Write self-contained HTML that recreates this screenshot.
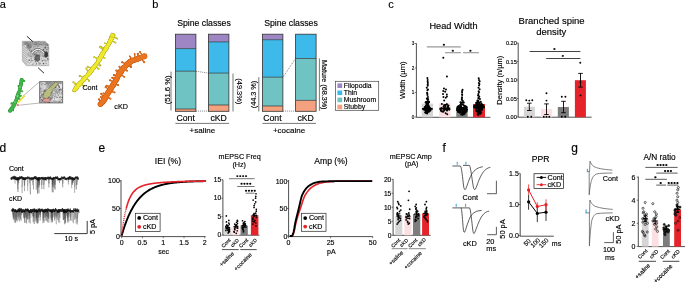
<!DOCTYPE html>
<html><head><meta charset="utf-8"><style>
html,body{margin:0;padding:0;background:#fff;}
svg{display:block;font-family:"Liberation Sans", sans-serif;will-change:transform;}
</style></head><body>
<svg width="685" height="282" viewBox="0 0 685 282">
<text x="-0.30" y="7.80" font-size="11" text-anchor="start" font-weight="normal" fill="#000" stroke="#000" stroke-width="0.15">a</text>
<text x="152.30" y="7.80" font-size="11" text-anchor="start" font-weight="normal" fill="#000" stroke="#000" stroke-width="0.15">b</text>
<text x="388.20" y="7.80" font-size="11" text-anchor="start" font-weight="normal" fill="#000" stroke="#000" stroke-width="0.15">c</text>
<text x="-0.60" y="151.50" font-size="12" text-anchor="start" font-weight="normal" fill="#000" stroke="#000" stroke-width="0.15">d</text>
<text x="98.40" y="151.50" font-size="12" text-anchor="start" font-weight="normal" fill="#000" stroke="#000" stroke-width="0.15">e</text>
<text x="442.60" y="151.50" font-size="12" text-anchor="start" font-weight="normal" fill="#000" stroke="#000" stroke-width="0.15">f</text>
<text x="571.20" y="151.50" font-size="12" text-anchor="start" font-weight="normal" fill="#000" stroke="#000" stroke-width="0.15">g</text>
<polygon points="22.3,41.2 45,41.2 48.9,44.8 48.9,65.8 26.2,65.8 22.3,60.7" fill="#bcbcbc"/>
<clipPath id="cube"><polygon points="22.3,41.2 45,41.2 48.9,44.8 48.9,65.8 26.2,65.8 22.3,60.7"/></clipPath>
<g clip-path="url(#cube)">
<rect x="26" y="57" width="24" height="10" fill="#d6d6d6"/>
<polygon points="22.3,41.2 27,45.5 27,66 22.3,61" fill="#dadada"/>
<line x1="22.3" y1="45.0" x2="27" y2="49.0" stroke="#777" stroke-width="0.45"/>
<line x1="22.3" y1="47.2" x2="27" y2="51.2" stroke="#777" stroke-width="0.45"/>
<line x1="22.3" y1="49.4" x2="27" y2="53.4" stroke="#777" stroke-width="0.45"/>
<line x1="22.3" y1="51.6" x2="27" y2="55.6" stroke="#777" stroke-width="0.45"/>
<line x1="22.3" y1="53.8" x2="27" y2="57.8" stroke="#777" stroke-width="0.45"/>
<line x1="22.3" y1="56.0" x2="27" y2="60.0" stroke="#777" stroke-width="0.45"/>
<line x1="22.3" y1="58.2" x2="27" y2="62.2" stroke="#777" stroke-width="0.45"/>
<line x1="22.3" y1="60.4" x2="27" y2="64.4" stroke="#777" stroke-width="0.45"/>
<rect x="28.7" y="55.1" width="1.3" height="0.9" fill="rgb(160,160,160)" opacity="0.75"/>
<rect x="38.3" y="56.7" width="0.7" height="0.7" fill="rgb(215,215,215)" opacity="0.75"/>
<rect x="49.9" y="53.2" width="0.9" height="1.1" fill="rgb(235,235,235)" opacity="0.75"/>
<rect x="46.3" y="54.6" width="1.1" height="0.6" fill="rgb(50,50,50)" opacity="0.75"/>
<rect x="43.2" y="56.4" width="1.2" height="1.2" fill="rgb(130,130,130)" opacity="0.75"/>
<rect x="29.5" y="56.5" width="1.1" height="1.3" fill="rgb(190,190,190)" opacity="0.75"/>
<rect x="33.1" y="61.8" width="1.4" height="0.6" fill="rgb(215,215,215)" opacity="0.75"/>
<rect x="32.2" y="41.9" width="0.7" height="1.4" fill="rgb(215,215,215)" opacity="0.75"/>
<rect x="34.2" y="57.3" width="0.9" height="1.3" fill="rgb(130,130,130)" opacity="0.75"/>
<rect x="38.1" y="54.9" width="1.0" height="1.3" fill="rgb(190,190,190)" opacity="0.75"/>
<rect x="41.1" y="65.2" width="1.4" height="1.1" fill="rgb(130,130,130)" opacity="0.75"/>
<rect x="49.0" y="64.5" width="0.6" height="1.1" fill="rgb(250,250,250)" opacity="0.75"/>
<rect x="39.7" y="66.7" width="0.8" height="0.6" fill="rgb(130,130,130)" opacity="0.75"/>
<rect x="45.9" y="66.7" width="0.8" height="0.6" fill="rgb(70,70,70)" opacity="0.75"/>
<rect x="47.1" y="41.5" width="1.2" height="1.3" fill="rgb(190,190,190)" opacity="0.75"/>
<rect x="31.3" y="63.9" width="1.0" height="1.4" fill="rgb(130,130,130)" opacity="0.75"/>
<rect x="30.7" y="43.0" width="1.0" height="1.4" fill="rgb(250,250,250)" opacity="0.75"/>
<rect x="49.2" y="48.6" width="0.6" height="0.5" fill="rgb(130,130,130)" opacity="0.75"/>
<rect x="46.3" y="49.2" width="1.3" height="0.8" fill="rgb(90,90,90)" opacity="0.75"/>
<rect x="34.9" y="54.5" width="1.1" height="0.6" fill="rgb(250,250,250)" opacity="0.75"/>
<rect x="49.2" y="62.1" width="0.9" height="1.1" fill="rgb(130,130,130)" opacity="0.75"/>
<rect x="28.7" y="48.8" width="1.0" height="1.0" fill="rgb(130,130,130)" opacity="0.75"/>
<rect x="38.2" y="41.5" width="1.0" height="0.6" fill="rgb(250,250,250)" opacity="0.75"/>
<rect x="39.7" y="49.6" width="1.1" height="0.8" fill="rgb(160,160,160)" opacity="0.75"/>
<rect x="41.8" y="60.2" width="1.0" height="1.4" fill="rgb(50,50,50)" opacity="0.75"/>
<rect x="39.6" y="48.8" width="0.8" height="0.8" fill="rgb(250,250,250)" opacity="0.75"/>
<rect x="30.8" y="50.6" width="0.7" height="1.2" fill="rgb(250,250,250)" opacity="0.75"/>
<rect x="49.2" y="58.8" width="0.8" height="0.7" fill="rgb(90,90,90)" opacity="0.75"/>
<rect x="44.5" y="47.2" width="1.1" height="1.1" fill="rgb(90,90,90)" opacity="0.75"/>
<rect x="48.6" y="58.5" width="0.9" height="1.3" fill="rgb(110,110,110)" opacity="0.75"/>
<rect x="40.2" y="64.0" width="0.7" height="1.2" fill="rgb(215,215,215)" opacity="0.75"/>
<rect x="30.8" y="62.7" width="0.7" height="0.8" fill="rgb(250,250,250)" opacity="0.75"/>
<rect x="44.6" y="57.7" width="0.8" height="0.6" fill="rgb(250,250,250)" opacity="0.75"/>
<rect x="30.2" y="61.6" width="0.9" height="1.1" fill="rgb(130,130,130)" opacity="0.75"/>
<rect x="30.1" y="55.8" width="1.3" height="0.6" fill="rgb(50,50,50)" opacity="0.75"/>
<rect x="46.6" y="66.7" width="1.0" height="1.4" fill="rgb(190,190,190)" opacity="0.75"/>
<rect x="42.1" y="41.8" width="1.3" height="1.1" fill="rgb(215,215,215)" opacity="0.75"/>
<rect x="36.5" y="48.5" width="1.3" height="1.3" fill="rgb(160,160,160)" opacity="0.75"/>
<rect x="46.0" y="66.2" width="1.2" height="0.5" fill="rgb(70,70,70)" opacity="0.75"/>
<rect x="47.3" y="59.0" width="1.3" height="1.3" fill="rgb(110,110,110)" opacity="0.75"/>
<rect x="38.2" y="41.3" width="0.7" height="0.8" fill="rgb(70,70,70)" opacity="0.75"/>
<rect x="40.6" y="54.6" width="0.5" height="1.3" fill="rgb(190,190,190)" opacity="0.75"/>
<rect x="25.2" y="44.3" width="0.9" height="1.2" fill="rgb(235,235,235)" opacity="0.75"/>
<rect x="31.9" y="46.1" width="1.3" height="0.6" fill="rgb(235,235,235)" opacity="0.75"/>
<rect x="28.7" y="48.1" width="1.2" height="0.5" fill="rgb(90,90,90)" opacity="0.75"/>
<rect x="39.6" y="63.4" width="1.2" height="0.7" fill="rgb(50,50,50)" opacity="0.75"/>
<rect x="39.3" y="54.5" width="0.9" height="1.2" fill="rgb(50,50,50)" opacity="0.75"/>
<rect x="22.1" y="42.4" width="0.5" height="0.5" fill="rgb(90,90,90)" opacity="0.75"/>
<rect x="35.5" y="41.9" width="1.0" height="0.9" fill="rgb(70,70,70)" opacity="0.75"/>
<rect x="26.4" y="42.9" width="1.1" height="1.0" fill="rgb(190,190,190)" opacity="0.75"/>
<rect x="32.1" y="46.0" width="0.9" height="0.6" fill="rgb(160,160,160)" opacity="0.75"/>
<rect x="44.3" y="55.7" width="0.8" height="1.0" fill="rgb(50,50,50)" opacity="0.75"/>
<rect x="43.9" y="50.9" width="1.1" height="0.9" fill="rgb(50,50,50)" opacity="0.75"/>
<rect x="32.4" y="53.9" width="0.9" height="1.1" fill="rgb(160,160,160)" opacity="0.75"/>
<rect x="34.9" y="47.4" width="0.7" height="1.0" fill="rgb(235,235,235)" opacity="0.75"/>
<rect x="44.5" y="46.8" width="1.3" height="1.3" fill="rgb(90,90,90)" opacity="0.75"/>
<rect x="32.5" y="64.3" width="0.6" height="1.1" fill="rgb(130,130,130)" opacity="0.75"/>
<rect x="48.3" y="60.0" width="1.2" height="1.1" fill="rgb(235,235,235)" opacity="0.75"/>
<rect x="42.5" y="55.7" width="1.2" height="1.1" fill="rgb(70,70,70)" opacity="0.75"/>
<rect x="35.3" y="47.1" width="0.5" height="0.6" fill="rgb(190,190,190)" opacity="0.75"/>
<rect x="27.0" y="41.6" width="0.5" height="0.6" fill="rgb(70,70,70)" opacity="0.75"/>
<rect x="35.5" y="59.1" width="1.0" height="1.2" fill="rgb(130,130,130)" opacity="0.75"/>
<rect x="36.3" y="59.6" width="1.0" height="0.6" fill="rgb(70,70,70)" opacity="0.75"/>
<rect x="37.5" y="55.3" width="0.7" height="0.6" fill="rgb(250,250,250)" opacity="0.75"/>
<rect x="50.0" y="57.8" width="1.1" height="1.2" fill="rgb(215,215,215)" opacity="0.75"/>
<rect x="33.0" y="50.6" width="1.3" height="1.0" fill="rgb(190,190,190)" opacity="0.75"/>
<rect x="49.1" y="50.8" width="1.4" height="0.9" fill="rgb(110,110,110)" opacity="0.75"/>
<rect x="42.9" y="45.2" width="1.2" height="1.1" fill="rgb(250,250,250)" opacity="0.75"/>
<rect x="36.5" y="53.6" width="1.3" height="0.6" fill="rgb(190,190,190)" opacity="0.75"/>
<rect x="47.7" y="54.4" width="1.0" height="1.3" fill="rgb(215,215,215)" opacity="0.75"/>
<rect x="48.2" y="63.1" width="1.4" height="0.8" fill="rgb(235,235,235)" opacity="0.75"/>
<rect x="41.7" y="51.7" width="1.0" height="0.7" fill="rgb(250,250,250)" opacity="0.75"/>
<rect x="28.1" y="41.6" width="1.2" height="0.7" fill="rgb(215,215,215)" opacity="0.75"/>
<rect x="38.0" y="47.2" width="1.2" height="0.6" fill="rgb(215,215,215)" opacity="0.75"/>
<rect x="49.8" y="53.5" width="0.7" height="1.0" fill="rgb(250,250,250)" opacity="0.75"/>
<rect x="47.2" y="58.0" width="0.9" height="1.1" fill="rgb(50,50,50)" opacity="0.75"/>
<rect x="46.0" y="51.4" width="0.9" height="0.7" fill="rgb(50,50,50)" opacity="0.75"/>
<rect x="28.6" y="59.7" width="1.4" height="1.3" fill="rgb(70,70,70)" opacity="0.75"/>
<rect x="28.8" y="45.9" width="0.6" height="1.1" fill="rgb(130,130,130)" opacity="0.75"/>
<rect x="40.9" y="42.0" width="0.7" height="0.5" fill="rgb(130,130,130)" opacity="0.75"/>
<rect x="27.1" y="43.4" width="0.6" height="0.7" fill="rgb(70,70,70)" opacity="0.75"/>
<rect x="47.6" y="41.9" width="1.0" height="1.1" fill="rgb(215,215,215)" opacity="0.75"/>
<rect x="34.2" y="53.6" width="1.1" height="1.2" fill="rgb(110,110,110)" opacity="0.75"/>
<rect x="35.7" y="44.3" width="0.6" height="0.7" fill="rgb(160,160,160)" opacity="0.75"/>
<rect x="40.6" y="43.9" width="1.3" height="0.6" fill="rgb(235,235,235)" opacity="0.75"/>
<rect x="48.4" y="50.7" width="1.2" height="0.8" fill="rgb(160,160,160)" opacity="0.75"/>
<rect x="40.9" y="58.0" width="0.6" height="1.4" fill="rgb(130,130,130)" opacity="0.75"/>
<rect x="31.5" y="55.7" width="0.6" height="0.9" fill="rgb(235,235,235)" opacity="0.75"/>
<rect x="31.9" y="59.7" width="1.2" height="1.1" fill="rgb(250,250,250)" opacity="0.75"/>
<rect x="42.4" y="44.9" width="1.3" height="1.1" fill="rgb(160,160,160)" opacity="0.75"/>
<rect x="42.2" y="56.5" width="0.8" height="0.7" fill="rgb(235,235,235)" opacity="0.75"/>
<rect x="35.5" y="61.3" width="0.6" height="0.7" fill="rgb(70,70,70)" opacity="0.75"/>
<rect x="37.5" y="56.0" width="0.8" height="0.7" fill="rgb(190,190,190)" opacity="0.75"/>
<rect x="32.7" y="63.7" width="0.9" height="0.7" fill="rgb(50,50,50)" opacity="0.75"/>
<rect x="41.5" y="54.4" width="1.4" height="0.9" fill="rgb(160,160,160)" opacity="0.75"/>
<rect x="44.7" y="42.8" width="1.3" height="0.6" fill="rgb(215,215,215)" opacity="0.75"/>
<rect x="29.6" y="43.6" width="1.0" height="1.3" fill="rgb(70,70,70)" opacity="0.75"/>
<rect x="37.9" y="58.4" width="1.2" height="1.2" fill="rgb(190,190,190)" opacity="0.75"/>
<rect x="38.6" y="44.8" width="1.2" height="1.0" fill="rgb(190,190,190)" opacity="0.75"/>
<rect x="46.3" y="50.6" width="0.5" height="1.2" fill="rgb(130,130,130)" opacity="0.75"/>
<rect x="47.0" y="65.7" width="0.8" height="1.3" fill="rgb(190,190,190)" opacity="0.75"/>
<rect x="30.7" y="53.9" width="1.1" height="0.8" fill="rgb(235,235,235)" opacity="0.75"/>
<rect x="46.1" y="53.6" width="0.7" height="1.1" fill="rgb(250,250,250)" opacity="0.75"/>
<rect x="28.5" y="45.5" width="0.7" height="1.2" fill="rgb(215,215,215)" opacity="0.75"/>
<rect x="27.9" y="62.1" width="0.6" height="0.8" fill="rgb(215,215,215)" opacity="0.75"/>
<rect x="40.4" y="45.0" width="1.2" height="1.1" fill="rgb(215,215,215)" opacity="0.75"/>
<rect x="28.5" y="43.0" width="0.5" height="0.8" fill="rgb(235,235,235)" opacity="0.75"/>
<rect x="31.2" y="49.9" width="0.6" height="1.3" fill="rgb(90,90,90)" opacity="0.75"/>
<rect x="43.7" y="41.9" width="1.2" height="0.8" fill="rgb(70,70,70)" opacity="0.75"/>
<rect x="44.6" y="65.2" width="0.9" height="1.2" fill="rgb(110,110,110)" opacity="0.75"/>
<rect x="35.6" y="43.8" width="0.9" height="1.3" fill="rgb(50,50,50)" opacity="0.75"/>
<rect x="41.8" y="51.2" width="1.1" height="1.0" fill="rgb(215,215,215)" opacity="0.75"/>
<rect x="33.8" y="57.9" width="0.5" height="0.9" fill="rgb(130,130,130)" opacity="0.75"/>
<rect x="41.4" y="52.4" width="1.3" height="1.1" fill="rgb(215,215,215)" opacity="0.75"/>
<rect x="32.3" y="50.6" width="0.8" height="0.9" fill="rgb(235,235,235)" opacity="0.75"/>
<rect x="49.2" y="61.9" width="1.2" height="0.6" fill="rgb(130,130,130)" opacity="0.75"/>
<rect x="34.9" y="46.1" width="0.5" height="1.0" fill="rgb(110,110,110)" opacity="0.75"/>
<rect x="36.1" y="57.6" width="0.6" height="0.7" fill="rgb(90,90,90)" opacity="0.75"/>
<rect x="35.7" y="42.6" width="0.9" height="0.8" fill="rgb(50,50,50)" opacity="0.75"/>
<rect x="28.7" y="42.0" width="0.5" height="1.4" fill="rgb(215,215,215)" opacity="0.75"/>
<rect x="28.1" y="43.5" width="0.7" height="0.8" fill="rgb(215,215,215)" opacity="0.75"/>
<rect x="38.6" y="62.0" width="0.7" height="1.2" fill="rgb(130,130,130)" opacity="0.75"/>
<rect x="35.0" y="65.3" width="0.9" height="1.0" fill="rgb(130,130,130)" opacity="0.75"/>
<rect x="49.8" y="49.2" width="1.1" height="1.4" fill="rgb(50,50,50)" opacity="0.75"/>
<rect x="38.6" y="41.1" width="1.1" height="0.5" fill="rgb(50,50,50)" opacity="0.75"/>
<rect x="36.1" y="53.5" width="1.1" height="1.3" fill="rgb(110,110,110)" opacity="0.75"/>
<rect x="27.6" y="66.3" width="0.8" height="0.9" fill="rgb(215,215,215)" opacity="0.75"/>
<rect x="31.8" y="58.1" width="0.8" height="1.0" fill="rgb(190,190,190)" opacity="0.75"/>
<rect x="48.5" y="43.3" width="0.7" height="0.9" fill="rgb(130,130,130)" opacity="0.75"/>
<rect x="36.2" y="55.2" width="1.1" height="1.3" fill="rgb(235,235,235)" opacity="0.75"/>
<rect x="42.6" y="62.7" width="0.8" height="0.7" fill="rgb(235,235,235)" opacity="0.75"/>
<rect x="44.4" y="52.4" width="1.2" height="0.9" fill="rgb(215,215,215)" opacity="0.75"/>
<rect x="29.5" y="45.4" width="1.3" height="1.1" fill="rgb(250,250,250)" opacity="0.75"/>
<rect x="48.6" y="42.1" width="1.1" height="0.5" fill="rgb(90,90,90)" opacity="0.75"/>
<rect x="35.1" y="60.7" width="0.8" height="1.0" fill="rgb(70,70,70)" opacity="0.75"/>
<rect x="44.4" y="42.5" width="1.3" height="0.9" fill="rgb(250,250,250)" opacity="0.75"/>
<rect x="47.1" y="60.1" width="1.4" height="0.5" fill="rgb(160,160,160)" opacity="0.75"/>
<rect x="27.5" y="61.5" width="0.8" height="0.8" fill="rgb(70,70,70)" opacity="0.75"/>
<rect x="34.6" y="62.4" width="0.7" height="0.5" fill="rgb(110,110,110)" opacity="0.75"/>
<rect x="38.4" y="41.3" width="0.8" height="0.7" fill="rgb(110,110,110)" opacity="0.75"/>
<rect x="45.8" y="54.4" width="1.2" height="1.0" fill="rgb(235,235,235)" opacity="0.75"/>
<rect x="44.1" y="54.9" width="0.9" height="1.1" fill="rgb(110,110,110)" opacity="0.75"/>
<rect x="38.7" y="63.3" width="0.7" height="1.3" fill="rgb(70,70,70)" opacity="0.75"/>
<rect x="28.2" y="62.6" width="0.6" height="0.9" fill="rgb(250,250,250)" opacity="0.75"/>
<rect x="40.7" y="59.2" width="1.0" height="0.9" fill="rgb(190,190,190)" opacity="0.75"/>
<rect x="38.6" y="62.2" width="0.6" height="0.5" fill="rgb(110,110,110)" opacity="0.75"/>
<rect x="30.4" y="57.7" width="0.8" height="0.9" fill="rgb(160,160,160)" opacity="0.75"/>
<rect x="42.6" y="52.0" width="1.0" height="0.7" fill="rgb(70,70,70)" opacity="0.75"/>
<rect x="31.8" y="66.9" width="0.7" height="0.9" fill="rgb(160,160,160)" opacity="0.75"/>
<rect x="29.0" y="49.4" width="1.2" height="1.3" fill="rgb(110,110,110)" opacity="0.75"/>
<rect x="49.6" y="56.9" width="1.3" height="0.8" fill="rgb(235,235,235)" opacity="0.75"/>
<rect x="27.4" y="57.2" width="0.9" height="1.2" fill="rgb(190,190,190)" opacity="0.75"/>
<rect x="33.4" y="66.9" width="0.8" height="1.3" fill="rgb(50,50,50)" opacity="0.75"/>
<rect x="27.2" y="43.5" width="0.8" height="1.0" fill="rgb(90,90,90)" opacity="0.75"/>
<rect x="39.9" y="42.1" width="0.7" height="0.9" fill="rgb(110,110,110)" opacity="0.75"/>
<rect x="31.7" y="60.3" width="0.6" height="0.9" fill="rgb(130,130,130)" opacity="0.75"/>
<rect x="47.4" y="52.5" width="0.6" height="1.2" fill="rgb(110,110,110)" opacity="0.75"/>
<rect x="41.6" y="66.4" width="1.3" height="0.9" fill="rgb(160,160,160)" opacity="0.75"/>
<rect x="48.3" y="53.3" width="0.7" height="1.4" fill="rgb(235,235,235)" opacity="0.75"/>
<rect x="30.1" y="41.8" width="1.3" height="1.2" fill="rgb(160,160,160)" opacity="0.75"/>
<rect x="30.3" y="47.3" width="0.5" height="0.6" fill="rgb(235,235,235)" opacity="0.75"/>
<rect x="36.9" y="54.9" width="1.4" height="0.5" fill="rgb(90,90,90)" opacity="0.75"/>
<rect x="49.5" y="61.6" width="1.4" height="1.2" fill="rgb(160,160,160)" opacity="0.75"/>
<rect x="49.4" y="41.9" width="0.7" height="0.7" fill="rgb(90,90,90)" opacity="0.75"/>
<rect x="47.3" y="62.7" width="1.0" height="0.6" fill="rgb(250,250,250)" opacity="0.75"/>
<rect x="30.7" y="47.4" width="0.9" height="0.7" fill="rgb(215,215,215)" opacity="0.75"/>
<rect x="39.6" y="58.6" width="0.7" height="0.6" fill="rgb(250,250,250)" opacity="0.75"/>
<rect x="43.2" y="61.5" width="1.2" height="0.8" fill="rgb(235,235,235)" opacity="0.75"/>
<rect x="25.7" y="41.4" width="0.5" height="1.1" fill="rgb(50,50,50)" opacity="0.75"/>
<rect x="47.1" y="64.6" width="1.0" height="1.2" fill="rgb(215,215,215)" opacity="0.75"/>
<rect x="46.1" y="66.4" width="0.9" height="1.0" fill="rgb(235,235,235)" opacity="0.75"/>
<rect x="41.1" y="66.8" width="0.6" height="1.2" fill="rgb(235,235,235)" opacity="0.75"/>
<rect x="34.4" y="48.2" width="0.9" height="1.4" fill="rgb(130,130,130)" opacity="0.75"/>
<rect x="36.6" y="51.7" width="1.2" height="1.3" fill="rgb(110,110,110)" opacity="0.75"/>
<rect x="39.1" y="41.8" width="1.0" height="0.6" fill="rgb(250,250,250)" opacity="0.75"/>
<rect x="43.1" y="48.0" width="1.1" height="0.8" fill="rgb(190,190,190)" opacity="0.75"/>
<rect x="36.4" y="64.3" width="0.7" height="1.3" fill="rgb(215,215,215)" opacity="0.75"/>
<rect x="27.1" y="51.0" width="0.8" height="0.7" fill="rgb(190,190,190)" opacity="0.75"/>
<rect x="48.6" y="65.5" width="1.0" height="1.0" fill="rgb(160,160,160)" opacity="0.75"/>
<rect x="33.6" y="64.4" width="0.7" height="0.7" fill="rgb(215,215,215)" opacity="0.75"/>
<rect x="42.8" y="62.8" width="1.3" height="1.4" fill="rgb(50,50,50)" opacity="0.75"/>
<rect x="41.4" y="52.2" width="0.9" height="0.8" fill="rgb(215,215,215)" opacity="0.75"/>
<rect x="37.7" y="45.5" width="1.4" height="0.6" fill="rgb(215,215,215)" opacity="0.75"/>
<rect x="47.4" y="45.6" width="1.1" height="1.1" fill="rgb(215,215,215)" opacity="0.75"/>
<rect x="26.0" y="42.4" width="0.8" height="1.1" fill="rgb(90,90,90)" opacity="0.75"/>
<rect x="25.7" y="44.8" width="1.4" height="1.0" fill="rgb(235,235,235)" opacity="0.75"/>
<rect x="32.7" y="43.8" width="0.7" height="0.5" fill="rgb(190,190,190)" opacity="0.75"/>
<rect x="24.9" y="44.0" width="0.6" height="0.8" fill="rgb(130,130,130)" opacity="0.75"/>
<rect x="47.6" y="43.0" width="0.5" height="0.8" fill="rgb(110,110,110)" opacity="0.75"/>
<rect x="47.1" y="43.7" width="0.9" height="1.2" fill="rgb(160,160,160)" opacity="0.75"/>
<rect x="36.9" y="63.2" width="1.0" height="0.9" fill="rgb(215,215,215)" opacity="0.75"/>
<rect x="37.1" y="52.5" width="0.9" height="0.8" fill="rgb(235,235,235)" opacity="0.75"/>
<rect x="43.2" y="48.7" width="0.8" height="1.3" fill="rgb(90,90,90)" opacity="0.75"/>
<rect x="48.9" y="49.2" width="0.6" height="1.0" fill="rgb(110,110,110)" opacity="0.75"/>
<rect x="26.4" y="44.2" width="1.4" height="1.1" fill="rgb(190,190,190)" opacity="0.75"/>
<rect x="36.7" y="60.9" width="0.9" height="1.0" fill="rgb(70,70,70)" opacity="0.75"/>
<rect x="31.1" y="56.4" width="0.8" height="1.0" fill="rgb(110,110,110)" opacity="0.75"/>
<rect x="32.5" y="49.3" width="1.1" height="1.2" fill="rgb(160,160,160)" opacity="0.75"/>
<rect x="42.2" y="49.9" width="0.8" height="1.4" fill="rgb(160,160,160)" opacity="0.75"/>
<rect x="29.6" y="44.2" width="0.7" height="1.4" fill="rgb(235,235,235)" opacity="0.75"/>
<rect x="42.4" y="47.5" width="1.4" height="0.9" fill="rgb(190,190,190)" opacity="0.75"/>
<rect x="35.4" y="54.8" width="1.4" height="1.0" fill="rgb(90,90,90)" opacity="0.75"/>
<rect x="34.4" y="57.1" width="0.9" height="1.0" fill="rgb(70,70,70)" opacity="0.75"/>
<rect x="39.1" y="48.6" width="1.3" height="0.8" fill="rgb(110,110,110)" opacity="0.75"/>
<rect x="49.5" y="50.5" width="0.5" height="0.9" fill="rgb(110,110,110)" opacity="0.75"/>
<rect x="32.9" y="55.6" width="0.8" height="1.0" fill="rgb(50,50,50)" opacity="0.75"/>
<rect x="33.2" y="50.7" width="1.0" height="0.6" fill="rgb(70,70,70)" opacity="0.75"/>
<rect x="28.2" y="50.6" width="0.5" height="1.3" fill="rgb(250,250,250)" opacity="0.75"/>
<rect x="27.9" y="52.3" width="0.5" height="1.0" fill="rgb(110,110,110)" opacity="0.75"/>
<rect x="47.8" y="54.9" width="1.2" height="1.3" fill="rgb(160,160,160)" opacity="0.75"/>
<rect x="47.6" y="52.5" width="0.6" height="1.3" fill="rgb(250,250,250)" opacity="0.75"/>
<rect x="32.6" y="53.4" width="0.8" height="0.7" fill="rgb(130,130,130)" opacity="0.75"/>
<rect x="45.1" y="56.6" width="0.9" height="1.2" fill="rgb(70,70,70)" opacity="0.75"/>
<rect x="32.7" y="53.7" width="0.9" height="0.6" fill="rgb(90,90,90)" opacity="0.75"/>
<rect x="27.7" y="57.5" width="1.1" height="1.1" fill="rgb(250,250,250)" opacity="0.75"/>
<rect x="34.2" y="43.5" width="0.6" height="1.3" fill="rgb(70,70,70)" opacity="0.75"/>
<rect x="42.9" y="49.3" width="0.8" height="1.3" fill="rgb(50,50,50)" opacity="0.75"/>
<rect x="39.7" y="43.4" width="1.1" height="1.3" fill="rgb(160,160,160)" opacity="0.75"/>
<rect x="28.3" y="49.4" width="1.4" height="0.5" fill="rgb(190,190,190)" opacity="0.75"/>
<rect x="36.5" y="64.5" width="1.0" height="1.0" fill="rgb(235,235,235)" opacity="0.75"/>
<rect x="35.1" y="63.3" width="0.9" height="0.8" fill="rgb(235,235,235)" opacity="0.75"/>
<rect x="34.8" y="66.0" width="0.7" height="0.8" fill="rgb(110,110,110)" opacity="0.75"/>
<rect x="47.2" y="44.5" width="0.8" height="1.0" fill="rgb(235,235,235)" opacity="0.75"/>
<rect x="30.8" y="63.4" width="1.3" height="1.2" fill="rgb(250,250,250)" opacity="0.75"/>
<rect x="27.7" y="42.6" width="1.3" height="1.1" fill="rgb(190,190,190)" opacity="0.75"/>
<rect x="35.8" y="63.2" width="1.2" height="1.3" fill="rgb(90,90,90)" opacity="0.75"/>
<rect x="33.1" y="46.5" width="1.2" height="0.8" fill="rgb(90,90,90)" opacity="0.75"/>
<rect x="28.9" y="63.9" width="0.7" height="0.8" fill="rgb(50,50,50)" opacity="0.75"/>
<rect x="28.3" y="48.4" width="0.7" height="1.1" fill="rgb(160,160,160)" opacity="0.75"/>
<rect x="31.5" y="43.9" width="0.8" height="0.7" fill="rgb(110,110,110)" opacity="0.75"/>
<rect x="27.9" y="62.1" width="1.0" height="0.7" fill="rgb(160,160,160)" opacity="0.75"/>
<rect x="43.0" y="51.3" width="0.9" height="0.7" fill="rgb(235,235,235)" opacity="0.75"/>
<rect x="30.5" y="50.7" width="1.2" height="1.3" fill="rgb(70,70,70)" opacity="0.75"/>
<rect x="35.7" y="56.1" width="1.0" height="0.9" fill="rgb(130,130,130)" opacity="0.75"/>
<rect x="35.9" y="51.1" width="1.4" height="0.8" fill="rgb(235,235,235)" opacity="0.75"/>
<rect x="49.9" y="53.6" width="0.6" height="0.9" fill="rgb(90,90,90)" opacity="0.75"/>
<rect x="46.2" y="44.8" width="0.6" height="1.0" fill="rgb(160,160,160)" opacity="0.75"/>
<rect x="45.8" y="53.4" width="0.6" height="1.3" fill="rgb(235,235,235)" opacity="0.75"/>
<rect x="32.5" y="42.1" width="1.2" height="0.7" fill="rgb(160,160,160)" opacity="0.75"/>
<rect x="37.5" y="48.9" width="1.0" height="1.4" fill="rgb(130,130,130)" opacity="0.75"/>
<rect x="45.4" y="60.4" width="1.3" height="0.9" fill="rgb(130,130,130)" opacity="0.75"/>
<rect x="37.6" y="60.9" width="0.9" height="1.0" fill="rgb(190,190,190)" opacity="0.75"/>
<rect x="29.0" y="59.1" width="1.3" height="1.1" fill="rgb(250,250,250)" opacity="0.75"/>
<rect x="31.1" y="45.2" width="0.7" height="0.9" fill="rgb(215,215,215)" opacity="0.75"/>
<rect x="27.5" y="51.6" width="0.8" height="1.2" fill="rgb(250,250,250)" opacity="0.75"/>
<rect x="39.0" y="59.2" width="1.0" height="0.7" fill="rgb(90,90,90)" opacity="0.75"/>
<rect x="47.8" y="63.6" width="0.8" height="0.7" fill="rgb(235,235,235)" opacity="0.75"/>
<rect x="35.4" y="58.8" width="1.3" height="0.6" fill="rgb(110,110,110)" opacity="0.75"/>
<rect x="48.5" y="53.4" width="0.6" height="0.8" fill="rgb(190,190,190)" opacity="0.75"/>
<rect x="41.1" y="47.9" width="1.4" height="1.1" fill="rgb(235,235,235)" opacity="0.75"/>
<rect x="28.9" y="47.7" width="1.2" height="1.3" fill="rgb(160,160,160)" opacity="0.75"/>
<rect x="43.0" y="46.9" width="0.8" height="0.6" fill="rgb(215,215,215)" opacity="0.75"/>
<rect x="45.2" y="44.7" width="1.1" height="0.7" fill="rgb(50,50,50)" opacity="0.75"/>
<rect x="36.2" y="50.7" width="1.2" height="1.0" fill="rgb(215,215,215)" opacity="0.75"/>
<rect x="41.2" y="52.1" width="0.7" height="1.0" fill="rgb(190,190,190)" opacity="0.75"/>
<rect x="38.4" y="51.1" width="0.5" height="0.9" fill="rgb(50,50,50)" opacity="0.75"/>
<rect x="27.8" y="59.2" width="0.7" height="1.1" fill="rgb(160,160,160)" opacity="0.75"/>
<rect x="37.8" y="66.1" width="0.7" height="0.6" fill="rgb(160,160,160)" opacity="0.75"/>
<rect x="49.5" y="60.2" width="0.9" height="0.8" fill="rgb(215,215,215)" opacity="0.75"/>
<rect x="44.8" y="60.0" width="0.6" height="1.1" fill="rgb(130,130,130)" opacity="0.75"/>
<rect x="46.8" y="44.6" width="1.1" height="1.1" fill="rgb(50,50,50)" opacity="0.75"/>
<rect x="36.5" y="59.4" width="1.4" height="1.1" fill="rgb(235,235,235)" opacity="0.75"/>
<rect x="29.4" y="59.2" width="0.6" height="1.1" fill="rgb(50,50,50)" opacity="0.75"/>
<rect x="33.6" y="41.2" width="1.0" height="0.8" fill="rgb(160,160,160)" opacity="0.75"/>
<rect x="49.2" y="43.6" width="0.8" height="1.2" fill="rgb(110,110,110)" opacity="0.75"/>
<rect x="34.5" y="58.4" width="1.1" height="0.9" fill="rgb(160,160,160)" opacity="0.75"/>
<rect x="28.6" y="41.1" width="0.7" height="0.9" fill="rgb(110,110,110)" opacity="0.75"/>
<rect x="38.0" y="55.2" width="0.7" height="0.6" fill="rgb(250,250,250)" opacity="0.75"/>
<rect x="33.4" y="56.3" width="0.7" height="1.0" fill="rgb(110,110,110)" opacity="0.75"/>
<rect x="29.4" y="60.8" width="0.8" height="1.3" fill="rgb(250,250,250)" opacity="0.75"/>
<rect x="27.9" y="56.2" width="1.2" height="0.7" fill="rgb(130,130,130)" opacity="0.75"/>
<rect x="34.7" y="54.8" width="1.3" height="1.0" fill="rgb(130,130,130)" opacity="0.75"/>
<rect x="39.5" y="52.4" width="0.8" height="1.0" fill="rgb(90,90,90)" opacity="0.75"/>
<rect x="28.3" y="54.7" width="0.6" height="0.9" fill="rgb(130,130,130)" opacity="0.75"/>
<rect x="35.4" y="47.4" width="0.5" height="0.5" fill="rgb(190,190,190)" opacity="0.75"/>
<rect x="39.4" y="42.5" width="1.3" height="1.3" fill="rgb(235,235,235)" opacity="0.75"/>
<rect x="30.5" y="53.3" width="1.2" height="1.2" fill="rgb(130,130,130)" opacity="0.75"/>
<rect x="30.7" y="55.6" width="1.4" height="0.5" fill="rgb(190,190,190)" opacity="0.75"/>
<rect x="49.0" y="46.0" width="0.6" height="0.9" fill="rgb(70,70,70)" opacity="0.75"/>
<rect x="43.0" y="59.8" width="1.1" height="0.6" fill="rgb(90,90,90)" opacity="0.75"/>
<rect x="40.9" y="54.3" width="0.5" height="0.6" fill="rgb(235,235,235)" opacity="0.75"/>
<rect x="40.9" y="65.1" width="1.1" height="0.8" fill="rgb(190,190,190)" opacity="0.75"/>
<rect x="43.9" y="52.3" width="1.0" height="0.5" fill="rgb(160,160,160)" opacity="0.75"/>
<rect x="30.6" y="60.2" width="1.2" height="1.2" fill="rgb(130,130,130)" opacity="0.75"/>
<rect x="27.8" y="43.5" width="1.2" height="1.4" fill="rgb(130,130,130)" opacity="0.75"/>
<rect x="35.4" y="46.3" width="1.0" height="1.1" fill="rgb(160,160,160)" opacity="0.75"/>
<rect x="49.9" y="42.3" width="0.7" height="0.7" fill="rgb(190,190,190)" opacity="0.75"/>
<rect x="36.0" y="47.6" width="1.0" height="0.8" fill="rgb(190,190,190)" opacity="0.75"/>
<rect x="34.1" y="42.0" width="0.8" height="1.2" fill="rgb(190,190,190)" opacity="0.75"/>
<rect x="29.6" y="46.7" width="1.3" height="1.2" fill="rgb(110,110,110)" opacity="0.75"/>
<rect x="45.7" y="56.7" width="0.9" height="0.8" fill="rgb(190,190,190)" opacity="0.75"/>
<rect x="36.1" y="52.3" width="0.9" height="0.6" fill="rgb(110,110,110)" opacity="0.75"/>
<rect x="37.7" y="45.2" width="0.7" height="1.3" fill="rgb(50,50,50)" opacity="0.75"/>
<rect x="44.4" y="59.5" width="0.9" height="1.0" fill="rgb(90,90,90)" opacity="0.75"/>
<rect x="25.2" y="43.7" width="1.4" height="0.8" fill="rgb(110,110,110)" opacity="0.75"/>
<rect x="45.9" y="64.6" width="1.4" height="0.6" fill="rgb(190,190,190)" opacity="0.75"/>
<rect x="41.3" y="57.3" width="0.8" height="0.9" fill="rgb(215,215,215)" opacity="0.75"/>
<rect x="48.0" y="47.6" width="1.0" height="0.8" fill="rgb(50,50,50)" opacity="0.75"/>
<rect x="37.5" y="46.6" width="0.8" height="0.6" fill="rgb(70,70,70)" opacity="0.75"/>
<rect x="46.9" y="47.3" width="1.3" height="0.8" fill="rgb(110,110,110)" opacity="0.75"/>
<rect x="42.7" y="43.4" width="0.8" height="0.7" fill="rgb(235,235,235)" opacity="0.75"/>
<rect x="37.2" y="55.6" width="0.5" height="1.1" fill="rgb(190,190,190)" opacity="0.75"/>
<rect x="44.9" y="47.2" width="1.2" height="1.2" fill="rgb(90,90,90)" opacity="0.75"/>
<rect x="27.7" y="45.0" width="1.3" height="1.3" fill="rgb(110,110,110)" opacity="0.75"/>
<rect x="37.6" y="44.0" width="0.7" height="1.0" fill="rgb(190,190,190)" opacity="0.75"/>
<rect x="33.1" y="56.0" width="0.7" height="1.3" fill="rgb(235,235,235)" opacity="0.75"/>
<rect x="30.7" y="58.3" width="0.9" height="1.2" fill="rgb(70,70,70)" opacity="0.75"/>
<rect x="42.0" y="61.7" width="0.7" height="1.2" fill="rgb(250,250,250)" opacity="0.75"/>
<rect x="39.0" y="44.2" width="1.3" height="0.8" fill="rgb(90,90,90)" opacity="0.75"/>
<rect x="37.2" y="51.6" width="1.0" height="0.5" fill="rgb(160,160,160)" opacity="0.75"/>
<rect x="34.4" y="59.4" width="0.9" height="0.6" fill="rgb(90,90,90)" opacity="0.75"/>
<rect x="35.4" y="50.9" width="0.7" height="0.9" fill="rgb(235,235,235)" opacity="0.75"/>
<rect x="35.2" y="59.1" width="1.3" height="0.8" fill="rgb(50,50,50)" opacity="0.75"/>
<rect x="37.8" y="54.9" width="0.9" height="1.1" fill="rgb(50,50,50)" opacity="0.75"/>
<rect x="27.2" y="66.5" width="1.1" height="0.7" fill="rgb(70,70,70)" opacity="0.75"/>
<rect x="42.6" y="66.0" width="0.6" height="1.0" fill="rgb(160,160,160)" opacity="0.75"/>
<rect x="45.5" y="63.0" width="1.4" height="0.5" fill="rgb(50,50,50)" opacity="0.75"/>
<rect x="32.6" y="43.8" width="0.9" height="1.2" fill="rgb(235,235,235)" opacity="0.75"/>
<rect x="44.3" y="67.0" width="1.3" height="1.0" fill="rgb(190,190,190)" opacity="0.75"/>
<rect x="24.5" y="43.2" width="0.8" height="1.1" fill="rgb(70,70,70)" opacity="0.75"/>
<rect x="42.0" y="42.0" width="1.3" height="1.2" fill="rgb(235,235,235)" opacity="0.75"/>
<rect x="31.1" y="52.6" width="0.8" height="0.8" fill="rgb(250,250,250)" opacity="0.75"/>
<rect x="48.7" y="63.4" width="1.1" height="0.5" fill="rgb(235,235,235)" opacity="0.75"/>
<rect x="43.1" y="52.3" width="0.9" height="1.0" fill="rgb(160,160,160)" opacity="0.75"/>
<rect x="40.7" y="44.5" width="1.3" height="0.8" fill="rgb(130,130,130)" opacity="0.75"/>
<rect x="28.6" y="45.3" width="0.9" height="0.9" fill="rgb(160,160,160)" opacity="0.75"/>
<rect x="36.6" y="59.2" width="0.8" height="0.8" fill="rgb(160,160,160)" opacity="0.75"/>
<rect x="43.0" y="45.5" width="0.6" height="1.3" fill="rgb(160,160,160)" opacity="0.75"/>
<rect x="42.4" y="56.4" width="1.4" height="1.0" fill="rgb(190,190,190)" opacity="0.75"/>
<rect x="45.0" y="65.0" width="0.5" height="1.2" fill="rgb(160,160,160)" opacity="0.75"/>
<rect x="34.3" y="42.4" width="1.0" height="1.2" fill="rgb(215,215,215)" opacity="0.75"/>
<rect x="29.0" y="64.1" width="1.0" height="0.9" fill="rgb(235,235,235)" opacity="0.75"/>
<rect x="45.3" y="46.0" width="0.6" height="1.1" fill="rgb(130,130,130)" opacity="0.75"/>
<rect x="44.8" y="61.4" width="1.1" height="0.7" fill="rgb(190,190,190)" opacity="0.75"/>
<rect x="29.3" y="44.5" width="1.3" height="0.7" fill="rgb(235,235,235)" opacity="0.75"/>
<rect x="49.8" y="65.4" width="0.9" height="1.0" fill="rgb(110,110,110)" opacity="0.75"/>
<rect x="30.1" y="58.2" width="1.1" height="0.5" fill="rgb(235,235,235)" opacity="0.75"/>
<rect x="34.3" y="53.7" width="1.3" height="1.1" fill="rgb(50,50,50)" opacity="0.75"/>
<rect x="43.9" y="45.6" width="1.0" height="0.9" fill="rgb(215,215,215)" opacity="0.75"/>
<rect x="46.1" y="54.5" width="0.7" height="0.7" fill="rgb(160,160,160)" opacity="0.75"/>
<rect x="27.0" y="53.3" width="0.6" height="1.3" fill="rgb(160,160,160)" opacity="0.75"/>
<rect x="38.3" y="47.2" width="1.1" height="0.6" fill="rgb(235,235,235)" opacity="0.75"/>
<rect x="43.0" y="47.0" width="0.6" height="0.8" fill="rgb(160,160,160)" opacity="0.75"/>
<rect x="29.0" y="63.4" width="1.0" height="0.6" fill="rgb(160,160,160)" opacity="0.75"/>
<rect x="34.0" y="59.3" width="0.9" height="0.9" fill="rgb(50,50,50)" opacity="0.75"/>
<rect x="43.6" y="43.1" width="0.9" height="0.8" fill="rgb(130,130,130)" opacity="0.75"/>
<rect x="44.3" y="51.6" width="0.9" height="1.3" fill="rgb(50,50,50)" opacity="0.75"/>
<rect x="43.3" y="58.9" width="0.5" height="0.7" fill="rgb(190,190,190)" opacity="0.75"/>
<rect x="32.3" y="52.2" width="1.3" height="1.2" fill="rgb(160,160,160)" opacity="0.75"/>
<rect x="48.0" y="59.1" width="1.4" height="0.7" fill="rgb(160,160,160)" opacity="0.75"/>
<rect x="48.6" y="51.0" width="0.8" height="0.6" fill="rgb(160,160,160)" opacity="0.75"/>
<rect x="32.2" y="60.1" width="1.1" height="0.9" fill="rgb(110,110,110)" opacity="0.75"/>
<rect x="27.5" y="55.8" width="1.4" height="1.2" fill="rgb(215,215,215)" opacity="0.75"/>
<rect x="22.3" y="41.2" width="27" height="4.2" fill="#6e6e6e" opacity="0.45"/>
<path d="M31.5,53.5 Q37.5,45.5 44,53" stroke="#555" stroke-width="2.4" fill="none"/>
<path d="M31.5,53.5 Q37.5,45.5 44,53" stroke="#e6e6e6" stroke-width="1.3" fill="none"/>
<ellipse cx="46.2" cy="54.5" rx="1.8" ry="3" fill="#3a3a3a"/>
<ellipse cx="37.5" cy="58" rx="2.6" ry="3.6" fill="#444" opacity="0.75"/>
<ellipse cx="29" cy="46.5" rx="3" ry="2" fill="#555" opacity="0.5"/>
</g>
<polygon points="22.3,41.2 45,41.2 48.9,44.8 48.9,65.8 26.2,65.8 22.3,60.7" fill="none" stroke="#999" stroke-width="0.4"/>
<line x1="26.90" y1="36.20" x2="32.90" y2="41.70" stroke="#111" stroke-width="0.9"/>
<line x1="38.10" y1="67.70" x2="44.00" y2="73.20" stroke="#111" stroke-width="0.9"/>
<line x1="22.70" y1="96.30" x2="39.80" y2="81.60" stroke="#888" stroke-width="0.6"/>
<line x1="19.20" y1="105.20" x2="39.80" y2="103.00" stroke="#888" stroke-width="0.6"/>
<rect x="39.7" y="81.7" width="23.1" height="21.3" fill="#a8a8a8"/>
<clipPath id="ins"><rect x="39.7" y="81.7" width="23.1" height="21.3"/></clipPath><g clip-path="url(#ins)">
<ellipse cx="58" cy="97" rx="5" ry="4" fill="#dcdcdc"/>
<ellipse cx="60" cy="86" rx="3" ry="3" fill="#e8e8e8"/>
<ellipse cx="43" cy="86" rx="3" ry="4" fill="#d0d0d0"/>
<rect x="51.9" y="99.4" width="1.4" height="0.7" fill="rgb(235,235,235)" opacity="0.85"/>
<rect x="58.9" y="99.6" width="1.3" height="0.9" fill="rgb(215,215,215)" opacity="0.85"/>
<rect x="44.4" y="95.7" width="1.4" height="1.2" fill="rgb(130,130,130)" opacity="0.85"/>
<rect x="48.0" y="98.7" width="0.8" height="1.4" fill="rgb(160,160,160)" opacity="0.85"/>
<rect x="55.1" y="89.7" width="1.3" height="0.7" fill="rgb(250,250,250)" opacity="0.85"/>
<rect x="47.6" y="83.1" width="1.4" height="1.3" fill="rgb(190,190,190)" opacity="0.85"/>
<rect x="46.0" y="85.7" width="1.2" height="0.7" fill="rgb(215,215,215)" opacity="0.85"/>
<rect x="56.4" y="92.9" width="1.4" height="0.8" fill="rgb(190,190,190)" opacity="0.85"/>
<rect x="45.3" y="101.1" width="1.5" height="0.6" fill="rgb(70,70,70)" opacity="0.85"/>
<rect x="52.9" y="102.0" width="1.4" height="0.5" fill="rgb(215,215,215)" opacity="0.85"/>
<rect x="58.1" y="95.0" width="0.8" height="0.9" fill="rgb(160,160,160)" opacity="0.85"/>
<rect x="57.0" y="84.4" width="1.3" height="1.0" fill="rgb(100,100,100)" opacity="0.85"/>
<rect x="57.2" y="89.9" width="0.7" height="1.2" fill="rgb(250,250,250)" opacity="0.85"/>
<rect x="53.3" y="98.5" width="0.6" height="1.3" fill="rgb(235,235,235)" opacity="0.85"/>
<rect x="39.8" y="93.8" width="1.4" height="1.1" fill="rgb(235,235,235)" opacity="0.85"/>
<rect x="49.7" y="84.0" width="0.8" height="1.3" fill="rgb(215,215,215)" opacity="0.85"/>
<rect x="47.9" y="101.0" width="1.4" height="1.0" fill="rgb(215,215,215)" opacity="0.85"/>
<rect x="44.1" y="96.3" width="1.3" height="0.6" fill="rgb(235,235,235)" opacity="0.85"/>
<rect x="52.3" y="100.1" width="0.8" height="1.3" fill="rgb(250,250,250)" opacity="0.85"/>
<rect x="58.9" y="94.1" width="1.4" height="0.5" fill="rgb(190,190,190)" opacity="0.85"/>
<rect x="41.3" y="94.0" width="0.7" height="0.7" fill="rgb(100,100,100)" opacity="0.85"/>
<rect x="58.1" y="85.9" width="1.0" height="0.6" fill="rgb(100,100,100)" opacity="0.85"/>
<rect x="48.8" y="92.4" width="1.4" height="1.3" fill="rgb(40,40,40)" opacity="0.85"/>
<rect x="44.4" y="98.5" width="1.3" height="0.6" fill="rgb(215,215,215)" opacity="0.85"/>
<rect x="41.6" y="83.0" width="1.2" height="1.3" fill="rgb(160,160,160)" opacity="0.85"/>
<rect x="43.8" y="85.5" width="0.6" height="1.0" fill="rgb(190,190,190)" opacity="0.85"/>
<rect x="55.0" y="84.6" width="1.1" height="0.8" fill="rgb(130,130,130)" opacity="0.85"/>
<rect x="60.3" y="82.8" width="1.1" height="1.3" fill="rgb(130,130,130)" opacity="0.85"/>
<rect x="47.8" y="83.0" width="0.7" height="1.1" fill="rgb(100,100,100)" opacity="0.85"/>
<rect x="50.0" y="98.2" width="1.4" height="1.4" fill="rgb(130,130,130)" opacity="0.85"/>
<rect x="59.2" y="93.5" width="1.2" height="1.1" fill="rgb(190,190,190)" opacity="0.85"/>
<rect x="49.5" y="82.0" width="0.9" height="1.0" fill="rgb(70,70,70)" opacity="0.85"/>
<rect x="45.1" y="90.3" width="0.7" height="1.4" fill="rgb(100,100,100)" opacity="0.85"/>
<rect x="62.0" y="87.3" width="1.0" height="1.4" fill="rgb(100,100,100)" opacity="0.85"/>
<rect x="60.5" y="102.8" width="1.1" height="0.6" fill="rgb(40,40,40)" opacity="0.85"/>
<rect x="45.0" y="90.6" width="0.6" height="1.4" fill="rgb(100,100,100)" opacity="0.85"/>
<rect x="40.2" y="102.5" width="0.8" height="1.1" fill="rgb(130,130,130)" opacity="0.85"/>
<rect x="60.8" y="88.7" width="0.8" height="1.3" fill="rgb(235,235,235)" opacity="0.85"/>
<rect x="42.1" y="100.7" width="0.5" height="0.9" fill="rgb(40,40,40)" opacity="0.85"/>
<rect x="40.3" y="85.4" width="0.5" height="0.8" fill="rgb(70,70,70)" opacity="0.85"/>
<rect x="56.2" y="103.0" width="1.4" height="1.3" fill="rgb(40,40,40)" opacity="0.85"/>
<rect x="56.3" y="89.8" width="0.8" height="1.3" fill="rgb(160,160,160)" opacity="0.85"/>
<rect x="47.8" y="95.6" width="0.8" height="1.1" fill="rgb(70,70,70)" opacity="0.85"/>
<rect x="52.3" y="95.1" width="0.9" height="0.6" fill="rgb(100,100,100)" opacity="0.85"/>
<rect x="53.2" y="92.1" width="1.5" height="0.9" fill="rgb(250,250,250)" opacity="0.85"/>
<rect x="62.1" y="94.8" width="1.0" height="0.8" fill="rgb(250,250,250)" opacity="0.85"/>
<rect x="45.3" y="86.3" width="1.0" height="1.2" fill="rgb(215,215,215)" opacity="0.85"/>
<rect x="60.9" y="98.8" width="0.7" height="1.2" fill="rgb(100,100,100)" opacity="0.85"/>
<rect x="55.0" y="93.7" width="0.7" height="1.5" fill="rgb(130,130,130)" opacity="0.85"/>
<rect x="48.3" y="96.8" width="1.2" height="1.0" fill="rgb(215,215,215)" opacity="0.85"/>
<rect x="46.6" y="90.3" width="1.3" height="0.8" fill="rgb(215,215,215)" opacity="0.85"/>
<rect x="56.2" y="94.6" width="1.4" height="0.6" fill="rgb(190,190,190)" opacity="0.85"/>
<rect x="62.2" y="94.7" width="1.2" height="0.8" fill="rgb(160,160,160)" opacity="0.85"/>
<rect x="63.0" y="91.4" width="0.7" height="0.6" fill="rgb(235,235,235)" opacity="0.85"/>
<rect x="48.4" y="92.3" width="0.8" height="1.2" fill="rgb(235,235,235)" opacity="0.85"/>
<rect x="53.2" y="87.8" width="0.6" height="1.1" fill="rgb(160,160,160)" opacity="0.85"/>
<rect x="43.9" y="82.4" width="0.9" height="0.9" fill="rgb(235,235,235)" opacity="0.85"/>
<rect x="58.4" y="100.2" width="1.3" height="0.7" fill="rgb(215,215,215)" opacity="0.85"/>
<rect x="39.6" y="102.3" width="1.0" height="0.7" fill="rgb(215,215,215)" opacity="0.85"/>
<rect x="59.1" y="96.3" width="0.6" height="1.1" fill="rgb(190,190,190)" opacity="0.85"/>
<rect x="60.8" y="101.3" width="1.1" height="0.8" fill="rgb(190,190,190)" opacity="0.85"/>
<rect x="54.5" y="95.6" width="1.0" height="1.3" fill="rgb(160,160,160)" opacity="0.85"/>
<rect x="44.3" y="97.0" width="1.4" height="1.4" fill="rgb(40,40,40)" opacity="0.85"/>
<rect x="39.7" y="86.9" width="1.1" height="0.6" fill="rgb(190,190,190)" opacity="0.85"/>
<rect x="54.3" y="81.7" width="0.8" height="1.4" fill="rgb(40,40,40)" opacity="0.85"/>
<rect x="60.6" y="84.5" width="0.7" height="0.9" fill="rgb(215,215,215)" opacity="0.85"/>
<rect x="51.3" y="83.0" width="0.7" height="0.5" fill="rgb(70,70,70)" opacity="0.85"/>
<rect x="55.7" y="88.3" width="0.5" height="0.7" fill="rgb(250,250,250)" opacity="0.85"/>
<rect x="41.3" y="83.9" width="0.9" height="1.3" fill="rgb(130,130,130)" opacity="0.85"/>
<rect x="59.0" y="85.2" width="0.9" height="0.8" fill="rgb(190,190,190)" opacity="0.85"/>
<rect x="41.9" y="100.5" width="0.6" height="1.3" fill="rgb(235,235,235)" opacity="0.85"/>
<rect x="47.7" y="83.5" width="1.0" height="0.8" fill="rgb(100,100,100)" opacity="0.85"/>
<rect x="50.4" y="87.8" width="0.9" height="0.7" fill="rgb(70,70,70)" opacity="0.85"/>
<rect x="58.8" y="101.0" width="0.8" height="1.4" fill="rgb(130,130,130)" opacity="0.85"/>
<rect x="44.2" y="85.2" width="0.6" height="1.5" fill="rgb(250,250,250)" opacity="0.85"/>
<rect x="43.2" y="89.0" width="1.3" height="1.3" fill="rgb(190,190,190)" opacity="0.85"/>
<rect x="41.3" y="100.0" width="1.2" height="0.7" fill="rgb(215,215,215)" opacity="0.85"/>
<rect x="46.1" y="88.2" width="1.0" height="1.4" fill="rgb(190,190,190)" opacity="0.85"/>
<rect x="47.3" y="88.1" width="1.1" height="1.4" fill="rgb(235,235,235)" opacity="0.85"/>
<rect x="41.8" y="88.8" width="1.2" height="0.8" fill="rgb(130,130,130)" opacity="0.85"/>
<rect x="61.5" y="86.4" width="0.8" height="0.7" fill="rgb(235,235,235)" opacity="0.85"/>
<rect x="60.9" y="89.5" width="1.0" height="0.6" fill="rgb(70,70,70)" opacity="0.85"/>
<rect x="51.2" y="85.5" width="0.6" height="0.6" fill="rgb(100,100,100)" opacity="0.85"/>
<rect x="53.9" y="81.6" width="0.8" height="1.4" fill="rgb(130,130,130)" opacity="0.85"/>
<rect x="43.7" y="91.1" width="1.5" height="0.8" fill="rgb(100,100,100)" opacity="0.85"/>
<rect x="62.7" y="94.4" width="0.7" height="0.8" fill="rgb(250,250,250)" opacity="0.85"/>
<rect x="47.1" y="101.0" width="1.3" height="0.7" fill="rgb(70,70,70)" opacity="0.85"/>
<rect x="62.5" y="84.2" width="1.3" height="1.0" fill="rgb(70,70,70)" opacity="0.85"/>
<rect x="51.0" y="87.1" width="0.8" height="0.8" fill="rgb(190,190,190)" opacity="0.85"/>
<rect x="58.3" y="83.2" width="0.6" height="0.9" fill="rgb(40,40,40)" opacity="0.85"/>
<rect x="58.0" y="102.1" width="1.4" height="1.0" fill="rgb(100,100,100)" opacity="0.85"/>
<rect x="45.9" y="95.0" width="0.9" height="0.5" fill="rgb(40,40,40)" opacity="0.85"/>
<rect x="59.0" y="93.5" width="1.2" height="0.8" fill="rgb(160,160,160)" opacity="0.85"/>
<rect x="60.8" y="89.1" width="1.2" height="0.7" fill="rgb(130,130,130)" opacity="0.85"/>
<rect x="58.0" y="94.7" width="0.9" height="0.9" fill="rgb(70,70,70)" opacity="0.85"/>
<rect x="62.1" y="102.5" width="0.7" height="0.8" fill="rgb(235,235,235)" opacity="0.85"/>
<rect x="51.4" y="87.1" width="0.5" height="1.1" fill="rgb(190,190,190)" opacity="0.85"/>
<rect x="52.7" y="99.1" width="1.1" height="1.1" fill="rgb(235,235,235)" opacity="0.85"/>
<rect x="54.5" y="98.0" width="1.0" height="0.8" fill="rgb(235,235,235)" opacity="0.85"/>
<rect x="62.0" y="97.9" width="1.3" height="0.8" fill="rgb(190,190,190)" opacity="0.85"/>
<rect x="52.0" y="88.3" width="0.5" height="1.0" fill="rgb(70,70,70)" opacity="0.85"/>
<rect x="42.9" y="102.0" width="0.8" height="1.3" fill="rgb(70,70,70)" opacity="0.85"/>
<rect x="50.0" y="83.3" width="0.8" height="0.9" fill="rgb(160,160,160)" opacity="0.85"/>
<rect x="46.0" y="86.4" width="0.7" height="0.7" fill="rgb(190,190,190)" opacity="0.85"/>
<rect x="44.3" y="89.6" width="0.5" height="1.0" fill="rgb(40,40,40)" opacity="0.85"/>
<rect x="49.5" y="95.8" width="1.2" height="0.9" fill="rgb(215,215,215)" opacity="0.85"/>
<rect x="48.2" y="96.9" width="1.3" height="0.9" fill="rgb(40,40,40)" opacity="0.85"/>
<rect x="41.8" y="94.2" width="1.3" height="0.8" fill="rgb(100,100,100)" opacity="0.85"/>
<rect x="44.0" y="87.7" width="1.3" height="0.8" fill="rgb(250,250,250)" opacity="0.85"/>
<rect x="61.9" y="96.8" width="1.0" height="1.1" fill="rgb(40,40,40)" opacity="0.85"/>
<rect x="41.6" y="94.3" width="1.3" height="0.9" fill="rgb(160,160,160)" opacity="0.85"/>
<rect x="42.1" y="94.1" width="0.8" height="0.6" fill="rgb(70,70,70)" opacity="0.85"/>
<rect x="60.1" y="101.2" width="1.1" height="1.2" fill="rgb(130,130,130)" opacity="0.85"/>
<rect x="54.8" y="100.1" width="0.8" height="0.7" fill="rgb(235,235,235)" opacity="0.85"/>
<rect x="52.3" y="94.3" width="1.1" height="1.3" fill="rgb(190,190,190)" opacity="0.85"/>
<rect x="47.8" y="94.0" width="0.9" height="0.9" fill="rgb(130,130,130)" opacity="0.85"/>
<rect x="46.2" y="101.2" width="1.2" height="0.9" fill="rgb(160,160,160)" opacity="0.85"/>
<rect x="48.0" y="100.6" width="0.6" height="1.4" fill="rgb(235,235,235)" opacity="0.85"/>
<rect x="49.6" y="91.0" width="0.9" height="0.8" fill="rgb(250,250,250)" opacity="0.85"/>
<rect x="50.4" y="82.2" width="0.7" height="1.4" fill="rgb(160,160,160)" opacity="0.85"/>
<rect x="40.7" y="82.5" width="0.9" height="1.0" fill="rgb(160,160,160)" opacity="0.85"/>
<rect x="53.3" y="97.1" width="0.5" height="1.3" fill="rgb(190,190,190)" opacity="0.85"/>
<rect x="59.7" y="85.9" width="0.8" height="1.2" fill="rgb(235,235,235)" opacity="0.85"/>
<rect x="48.3" y="94.6" width="0.9" height="0.9" fill="rgb(190,190,190)" opacity="0.85"/>
<rect x="58.5" y="95.4" width="1.4" height="0.7" fill="rgb(235,235,235)" opacity="0.85"/>
<rect x="44.0" y="101.7" width="0.6" height="1.3" fill="rgb(130,130,130)" opacity="0.85"/>
<rect x="61.4" y="87.2" width="0.8" height="1.3" fill="rgb(235,235,235)" opacity="0.85"/>
<rect x="51.4" y="91.8" width="0.9" height="0.9" fill="rgb(70,70,70)" opacity="0.85"/>
<rect x="50.5" y="86.6" width="0.6" height="0.8" fill="rgb(235,235,235)" opacity="0.85"/>
<rect x="62.9" y="97.6" width="1.2" height="0.6" fill="rgb(40,40,40)" opacity="0.85"/>
<rect x="48.6" y="102.1" width="1.3" height="1.2" fill="rgb(40,40,40)" opacity="0.85"/>
<rect x="57.4" y="101.4" width="0.8" height="1.1" fill="rgb(215,215,215)" opacity="0.85"/>
<rect x="42.3" y="94.7" width="0.8" height="0.7" fill="rgb(190,190,190)" opacity="0.85"/>
<rect x="41.7" y="89.3" width="1.2" height="1.4" fill="rgb(250,250,250)" opacity="0.85"/>
<rect x="60.1" y="91.8" width="0.6" height="1.4" fill="rgb(250,250,250)" opacity="0.85"/>
<rect x="54.4" y="95.7" width="0.8" height="0.8" fill="rgb(40,40,40)" opacity="0.85"/>
<rect x="59.9" y="88.3" width="0.8" height="0.8" fill="rgb(100,100,100)" opacity="0.85"/>
<rect x="45.4" y="97.2" width="0.6" height="1.0" fill="rgb(235,235,235)" opacity="0.85"/>
<rect x="58.6" y="86.9" width="1.3" height="1.1" fill="rgb(70,70,70)" opacity="0.85"/>
<rect x="58.3" y="88.1" width="1.0" height="0.5" fill="rgb(130,130,130)" opacity="0.85"/>
<rect x="41.5" y="97.9" width="1.0" height="1.0" fill="rgb(250,250,250)" opacity="0.85"/>
<rect x="42.2" y="94.5" width="1.1" height="1.0" fill="rgb(130,130,130)" opacity="0.85"/>
<rect x="49.3" y="94.5" width="0.7" height="1.2" fill="rgb(190,190,190)" opacity="0.85"/>
<rect x="61.3" y="100.5" width="0.6" height="1.5" fill="rgb(215,215,215)" opacity="0.85"/>
<rect x="49.1" y="85.8" width="0.9" height="0.7" fill="rgb(130,130,130)" opacity="0.85"/>
<rect x="39.5" y="97.2" width="1.3" height="0.8" fill="rgb(40,40,40)" opacity="0.85"/>
<rect x="42.0" y="92.9" width="0.7" height="1.1" fill="rgb(235,235,235)" opacity="0.85"/>
<rect x="52.4" y="89.1" width="1.2" height="1.4" fill="rgb(215,215,215)" opacity="0.85"/>
<rect x="53.5" y="102.4" width="1.5" height="1.3" fill="rgb(215,215,215)" opacity="0.85"/>
<rect x="52.3" y="92.3" width="0.5" height="0.9" fill="rgb(160,160,160)" opacity="0.85"/>
<rect x="52.3" y="83.7" width="1.5" height="0.9" fill="rgb(70,70,70)" opacity="0.85"/>
<rect x="63.0" y="98.2" width="1.3" height="1.1" fill="rgb(160,160,160)" opacity="0.85"/>
<rect x="41.8" y="91.9" width="1.0" height="1.3" fill="rgb(235,235,235)" opacity="0.85"/>
<rect x="58.8" y="99.6" width="1.2" height="1.0" fill="rgb(160,160,160)" opacity="0.85"/>
<rect x="59.9" y="82.0" width="0.7" height="1.4" fill="rgb(130,130,130)" opacity="0.85"/>
<rect x="48.1" y="95.1" width="1.2" height="0.7" fill="rgb(235,235,235)" opacity="0.85"/>
<rect x="51.8" y="96.9" width="1.4" height="0.8" fill="rgb(130,130,130)" opacity="0.85"/>
<rect x="51.3" y="102.7" width="1.3" height="1.1" fill="rgb(70,70,70)" opacity="0.85"/>
<rect x="48.6" y="98.9" width="1.2" height="1.3" fill="rgb(130,130,130)" opacity="0.85"/>
<rect x="58.5" y="82.4" width="1.2" height="1.4" fill="rgb(130,130,130)" opacity="0.85"/>
<rect x="58.7" y="94.8" width="1.4" height="0.6" fill="rgb(250,250,250)" opacity="0.85"/>
<rect x="53.7" y="97.6" width="1.0" height="1.4" fill="rgb(130,130,130)" opacity="0.85"/>
<rect x="55.6" y="98.7" width="0.8" height="1.3" fill="rgb(235,235,235)" opacity="0.85"/>
<rect x="59.3" y="82.4" width="1.0" height="1.0" fill="rgb(130,130,130)" opacity="0.85"/>
<rect x="41.2" y="95.3" width="0.5" height="0.9" fill="rgb(70,70,70)" opacity="0.85"/>
<rect x="45.9" y="86.4" width="1.2" height="1.3" fill="rgb(190,190,190)" opacity="0.85"/>
<rect x="55.3" y="91.4" width="1.3" height="1.4" fill="rgb(160,160,160)" opacity="0.85"/>
<rect x="48.1" y="90.3" width="0.6" height="1.0" fill="rgb(215,215,215)" opacity="0.85"/>
<rect x="61.9" y="100.0" width="1.5" height="0.5" fill="rgb(190,190,190)" opacity="0.85"/>
<rect x="58.6" y="85.9" width="1.4" height="0.8" fill="rgb(70,70,70)" opacity="0.85"/>
<rect x="55.7" y="96.6" width="1.5" height="1.1" fill="rgb(130,130,130)" opacity="0.85"/>
<rect x="54.0" y="84.2" width="1.5" height="0.8" fill="rgb(100,100,100)" opacity="0.85"/>
<rect x="43.6" y="92.5" width="1.0" height="1.4" fill="rgb(160,160,160)" opacity="0.85"/>
<rect x="44.2" y="92.5" width="1.2" height="0.8" fill="rgb(235,235,235)" opacity="0.85"/>
<rect x="41.3" y="103.2" width="1.3" height="1.5" fill="rgb(160,160,160)" opacity="0.85"/>
<rect x="62.3" y="86.2" width="0.6" height="0.7" fill="rgb(190,190,190)" opacity="0.85"/>
<rect x="56.6" y="92.6" width="1.5" height="1.0" fill="rgb(130,130,130)" opacity="0.85"/>
<rect x="49.7" y="83.6" width="1.5" height="1.2" fill="rgb(130,130,130)" opacity="0.85"/>
<rect x="60.9" y="93.8" width="0.6" height="0.8" fill="rgb(160,160,160)" opacity="0.85"/>
<rect x="62.1" y="91.3" width="1.5" height="0.7" fill="rgb(40,40,40)" opacity="0.85"/>
<rect x="56.5" y="101.9" width="1.1" height="0.8" fill="rgb(190,190,190)" opacity="0.85"/>
<rect x="59.5" y="95.0" width="1.0" height="1.0" fill="rgb(215,215,215)" opacity="0.85"/>
<rect x="59.3" y="89.1" width="0.9" height="1.3" fill="rgb(40,40,40)" opacity="0.85"/>
<rect x="41.4" y="85.1" width="0.6" height="0.8" fill="rgb(100,100,100)" opacity="0.85"/>
<rect x="54.2" y="83.7" width="0.7" height="1.5" fill="rgb(235,235,235)" opacity="0.85"/>
<rect x="41.9" y="99.9" width="0.8" height="1.3" fill="rgb(40,40,40)" opacity="0.85"/>
<rect x="57.3" y="94.4" width="1.1" height="1.2" fill="rgb(160,160,160)" opacity="0.85"/>
<rect x="55.7" y="87.4" width="1.0" height="1.4" fill="rgb(235,235,235)" opacity="0.85"/>
<rect x="46.9" y="93.5" width="1.1" height="0.7" fill="rgb(130,130,130)" opacity="0.85"/>
<rect x="55.2" y="84.0" width="1.0" height="0.8" fill="rgb(250,250,250)" opacity="0.85"/>
<rect x="43.2" y="97.8" width="0.7" height="1.4" fill="rgb(130,130,130)" opacity="0.85"/>
<rect x="50.6" y="92.4" width="1.1" height="0.7" fill="rgb(40,40,40)" opacity="0.85"/>
<rect x="49.0" y="88.6" width="0.7" height="0.8" fill="rgb(160,160,160)" opacity="0.85"/>
<rect x="46.3" y="93.1" width="1.0" height="1.0" fill="rgb(190,190,190)" opacity="0.85"/>
<rect x="60.5" y="90.7" width="1.2" height="1.2" fill="rgb(250,250,250)" opacity="0.85"/>
<rect x="56.5" y="90.2" width="0.9" height="1.2" fill="rgb(130,130,130)" opacity="0.85"/>
<rect x="43.1" y="82.6" width="0.6" height="1.3" fill="rgb(160,160,160)" opacity="0.85"/>
<rect x="60.6" y="102.6" width="0.6" height="1.5" fill="rgb(70,70,70)" opacity="0.85"/>
<rect x="44.6" y="95.1" width="0.7" height="0.7" fill="rgb(190,190,190)" opacity="0.85"/>
<rect x="40.2" y="87.6" width="1.3" height="1.5" fill="rgb(130,130,130)" opacity="0.85"/>
<rect x="43.1" y="99.9" width="0.8" height="0.7" fill="rgb(160,160,160)" opacity="0.85"/>
<rect x="49.8" y="89.6" width="1.2" height="0.7" fill="rgb(160,160,160)" opacity="0.85"/>
<rect x="43.9" y="84.2" width="0.9" height="1.1" fill="rgb(235,235,235)" opacity="0.85"/>
<rect x="55.1" y="89.5" width="0.9" height="1.2" fill="rgb(215,215,215)" opacity="0.85"/>
<rect x="55.1" y="88.9" width="0.5" height="1.0" fill="rgb(100,100,100)" opacity="0.85"/>
<rect x="59.7" y="100.7" width="1.0" height="0.6" fill="rgb(215,215,215)" opacity="0.85"/>
<rect x="53.6" y="91.2" width="0.6" height="1.5" fill="rgb(250,250,250)" opacity="0.85"/>
<rect x="43.5" y="102.4" width="0.7" height="0.8" fill="rgb(160,160,160)" opacity="0.85"/>
<rect x="42.9" y="101.3" width="1.3" height="0.9" fill="rgb(160,160,160)" opacity="0.85"/>
<rect x="57.7" y="89.2" width="0.7" height="1.3" fill="rgb(190,190,190)" opacity="0.85"/>
<rect x="59.5" y="97.0" width="1.3" height="1.0" fill="rgb(160,160,160)" opacity="0.85"/>
<rect x="49.4" y="93.6" width="0.8" height="1.4" fill="rgb(235,235,235)" opacity="0.85"/>
<rect x="60.1" y="102.3" width="1.5" height="0.7" fill="rgb(215,215,215)" opacity="0.85"/>
<rect x="50.9" y="100.2" width="1.3" height="0.8" fill="rgb(215,215,215)" opacity="0.85"/>
<rect x="44.7" y="93.2" width="1.5" height="0.8" fill="rgb(130,130,130)" opacity="0.85"/>
<rect x="54.6" y="90.5" width="1.4" height="1.3" fill="rgb(160,160,160)" opacity="0.85"/>
<rect x="51.9" y="82.4" width="1.4" height="1.0" fill="rgb(160,160,160)" opacity="0.85"/>
<rect x="51.0" y="87.1" width="1.4" height="1.0" fill="rgb(40,40,40)" opacity="0.85"/>
<rect x="42.8" y="101.7" width="1.0" height="1.1" fill="rgb(215,215,215)" opacity="0.85"/>
<rect x="61.1" y="97.4" width="1.2" height="0.6" fill="rgb(160,160,160)" opacity="0.85"/>
<rect x="46.9" y="82.0" width="0.7" height="1.0" fill="rgb(100,100,100)" opacity="0.85"/>
<rect x="40.9" y="99.0" width="0.9" height="1.2" fill="rgb(100,100,100)" opacity="0.85"/>
<rect x="50.3" y="97.7" width="1.0" height="1.2" fill="rgb(70,70,70)" opacity="0.85"/>
<rect x="45.0" y="103.2" width="1.1" height="0.5" fill="rgb(130,130,130)" opacity="0.85"/>
<rect x="47.9" y="81.5" width="0.6" height="0.6" fill="rgb(235,235,235)" opacity="0.85"/>
<rect x="61.4" y="100.4" width="0.8" height="1.0" fill="rgb(215,215,215)" opacity="0.85"/>
<rect x="42.7" y="93.7" width="1.5" height="0.6" fill="rgb(40,40,40)" opacity="0.85"/>
<rect x="55.0" y="86.7" width="1.0" height="1.2" fill="rgb(70,70,70)" opacity="0.85"/>
<rect x="57.7" y="84.4" width="1.0" height="1.5" fill="rgb(70,70,70)" opacity="0.85"/>
<rect x="46.6" y="82.5" width="0.5" height="1.2" fill="rgb(40,40,40)" opacity="0.85"/>
<rect x="45.2" y="82.1" width="1.3" height="0.5" fill="rgb(160,160,160)" opacity="0.85"/>
<rect x="57.0" y="102.7" width="1.4" height="0.9" fill="rgb(235,235,235)" opacity="0.85"/>
<rect x="53.8" y="84.0" width="1.2" height="0.9" fill="rgb(130,130,130)" opacity="0.85"/>
<rect x="40.7" y="85.4" width="1.1" height="0.6" fill="rgb(215,215,215)" opacity="0.85"/>
<rect x="51.3" y="82.6" width="0.8" height="1.2" fill="rgb(160,160,160)" opacity="0.85"/>
<rect x="62.7" y="91.8" width="1.3" height="1.2" fill="rgb(190,190,190)" opacity="0.85"/>
<rect x="52.8" y="97.8" width="1.3" height="0.9" fill="rgb(250,250,250)" opacity="0.85"/>
<rect x="48.8" y="91.3" width="0.8" height="1.2" fill="rgb(235,235,235)" opacity="0.85"/>
<rect x="48.2" y="84.4" width="0.7" height="1.0" fill="rgb(130,130,130)" opacity="0.85"/>
<rect x="56.2" y="87.3" width="0.9" height="0.9" fill="rgb(160,160,160)" opacity="0.85"/>
<rect x="49.6" y="82.0" width="0.9" height="1.2" fill="rgb(130,130,130)" opacity="0.85"/>
<rect x="48.5" y="81.8" width="0.7" height="1.1" fill="rgb(130,130,130)" opacity="0.85"/>
<rect x="42.3" y="98.6" width="1.1" height="1.4" fill="rgb(160,160,160)" opacity="0.85"/>
<rect x="59.6" y="96.2" width="1.2" height="1.0" fill="rgb(130,130,130)" opacity="0.85"/>
<rect x="40.7" y="101.6" width="1.1" height="0.7" fill="rgb(130,130,130)" opacity="0.85"/>
<rect x="54.6" y="99.9" width="1.0" height="1.3" fill="rgb(190,190,190)" opacity="0.85"/>
<rect x="61.7" y="97.0" width="0.6" height="0.7" fill="rgb(70,70,70)" opacity="0.85"/>
<rect x="57.2" y="96.9" width="0.8" height="1.0" fill="rgb(100,100,100)" opacity="0.85"/>
<rect x="50.5" y="101.4" width="1.5" height="0.9" fill="rgb(215,215,215)" opacity="0.85"/>
<rect x="54.5" y="102.8" width="0.7" height="0.6" fill="rgb(40,40,40)" opacity="0.85"/>
<rect x="44.4" y="84.1" width="1.0" height="1.0" fill="rgb(70,70,70)" opacity="0.85"/>
<rect x="48.2" y="92.3" width="0.6" height="0.7" fill="rgb(215,215,215)" opacity="0.85"/>
<rect x="40.2" y="85.4" width="1.4" height="1.2" fill="rgb(215,215,215)" opacity="0.85"/>
<rect x="43.6" y="90.6" width="0.9" height="1.1" fill="rgb(70,70,70)" opacity="0.85"/>
<rect x="44.5" y="99.4" width="1.0" height="0.9" fill="rgb(190,190,190)" opacity="0.85"/>
<rect x="58.9" y="97.1" width="0.9" height="0.9" fill="rgb(100,100,100)" opacity="0.85"/>
<rect x="42.1" y="90.0" width="1.4" height="1.4" fill="rgb(190,190,190)" opacity="0.85"/>
<rect x="58.2" y="83.1" width="1.4" height="0.8" fill="rgb(190,190,190)" opacity="0.85"/>
<rect x="46.5" y="93.1" width="0.8" height="0.8" fill="rgb(160,160,160)" opacity="0.85"/>
<rect x="50.1" y="85.7" width="0.6" height="0.8" fill="rgb(40,40,40)" opacity="0.85"/>
<path d="M55.5,82 L58.5,83.5 L52.5,90 L50.5,95.5 L46.5,99 L42.8,97.5 L44,92.5 L48.5,88.5 Z" fill="#bcc07a" opacity="0.85" stroke="#5a5a30" stroke-width="0.5"/>
<ellipse cx="46.5" cy="100.3" rx="3.6" ry="1.8" fill="#e0a0a0" stroke="#c04040" stroke-width="0.5" opacity="0.9"/>
</g>
<rect x="39.70" y="81.70" width="23.10" height="21.30" fill="none" stroke="#444" stroke-width="0.6"/>
<line x1="21.45" y1="81.44" x2="24.45" y2="80.98" stroke="#2b8f36" stroke-width="1.2" stroke-linecap="round"/>
<circle cx="24.45" cy="80.98" r="0.85" fill="#2b8f36"/>
<line x1="20.64" y1="85.49" x2="18.57" y2="86.03" stroke="#2b8f36" stroke-width="1.2" stroke-linecap="round"/>
<circle cx="18.57" cy="86.03" r="1.11" fill="#2b8f36"/>
<line x1="19.52" y1="89.93" x2="22.34" y2="91.42" stroke="#2b8f36" stroke-width="1.2" stroke-linecap="round"/>
<circle cx="22.34" cy="91.42" r="0.84" fill="#2b8f36"/>
<line x1="17.83" y1="95.38" x2="20.63" y2="95.82" stroke="#2b8f36" stroke-width="1.2" stroke-linecap="round"/>
<circle cx="20.63" cy="95.82" r="1.08" fill="#2b8f36"/>
<line x1="16.65" y1="98.85" x2="19.39" y2="98.69" stroke="#2b8f36" stroke-width="1.2" stroke-linecap="round"/>
<circle cx="19.39" cy="98.69" r="1.08" fill="#2b8f36"/>
<line x1="14.86" y1="103.34" x2="11.71" y2="103.38" stroke="#2b8f36" stroke-width="1.2" stroke-linecap="round"/>
<circle cx="11.71" cy="103.38" r="1.18" fill="#2b8f36"/>
<line x1="11.2" y1="109.28" x2="12.94" y2="110.35" stroke="#2b8f36" stroke-width="1.2" stroke-linecap="round"/>
<circle cx="12.94" cy="110.35" r="1.14" fill="#2b8f36"/>
<circle cx="21.80" cy="79.40" r="1.45" fill="#2b8f36"/>
<circle cx="21.67" cy="80.17" r="2.12" fill="#2b8f36"/>
<circle cx="21.53" cy="80.93" r="1.36" fill="#2b8f36"/>
<circle cx="21.40" cy="81.70" r="1.88" fill="#2b8f36"/>
<circle cx="21.27" cy="82.47" r="1.33" fill="#2b8f36"/>
<circle cx="21.13" cy="83.23" r="1.47" fill="#2b8f36"/>
<circle cx="21.00" cy="84.00" r="2.15" fill="#2b8f36"/>
<circle cx="20.83" cy="84.71" r="1.44" fill="#2b8f36"/>
<circle cx="20.66" cy="85.43" r="1.83" fill="#2b8f36"/>
<circle cx="20.49" cy="86.14" r="1.66" fill="#2b8f36"/>
<circle cx="20.31" cy="86.86" r="1.66" fill="#2b8f36"/>
<circle cx="20.14" cy="87.57" r="1.70" fill="#2b8f36"/>
<circle cx="19.97" cy="88.29" r="1.42" fill="#2b8f36"/>
<circle cx="19.80" cy="89.00" r="2.00" fill="#2b8f36"/>
<circle cx="19.59" cy="89.71" r="1.33" fill="#2b8f36"/>
<circle cx="19.37" cy="90.43" r="1.46" fill="#2b8f36"/>
<circle cx="19.16" cy="91.14" r="1.27" fill="#2b8f36"/>
<circle cx="18.94" cy="91.86" r="1.49" fill="#2b8f36"/>
<circle cx="18.73" cy="92.57" r="1.62" fill="#2b8f36"/>
<circle cx="18.51" cy="93.29" r="2.06" fill="#2b8f36"/>
<circle cx="18.30" cy="94.00" r="1.59" fill="#2b8f36"/>
<circle cx="18.06" cy="94.71" r="1.35" fill="#2b8f36"/>
<circle cx="17.81" cy="95.43" r="1.48" fill="#2b8f36"/>
<circle cx="17.57" cy="96.14" r="2.14" fill="#2b8f36"/>
<circle cx="17.33" cy="96.86" r="1.31" fill="#2b8f36"/>
<circle cx="17.09" cy="97.57" r="1.81" fill="#2b8f36"/>
<circle cx="16.84" cy="98.29" r="1.59" fill="#2b8f36"/>
<circle cx="16.60" cy="99.00" r="1.84" fill="#2b8f36"/>
<circle cx="16.30" cy="99.75" r="1.55" fill="#2b8f36"/>
<circle cx="16.00" cy="100.50" r="1.87" fill="#2b8f36"/>
<circle cx="15.70" cy="101.25" r="1.70" fill="#2b8f36"/>
<circle cx="15.40" cy="102.00" r="1.83" fill="#2b8f36"/>
<circle cx="15.10" cy="102.75" r="2.06" fill="#2b8f36"/>
<circle cx="14.80" cy="103.50" r="1.77" fill="#2b8f36"/>
<circle cx="14.43" cy="104.17" r="1.38" fill="#2b8f36"/>
<circle cx="14.07" cy="104.83" r="1.31" fill="#2b8f36"/>
<circle cx="13.70" cy="105.50" r="2.10" fill="#2b8f36"/>
<circle cx="13.33" cy="106.17" r="1.69" fill="#2b8f36"/>
<circle cx="12.97" cy="106.83" r="1.42" fill="#2b8f36"/>
<circle cx="12.60" cy="107.50" r="2.10" fill="#2b8f36"/>
<circle cx="12.17" cy="108.05" r="1.77" fill="#2b8f36"/>
<circle cx="11.73" cy="108.60" r="1.91" fill="#2b8f36"/>
<circle cx="11.30" cy="109.15" r="2.04" fill="#2b8f36"/>
<circle cx="10.87" cy="109.70" r="1.51" fill="#2b8f36"/>
<circle cx="10.43" cy="110.25" r="1.57" fill="#2b8f36"/>
<circle cx="10.00" cy="110.80" r="2.04" fill="#2b8f36"/>
<line x1="21.45" y1="81.44" x2="24.45" y2="80.98" stroke="#3db54a" stroke-width="0.6" stroke-linecap="round"/>
<circle cx="24.45" cy="80.98" r="0.55" fill="#3db54a"/>
<line x1="20.64" y1="85.49" x2="18.57" y2="86.03" stroke="#3db54a" stroke-width="0.6" stroke-linecap="round"/>
<circle cx="18.57" cy="86.03" r="0.55" fill="#3db54a"/>
<line x1="19.52" y1="89.93" x2="22.34" y2="91.42" stroke="#3db54a" stroke-width="0.6" stroke-linecap="round"/>
<circle cx="22.34" cy="91.42" r="0.55" fill="#3db54a"/>
<line x1="17.83" y1="95.38" x2="20.63" y2="95.82" stroke="#3db54a" stroke-width="0.6" stroke-linecap="round"/>
<circle cx="20.63" cy="95.82" r="0.55" fill="#3db54a"/>
<line x1="16.65" y1="98.85" x2="19.39" y2="98.69" stroke="#3db54a" stroke-width="0.6" stroke-linecap="round"/>
<circle cx="19.39" cy="98.69" r="0.55" fill="#3db54a"/>
<line x1="14.86" y1="103.34" x2="11.71" y2="103.38" stroke="#3db54a" stroke-width="0.6" stroke-linecap="round"/>
<circle cx="11.71" cy="103.38" r="0.55" fill="#3db54a"/>
<line x1="11.2" y1="109.28" x2="12.94" y2="110.35" stroke="#3db54a" stroke-width="0.6" stroke-linecap="round"/>
<circle cx="12.94" cy="110.35" r="0.55" fill="#3db54a"/>
<circle cx="21.80" cy="79.40" r="1.00" fill="#3db54a"/>
<circle cx="21.67" cy="80.17" r="1.67" fill="#3db54a"/>
<circle cx="21.53" cy="80.93" r="0.91" fill="#3db54a"/>
<circle cx="21.40" cy="81.70" r="1.43" fill="#3db54a"/>
<circle cx="21.27" cy="82.47" r="0.88" fill="#3db54a"/>
<circle cx="21.13" cy="83.23" r="1.02" fill="#3db54a"/>
<circle cx="21.00" cy="84.00" r="1.70" fill="#3db54a"/>
<circle cx="20.83" cy="84.71" r="0.99" fill="#3db54a"/>
<circle cx="20.66" cy="85.43" r="1.38" fill="#3db54a"/>
<circle cx="20.49" cy="86.14" r="1.21" fill="#3db54a"/>
<circle cx="20.31" cy="86.86" r="1.21" fill="#3db54a"/>
<circle cx="20.14" cy="87.57" r="1.25" fill="#3db54a"/>
<circle cx="19.97" cy="88.29" r="0.97" fill="#3db54a"/>
<circle cx="19.80" cy="89.00" r="1.55" fill="#3db54a"/>
<circle cx="19.59" cy="89.71" r="0.88" fill="#3db54a"/>
<circle cx="19.37" cy="90.43" r="1.01" fill="#3db54a"/>
<circle cx="19.16" cy="91.14" r="0.82" fill="#3db54a"/>
<circle cx="18.94" cy="91.86" r="1.04" fill="#3db54a"/>
<circle cx="18.73" cy="92.57" r="1.17" fill="#3db54a"/>
<circle cx="18.51" cy="93.29" r="1.61" fill="#3db54a"/>
<circle cx="18.30" cy="94.00" r="1.14" fill="#3db54a"/>
<circle cx="18.06" cy="94.71" r="0.90" fill="#3db54a"/>
<circle cx="17.81" cy="95.43" r="1.03" fill="#3db54a"/>
<circle cx="17.57" cy="96.14" r="1.69" fill="#3db54a"/>
<circle cx="17.33" cy="96.86" r="0.86" fill="#3db54a"/>
<circle cx="17.09" cy="97.57" r="1.36" fill="#3db54a"/>
<circle cx="16.84" cy="98.29" r="1.14" fill="#3db54a"/>
<circle cx="16.60" cy="99.00" r="1.39" fill="#3db54a"/>
<circle cx="16.30" cy="99.75" r="1.10" fill="#3db54a"/>
<circle cx="16.00" cy="100.50" r="1.42" fill="#3db54a"/>
<circle cx="15.70" cy="101.25" r="1.25" fill="#3db54a"/>
<circle cx="15.40" cy="102.00" r="1.38" fill="#3db54a"/>
<circle cx="15.10" cy="102.75" r="1.61" fill="#3db54a"/>
<circle cx="14.80" cy="103.50" r="1.32" fill="#3db54a"/>
<circle cx="14.43" cy="104.17" r="0.93" fill="#3db54a"/>
<circle cx="14.07" cy="104.83" r="0.86" fill="#3db54a"/>
<circle cx="13.70" cy="105.50" r="1.65" fill="#3db54a"/>
<circle cx="13.33" cy="106.17" r="1.24" fill="#3db54a"/>
<circle cx="12.97" cy="106.83" r="0.97" fill="#3db54a"/>
<circle cx="12.60" cy="107.50" r="1.65" fill="#3db54a"/>
<circle cx="12.17" cy="108.05" r="1.32" fill="#3db54a"/>
<circle cx="11.73" cy="108.60" r="1.46" fill="#3db54a"/>
<circle cx="11.30" cy="109.15" r="1.59" fill="#3db54a"/>
<circle cx="10.87" cy="109.70" r="1.06" fill="#3db54a"/>
<circle cx="10.43" cy="110.25" r="1.12" fill="#3db54a"/>
<circle cx="10.00" cy="110.80" r="1.59" fill="#3db54a"/>
<circle cx="17.5" cy="96" r="0.9" fill="#8fd68f"/><circle cx="15" cy="102" r="0.8" fill="#8fd68f"/><circle cx="20" cy="87" r="0.8" fill="#8fd68f"/>
<line x1="17.90" y1="102.60" x2="24.80" y2="95.70" stroke="#e8e030" stroke-width="1.7"/>
<ellipse cx="17.8" cy="105.1" rx="1.3" ry="0.8" fill="#e04848"/>
<line x1="112.73" y1="36.26" x2="117.22" y2="38.61" stroke="#9c9612" stroke-width="1.2" stroke-linecap="round"/>
<circle cx="117.22" cy="38.61" r="0.87" fill="#9c9612"/>
<line x1="110.67" y1="40.16" x2="115.48" y2="42.64" stroke="#9c9612" stroke-width="1.2" stroke-linecap="round"/>
<circle cx="115.48" cy="42.64" r="0.83" fill="#9c9612"/>
<line x1="108.31" y1="44.8" x2="104.84" y2="43.25" stroke="#9c9612" stroke-width="1.2" stroke-linecap="round"/>
<circle cx="104.84" cy="43.25" r="0.86" fill="#9c9612"/>
<line x1="105.96" y1="48.65" x2="100.79" y2="47.15" stroke="#9c9612" stroke-width="1.2" stroke-linecap="round"/>
<circle cx="100.79" cy="47.15" r="1.08" fill="#9c9612"/>
<line x1="104.32" y1="51.2" x2="100.36" y2="46.97" stroke="#9c9612" stroke-width="1.2" stroke-linecap="round"/>
<circle cx="100.36" cy="46.97" r="1.20" fill="#9c9612"/>
<line x1="100.89" y1="56.61" x2="104.54" y2="57.88" stroke="#9c9612" stroke-width="1.2" stroke-linecap="round"/>
<circle cx="104.54" cy="57.88" r="0.86" fill="#9c9612"/>
<line x1="99.46" y1="59.2" x2="94.15" y2="57.12" stroke="#9c9612" stroke-width="1.2" stroke-linecap="round"/>
<circle cx="94.15" cy="57.12" r="0.82" fill="#9c9612"/>
<line x1="97.9" y1="61.84" x2="99.89" y2="65.37" stroke="#9c9612" stroke-width="1.2" stroke-linecap="round"/>
<circle cx="99.89" cy="65.37" r="1.19" fill="#9c9612"/>
<line x1="94.81" y1="66.08" x2="98.47" y2="68.67" stroke="#9c9612" stroke-width="1.2" stroke-linecap="round"/>
<circle cx="98.47" cy="68.67" r="1.01" fill="#9c9612"/>
<line x1="92.82" y1="68.75" x2="87.68" y2="66.7" stroke="#9c9612" stroke-width="1.2" stroke-linecap="round"/>
<circle cx="87.68" cy="66.7" r="0.96" fill="#9c9612"/>
<line x1="88.89" y1="73.59" x2="86.3" y2="68.47" stroke="#9c9612" stroke-width="1.2" stroke-linecap="round"/>
<circle cx="86.3" cy="68.47" r="0.89" fill="#9c9612"/>
<line x1="86.17" y1="76.73" x2="89.03" y2="80.79" stroke="#9c9612" stroke-width="1.2" stroke-linecap="round"/>
<circle cx="89.03" cy="80.79" r="1.04" fill="#9c9612"/>
<line x1="84.78" y1="78.29" x2="79.82" y2="76.02" stroke="#9c9612" stroke-width="1.2" stroke-linecap="round"/>
<circle cx="79.82" cy="76.02" r="1.13" fill="#9c9612"/>
<line x1="80.06" y1="83.38" x2="83.81" y2="86.09" stroke="#9c9612" stroke-width="1.2" stroke-linecap="round"/>
<circle cx="83.81" cy="86.09" r="0.98" fill="#9c9612"/>
<line x1="78.32" y1="85.36" x2="73.4" y2="82.32" stroke="#9c9612" stroke-width="1.2" stroke-linecap="round"/>
<circle cx="73.4" cy="82.32" r="0.97" fill="#9c9612"/>
<line x1="76.6" y1="87.56" x2="74.5" y2="82.76" stroke="#9c9612" stroke-width="1.2" stroke-linecap="round"/>
<circle cx="74.5" cy="82.76" r="0.82" fill="#9c9612"/>
<circle cx="113.20" cy="35.40" r="2.16" fill="#9c9612"/>
<circle cx="112.86" cy="36.02" r="2.27" fill="#9c9612"/>
<circle cx="112.52" cy="36.64" r="2.32" fill="#9c9612"/>
<circle cx="112.18" cy="37.26" r="2.45" fill="#9c9612"/>
<circle cx="111.84" cy="37.88" r="2.27" fill="#9c9612"/>
<circle cx="111.50" cy="38.50" r="2.43" fill="#9c9612"/>
<circle cx="111.17" cy="39.17" r="1.63" fill="#9c9612"/>
<circle cx="110.83" cy="39.83" r="2.02" fill="#9c9612"/>
<circle cx="110.50" cy="40.50" r="2.45" fill="#9c9612"/>
<circle cx="110.17" cy="41.17" r="2.18" fill="#9c9612"/>
<circle cx="109.83" cy="41.83" r="2.41" fill="#9c9612"/>
<circle cx="109.50" cy="42.50" r="1.70" fill="#9c9612"/>
<circle cx="109.17" cy="43.17" r="2.02" fill="#9c9612"/>
<circle cx="108.83" cy="43.83" r="1.82" fill="#9c9612"/>
<circle cx="108.50" cy="44.50" r="2.09" fill="#9c9612"/>
<circle cx="108.12" cy="45.11" r="2.12" fill="#9c9612"/>
<circle cx="107.75" cy="45.73" r="1.61" fill="#9c9612"/>
<circle cx="107.38" cy="46.34" r="1.80" fill="#9c9612"/>
<circle cx="107.00" cy="46.95" r="1.85" fill="#9c9612"/>
<circle cx="106.62" cy="47.56" r="2.42" fill="#9c9612"/>
<circle cx="106.25" cy="48.17" r="2.29" fill="#9c9612"/>
<circle cx="105.88" cy="48.79" r="1.74" fill="#9c9612"/>
<circle cx="105.50" cy="49.40" r="2.32" fill="#9c9612"/>
<circle cx="105.10" cy="50.01" r="1.72" fill="#9c9612"/>
<circle cx="104.70" cy="50.62" r="2.16" fill="#9c9612"/>
<circle cx="104.30" cy="51.23" r="1.71" fill="#9c9612"/>
<circle cx="103.90" cy="51.84" r="1.60" fill="#9c9612"/>
<circle cx="103.50" cy="52.45" r="2.38" fill="#9c9612"/>
<circle cx="103.10" cy="53.06" r="1.79" fill="#9c9612"/>
<circle cx="102.70" cy="53.67" r="1.79" fill="#9c9612"/>
<circle cx="102.30" cy="54.28" r="2.48" fill="#9c9612"/>
<circle cx="101.90" cy="54.89" r="2.39" fill="#9c9612"/>
<circle cx="101.50" cy="55.50" r="1.86" fill="#9c9612"/>
<circle cx="101.14" cy="56.14" r="2.47" fill="#9c9612"/>
<circle cx="100.79" cy="56.79" r="2.09" fill="#9c9612"/>
<circle cx="100.43" cy="57.43" r="2.21" fill="#9c9612"/>
<circle cx="100.08" cy="58.08" r="1.78" fill="#9c9612"/>
<circle cx="99.72" cy="58.72" r="2.45" fill="#9c9612"/>
<circle cx="99.37" cy="59.37" r="2.22" fill="#9c9612"/>
<circle cx="99.01" cy="60.01" r="2.47" fill="#9c9612"/>
<circle cx="98.66" cy="60.66" r="2.40" fill="#9c9612"/>
<circle cx="98.30" cy="61.30" r="1.87" fill="#9c9612"/>
<circle cx="97.88" cy="61.88" r="1.93" fill="#9c9612"/>
<circle cx="97.46" cy="62.46" r="1.75" fill="#9c9612"/>
<circle cx="97.03" cy="63.03" r="1.73" fill="#9c9612"/>
<circle cx="96.61" cy="63.61" r="1.66" fill="#9c9612"/>
<circle cx="96.19" cy="64.19" r="1.87" fill="#9c9612"/>
<circle cx="95.77" cy="64.77" r="2.14" fill="#9c9612"/>
<circle cx="95.34" cy="65.34" r="1.60" fill="#9c9612"/>
<circle cx="94.92" cy="65.92" r="2.21" fill="#9c9612"/>
<circle cx="94.50" cy="66.50" r="1.90" fill="#9c9612"/>
<circle cx="94.03" cy="67.13" r="1.88" fill="#9c9612"/>
<circle cx="93.56" cy="67.76" r="2.34" fill="#9c9612"/>
<circle cx="93.09" cy="68.39" r="2.03" fill="#9c9612"/>
<circle cx="92.61" cy="69.01" r="1.88" fill="#9c9612"/>
<circle cx="92.14" cy="69.64" r="2.03" fill="#9c9612"/>
<circle cx="91.67" cy="70.27" r="2.23" fill="#9c9612"/>
<circle cx="91.20" cy="70.90" r="1.65" fill="#9c9612"/>
<circle cx="90.73" cy="71.44" r="2.48" fill="#9c9612"/>
<circle cx="90.27" cy="71.99" r="1.62" fill="#9c9612"/>
<circle cx="89.80" cy="72.53" r="2.27" fill="#9c9612"/>
<circle cx="89.33" cy="73.08" r="2.36" fill="#9c9612"/>
<circle cx="88.87" cy="73.62" r="1.62" fill="#9c9612"/>
<circle cx="88.40" cy="74.17" r="2.31" fill="#9c9612"/>
<circle cx="87.93" cy="74.71" r="1.93" fill="#9c9612"/>
<circle cx="87.47" cy="75.26" r="2.12" fill="#9c9612"/>
<circle cx="87.00" cy="75.80" r="1.61" fill="#9c9612"/>
<circle cx="86.49" cy="76.38" r="1.64" fill="#9c9612"/>
<circle cx="85.97" cy="76.95" r="1.76" fill="#9c9612"/>
<circle cx="85.46" cy="77.53" r="2.46" fill="#9c9612"/>
<circle cx="84.95" cy="78.10" r="1.78" fill="#9c9612"/>
<circle cx="84.44" cy="78.67" r="2.28" fill="#9c9612"/>
<circle cx="83.93" cy="79.25" r="2.44" fill="#9c9612"/>
<circle cx="83.41" cy="79.83" r="2.45" fill="#9c9612"/>
<circle cx="82.90" cy="80.40" r="1.91" fill="#9c9612"/>
<circle cx="82.41" cy="80.91" r="1.92" fill="#9c9612"/>
<circle cx="81.93" cy="81.43" r="2.07" fill="#9c9612"/>
<circle cx="81.44" cy="81.94" r="2.30" fill="#9c9612"/>
<circle cx="80.95" cy="82.45" r="1.70" fill="#9c9612"/>
<circle cx="80.46" cy="82.96" r="2.27" fill="#9c9612"/>
<circle cx="79.97" cy="83.47" r="2.32" fill="#9c9612"/>
<circle cx="79.49" cy="83.99" r="2.37" fill="#9c9612"/>
<circle cx="79.00" cy="84.50" r="1.63" fill="#9c9612"/>
<circle cx="78.53" cy="85.10" r="2.45" fill="#9c9612"/>
<circle cx="78.06" cy="85.70" r="1.68" fill="#9c9612"/>
<circle cx="77.59" cy="86.30" r="1.91" fill="#9c9612"/>
<circle cx="77.11" cy="86.90" r="2.15" fill="#9c9612"/>
<circle cx="76.64" cy="87.50" r="2.43" fill="#9c9612"/>
<circle cx="76.17" cy="88.10" r="1.91" fill="#9c9612"/>
<circle cx="75.70" cy="88.70" r="2.43" fill="#9c9612"/>
<circle cx="75.20" cy="89.27" r="2.09" fill="#9c9612"/>
<circle cx="74.70" cy="89.83" r="1.88" fill="#9c9612"/>
<circle cx="74.20" cy="90.40" r="1.89" fill="#9c9612"/>
<line x1="112.73" y1="36.26" x2="117.22" y2="38.61" stroke="#efe92b" stroke-width="0.6" stroke-linecap="round"/>
<circle cx="117.22" cy="38.61" r="0.55" fill="#efe92b"/>
<line x1="110.67" y1="40.16" x2="115.48" y2="42.64" stroke="#efe92b" stroke-width="0.6" stroke-linecap="round"/>
<circle cx="115.48" cy="42.64" r="0.55" fill="#efe92b"/>
<line x1="108.31" y1="44.8" x2="104.84" y2="43.25" stroke="#efe92b" stroke-width="0.6" stroke-linecap="round"/>
<circle cx="104.84" cy="43.25" r="0.55" fill="#efe92b"/>
<line x1="105.96" y1="48.65" x2="100.79" y2="47.15" stroke="#efe92b" stroke-width="0.6" stroke-linecap="round"/>
<circle cx="100.79" cy="47.15" r="0.55" fill="#efe92b"/>
<line x1="104.32" y1="51.2" x2="100.36" y2="46.97" stroke="#efe92b" stroke-width="0.6" stroke-linecap="round"/>
<circle cx="100.36" cy="46.97" r="0.55" fill="#efe92b"/>
<line x1="100.89" y1="56.61" x2="104.54" y2="57.88" stroke="#efe92b" stroke-width="0.6" stroke-linecap="round"/>
<circle cx="104.54" cy="57.88" r="0.55" fill="#efe92b"/>
<line x1="99.46" y1="59.2" x2="94.15" y2="57.12" stroke="#efe92b" stroke-width="0.6" stroke-linecap="round"/>
<circle cx="94.15" cy="57.12" r="0.55" fill="#efe92b"/>
<line x1="97.9" y1="61.84" x2="99.89" y2="65.37" stroke="#efe92b" stroke-width="0.6" stroke-linecap="round"/>
<circle cx="99.89" cy="65.37" r="0.55" fill="#efe92b"/>
<line x1="94.81" y1="66.08" x2="98.47" y2="68.67" stroke="#efe92b" stroke-width="0.6" stroke-linecap="round"/>
<circle cx="98.47" cy="68.67" r="0.55" fill="#efe92b"/>
<line x1="92.82" y1="68.75" x2="87.68" y2="66.7" stroke="#efe92b" stroke-width="0.6" stroke-linecap="round"/>
<circle cx="87.68" cy="66.7" r="0.55" fill="#efe92b"/>
<line x1="88.89" y1="73.59" x2="86.3" y2="68.47" stroke="#efe92b" stroke-width="0.6" stroke-linecap="round"/>
<circle cx="86.3" cy="68.47" r="0.55" fill="#efe92b"/>
<line x1="86.17" y1="76.73" x2="89.03" y2="80.79" stroke="#efe92b" stroke-width="0.6" stroke-linecap="round"/>
<circle cx="89.03" cy="80.79" r="0.55" fill="#efe92b"/>
<line x1="84.78" y1="78.29" x2="79.82" y2="76.02" stroke="#efe92b" stroke-width="0.6" stroke-linecap="round"/>
<circle cx="79.82" cy="76.02" r="0.55" fill="#efe92b"/>
<line x1="80.06" y1="83.38" x2="83.81" y2="86.09" stroke="#efe92b" stroke-width="0.6" stroke-linecap="round"/>
<circle cx="83.81" cy="86.09" r="0.55" fill="#efe92b"/>
<line x1="78.32" y1="85.36" x2="73.4" y2="82.32" stroke="#efe92b" stroke-width="0.6" stroke-linecap="round"/>
<circle cx="73.4" cy="82.32" r="0.55" fill="#efe92b"/>
<line x1="76.6" y1="87.56" x2="74.5" y2="82.76" stroke="#efe92b" stroke-width="0.6" stroke-linecap="round"/>
<circle cx="74.5" cy="82.76" r="0.55" fill="#efe92b"/>
<circle cx="113.20" cy="35.40" r="1.71" fill="#efe92b"/>
<circle cx="112.86" cy="36.02" r="1.82" fill="#efe92b"/>
<circle cx="112.52" cy="36.64" r="1.87" fill="#efe92b"/>
<circle cx="112.18" cy="37.26" r="2.00" fill="#efe92b"/>
<circle cx="111.84" cy="37.88" r="1.82" fill="#efe92b"/>
<circle cx="111.50" cy="38.50" r="1.98" fill="#efe92b"/>
<circle cx="111.17" cy="39.17" r="1.18" fill="#efe92b"/>
<circle cx="110.83" cy="39.83" r="1.57" fill="#efe92b"/>
<circle cx="110.50" cy="40.50" r="2.00" fill="#efe92b"/>
<circle cx="110.17" cy="41.17" r="1.73" fill="#efe92b"/>
<circle cx="109.83" cy="41.83" r="1.96" fill="#efe92b"/>
<circle cx="109.50" cy="42.50" r="1.25" fill="#efe92b"/>
<circle cx="109.17" cy="43.17" r="1.57" fill="#efe92b"/>
<circle cx="108.83" cy="43.83" r="1.37" fill="#efe92b"/>
<circle cx="108.50" cy="44.50" r="1.64" fill="#efe92b"/>
<circle cx="108.12" cy="45.11" r="1.67" fill="#efe92b"/>
<circle cx="107.75" cy="45.73" r="1.16" fill="#efe92b"/>
<circle cx="107.38" cy="46.34" r="1.35" fill="#efe92b"/>
<circle cx="107.00" cy="46.95" r="1.40" fill="#efe92b"/>
<circle cx="106.62" cy="47.56" r="1.97" fill="#efe92b"/>
<circle cx="106.25" cy="48.17" r="1.84" fill="#efe92b"/>
<circle cx="105.88" cy="48.79" r="1.29" fill="#efe92b"/>
<circle cx="105.50" cy="49.40" r="1.87" fill="#efe92b"/>
<circle cx="105.10" cy="50.01" r="1.27" fill="#efe92b"/>
<circle cx="104.70" cy="50.62" r="1.71" fill="#efe92b"/>
<circle cx="104.30" cy="51.23" r="1.26" fill="#efe92b"/>
<circle cx="103.90" cy="51.84" r="1.15" fill="#efe92b"/>
<circle cx="103.50" cy="52.45" r="1.93" fill="#efe92b"/>
<circle cx="103.10" cy="53.06" r="1.34" fill="#efe92b"/>
<circle cx="102.70" cy="53.67" r="1.34" fill="#efe92b"/>
<circle cx="102.30" cy="54.28" r="2.03" fill="#efe92b"/>
<circle cx="101.90" cy="54.89" r="1.94" fill="#efe92b"/>
<circle cx="101.50" cy="55.50" r="1.41" fill="#efe92b"/>
<circle cx="101.14" cy="56.14" r="2.02" fill="#efe92b"/>
<circle cx="100.79" cy="56.79" r="1.64" fill="#efe92b"/>
<circle cx="100.43" cy="57.43" r="1.76" fill="#efe92b"/>
<circle cx="100.08" cy="58.08" r="1.33" fill="#efe92b"/>
<circle cx="99.72" cy="58.72" r="2.00" fill="#efe92b"/>
<circle cx="99.37" cy="59.37" r="1.77" fill="#efe92b"/>
<circle cx="99.01" cy="60.01" r="2.02" fill="#efe92b"/>
<circle cx="98.66" cy="60.66" r="1.95" fill="#efe92b"/>
<circle cx="98.30" cy="61.30" r="1.42" fill="#efe92b"/>
<circle cx="97.88" cy="61.88" r="1.48" fill="#efe92b"/>
<circle cx="97.46" cy="62.46" r="1.30" fill="#efe92b"/>
<circle cx="97.03" cy="63.03" r="1.28" fill="#efe92b"/>
<circle cx="96.61" cy="63.61" r="1.21" fill="#efe92b"/>
<circle cx="96.19" cy="64.19" r="1.42" fill="#efe92b"/>
<circle cx="95.77" cy="64.77" r="1.69" fill="#efe92b"/>
<circle cx="95.34" cy="65.34" r="1.15" fill="#efe92b"/>
<circle cx="94.92" cy="65.92" r="1.76" fill="#efe92b"/>
<circle cx="94.50" cy="66.50" r="1.45" fill="#efe92b"/>
<circle cx="94.03" cy="67.13" r="1.43" fill="#efe92b"/>
<circle cx="93.56" cy="67.76" r="1.89" fill="#efe92b"/>
<circle cx="93.09" cy="68.39" r="1.58" fill="#efe92b"/>
<circle cx="92.61" cy="69.01" r="1.43" fill="#efe92b"/>
<circle cx="92.14" cy="69.64" r="1.58" fill="#efe92b"/>
<circle cx="91.67" cy="70.27" r="1.78" fill="#efe92b"/>
<circle cx="91.20" cy="70.90" r="1.20" fill="#efe92b"/>
<circle cx="90.73" cy="71.44" r="2.03" fill="#efe92b"/>
<circle cx="90.27" cy="71.99" r="1.17" fill="#efe92b"/>
<circle cx="89.80" cy="72.53" r="1.82" fill="#efe92b"/>
<circle cx="89.33" cy="73.08" r="1.91" fill="#efe92b"/>
<circle cx="88.87" cy="73.62" r="1.17" fill="#efe92b"/>
<circle cx="88.40" cy="74.17" r="1.86" fill="#efe92b"/>
<circle cx="87.93" cy="74.71" r="1.48" fill="#efe92b"/>
<circle cx="87.47" cy="75.26" r="1.67" fill="#efe92b"/>
<circle cx="87.00" cy="75.80" r="1.16" fill="#efe92b"/>
<circle cx="86.49" cy="76.38" r="1.19" fill="#efe92b"/>
<circle cx="85.97" cy="76.95" r="1.31" fill="#efe92b"/>
<circle cx="85.46" cy="77.53" r="2.01" fill="#efe92b"/>
<circle cx="84.95" cy="78.10" r="1.33" fill="#efe92b"/>
<circle cx="84.44" cy="78.67" r="1.83" fill="#efe92b"/>
<circle cx="83.93" cy="79.25" r="1.99" fill="#efe92b"/>
<circle cx="83.41" cy="79.83" r="2.00" fill="#efe92b"/>
<circle cx="82.90" cy="80.40" r="1.46" fill="#efe92b"/>
<circle cx="82.41" cy="80.91" r="1.47" fill="#efe92b"/>
<circle cx="81.93" cy="81.43" r="1.62" fill="#efe92b"/>
<circle cx="81.44" cy="81.94" r="1.85" fill="#efe92b"/>
<circle cx="80.95" cy="82.45" r="1.25" fill="#efe92b"/>
<circle cx="80.46" cy="82.96" r="1.82" fill="#efe92b"/>
<circle cx="79.97" cy="83.47" r="1.87" fill="#efe92b"/>
<circle cx="79.49" cy="83.99" r="1.92" fill="#efe92b"/>
<circle cx="79.00" cy="84.50" r="1.18" fill="#efe92b"/>
<circle cx="78.53" cy="85.10" r="2.00" fill="#efe92b"/>
<circle cx="78.06" cy="85.70" r="1.23" fill="#efe92b"/>
<circle cx="77.59" cy="86.30" r="1.46" fill="#efe92b"/>
<circle cx="77.11" cy="86.90" r="1.70" fill="#efe92b"/>
<circle cx="76.64" cy="87.50" r="1.98" fill="#efe92b"/>
<circle cx="76.17" cy="88.10" r="1.46" fill="#efe92b"/>
<circle cx="75.70" cy="88.70" r="1.98" fill="#efe92b"/>
<circle cx="75.20" cy="89.27" r="1.64" fill="#efe92b"/>
<circle cx="74.70" cy="89.83" r="1.43" fill="#efe92b"/>
<circle cx="74.20" cy="90.40" r="1.44" fill="#efe92b"/>
<path d="M109.5,36.5 L111.5,32.8 L115,34.5 L114.5,37.5 Z" fill="#efe92b" stroke="#9c9612" stroke-width="0.4"/>
<text x="82.40" y="90.40" font-size="7.2" text-anchor="start" font-weight="normal" fill="#000" stroke="#000" stroke-width="0.15">Cont</text>
<line x1="143.02" y1="56.72" x2="139.94" y2="51.8" stroke="#b9520c" stroke-width="1.2" stroke-linecap="round"/>
<circle cx="139.94" cy="51.8" r="0.91" fill="#b9520c"/>
<line x1="140.19" y1="57.74" x2="144.2" y2="62.2" stroke="#b9520c" stroke-width="1.2" stroke-linecap="round"/>
<circle cx="144.2" cy="62.2" r="1.00" fill="#b9520c"/>
<line x1="137.61" y1="58.88" x2="137.86" y2="53.78" stroke="#b9520c" stroke-width="1.2" stroke-linecap="round"/>
<circle cx="137.86" cy="53.78" r="1.11" fill="#b9520c"/>
<line x1="135.24" y1="59.79" x2="134.58" y2="53.75" stroke="#b9520c" stroke-width="1.2" stroke-linecap="round"/>
<circle cx="134.58" cy="53.75" r="0.87" fill="#b9520c"/>
<line x1="133.0" y1="60.35" x2="129.75" y2="56.43" stroke="#b9520c" stroke-width="1.2" stroke-linecap="round"/>
<circle cx="129.75" cy="56.43" r="0.81" fill="#b9520c"/>
<line x1="129.96" y1="62.0" x2="131.2" y2="66.78" stroke="#b9520c" stroke-width="1.2" stroke-linecap="round"/>
<circle cx="131.2" cy="66.78" r="0.85" fill="#b9520c"/>
<line x1="127.29" y1="64.3" x2="122.15" y2="62.32" stroke="#b9520c" stroke-width="1.2" stroke-linecap="round"/>
<circle cx="122.15" cy="62.32" r="1.04" fill="#b9520c"/>
<line x1="126.7" y1="64.93" x2="130.84" y2="67.0" stroke="#b9520c" stroke-width="1.2" stroke-linecap="round"/>
<circle cx="130.84" cy="67.0" r="0.94" fill="#b9520c"/>
<line x1="123.44" y1="68.34" x2="126.99" y2="70.71" stroke="#b9520c" stroke-width="1.2" stroke-linecap="round"/>
<circle cx="126.99" cy="70.71" r="0.90" fill="#b9520c"/>
<line x1="122.54" y1="69.34" x2="119.41" y2="66.83" stroke="#b9520c" stroke-width="1.2" stroke-linecap="round"/>
<circle cx="119.41" cy="66.83" r="0.98" fill="#b9520c"/>
<line x1="120.76" y1="71.7" x2="116.49" y2="70.57" stroke="#b9520c" stroke-width="1.2" stroke-linecap="round"/>
<circle cx="116.49" cy="70.57" r="1.17" fill="#b9520c"/>
<line x1="119.53" y1="73.53" x2="124.14" y2="76.79" stroke="#b9520c" stroke-width="1.2" stroke-linecap="round"/>
<circle cx="124.14" cy="76.79" r="0.90" fill="#b9520c"/>
<line x1="117.94" y1="76.11" x2="113.85" y2="74.93" stroke="#b9520c" stroke-width="1.2" stroke-linecap="round"/>
<circle cx="113.85" cy="74.93" r="0.96" fill="#b9520c"/>
<line x1="116.75" y1="78.5" x2="112.36" y2="77.81" stroke="#b9520c" stroke-width="1.2" stroke-linecap="round"/>
<circle cx="112.36" cy="77.81" r="1.15" fill="#b9520c"/>
<line x1="114.76" y1="82.16" x2="110.07" y2="80.32" stroke="#b9520c" stroke-width="1.2" stroke-linecap="round"/>
<circle cx="110.07" cy="80.32" r="1.04" fill="#b9520c"/>
<line x1="113.48" y1="84.38" x2="118.13" y2="84.88" stroke="#b9520c" stroke-width="1.2" stroke-linecap="round"/>
<circle cx="118.13" cy="84.88" r="0.91" fill="#b9520c"/>
<line x1="112.1" y1="86.69" x2="106.45" y2="85.85" stroke="#b9520c" stroke-width="1.2" stroke-linecap="round"/>
<circle cx="106.45" cy="85.85" r="0.99" fill="#b9520c"/>
<line x1="110.09" y1="89.81" x2="105.59" y2="87.21" stroke="#b9520c" stroke-width="1.2" stroke-linecap="round"/>
<circle cx="105.59" cy="87.21" r="0.99" fill="#b9520c"/>
<line x1="109.23" y1="91.11" x2="114.61" y2="92.45" stroke="#b9520c" stroke-width="1.2" stroke-linecap="round"/>
<circle cx="114.61" cy="92.45" r="0.86" fill="#b9520c"/>
<line x1="107.47" y1="93.82" x2="103.43" y2="93.35" stroke="#b9520c" stroke-width="1.2" stroke-linecap="round"/>
<circle cx="103.43" cy="93.35" r="0.95" fill="#b9520c"/>
<line x1="105.93" y1="96.46" x2="110.45" y2="98.65" stroke="#b9520c" stroke-width="1.2" stroke-linecap="round"/>
<circle cx="110.45" cy="98.65" r="0.92" fill="#b9520c"/>
<line x1="104.64" y1="98.73" x2="101.31" y2="93.82" stroke="#b9520c" stroke-width="1.2" stroke-linecap="round"/>
<circle cx="101.31" cy="93.82" r="1.12" fill="#b9520c"/>
<line x1="103.27" y1="101.13" x2="100.8" y2="96.93" stroke="#b9520c" stroke-width="1.2" stroke-linecap="round"/>
<circle cx="100.8" cy="96.93" r="0.93" fill="#b9520c"/>
<line x1="101.61" y1="102.96" x2="99.04" y2="99.38" stroke="#b9520c" stroke-width="1.2" stroke-linecap="round"/>
<circle cx="99.04" cy="99.38" r="1.06" fill="#b9520c"/>
<circle cx="144.50" cy="56.20" r="2.81" fill="#b9520c"/>
<circle cx="143.83" cy="56.43" r="2.84" fill="#b9520c"/>
<circle cx="143.17" cy="56.67" r="2.54" fill="#b9520c"/>
<circle cx="142.50" cy="56.90" r="2.34" fill="#b9520c"/>
<circle cx="141.83" cy="57.13" r="2.10" fill="#b9520c"/>
<circle cx="141.17" cy="57.37" r="2.70" fill="#b9520c"/>
<circle cx="140.50" cy="57.60" r="2.52" fill="#b9520c"/>
<circle cx="139.86" cy="57.89" r="2.78" fill="#b9520c"/>
<circle cx="139.21" cy="58.17" r="2.44" fill="#b9520c"/>
<circle cx="138.57" cy="58.46" r="2.79" fill="#b9520c"/>
<circle cx="137.93" cy="58.74" r="2.35" fill="#b9520c"/>
<circle cx="137.29" cy="59.03" r="2.82" fill="#b9520c"/>
<circle cx="136.64" cy="59.31" r="2.76" fill="#b9520c"/>
<circle cx="136.00" cy="59.60" r="2.47" fill="#b9520c"/>
<circle cx="135.20" cy="59.80" r="2.58" fill="#b9520c"/>
<circle cx="134.40" cy="60.00" r="2.71" fill="#b9520c"/>
<circle cx="133.60" cy="60.20" r="2.27" fill="#b9520c"/>
<circle cx="132.80" cy="60.40" r="2.60" fill="#b9520c"/>
<circle cx="132.00" cy="60.60" r="2.82" fill="#b9520c"/>
<circle cx="131.42" cy="61.00" r="2.34" fill="#b9520c"/>
<circle cx="130.83" cy="61.40" r="2.82" fill="#b9520c"/>
<circle cx="130.25" cy="61.80" r="2.72" fill="#b9520c"/>
<circle cx="129.67" cy="62.20" r="2.86" fill="#b9520c"/>
<circle cx="129.08" cy="62.60" r="2.40" fill="#b9520c"/>
<circle cx="128.50" cy="63.00" r="2.18" fill="#b9520c"/>
<circle cx="127.94" cy="63.60" r="2.82" fill="#b9520c"/>
<circle cx="127.38" cy="64.20" r="2.82" fill="#b9520c"/>
<circle cx="126.82" cy="64.80" r="2.50" fill="#b9520c"/>
<circle cx="126.26" cy="65.40" r="2.18" fill="#b9520c"/>
<circle cx="125.70" cy="66.00" r="2.28" fill="#b9520c"/>
<circle cx="125.12" cy="66.60" r="2.67" fill="#b9520c"/>
<circle cx="124.54" cy="67.20" r="2.36" fill="#b9520c"/>
<circle cx="123.96" cy="67.80" r="2.96" fill="#b9520c"/>
<circle cx="123.38" cy="68.40" r="2.63" fill="#b9520c"/>
<circle cx="122.80" cy="69.00" r="2.28" fill="#b9520c"/>
<circle cx="122.30" cy="69.66" r="2.69" fill="#b9520c"/>
<circle cx="121.80" cy="70.32" r="2.42" fill="#b9520c"/>
<circle cx="121.30" cy="70.98" r="2.94" fill="#b9520c"/>
<circle cx="120.80" cy="71.64" r="2.92" fill="#b9520c"/>
<circle cx="120.30" cy="72.30" r="2.56" fill="#b9520c"/>
<circle cx="119.92" cy="72.92" r="2.68" fill="#b9520c"/>
<circle cx="119.53" cy="73.53" r="2.73" fill="#b9520c"/>
<circle cx="119.15" cy="74.15" r="2.82" fill="#b9520c"/>
<circle cx="118.77" cy="74.77" r="2.98" fill="#b9520c"/>
<circle cx="118.38" cy="75.38" r="2.13" fill="#b9520c"/>
<circle cx="118.00" cy="76.00" r="2.43" fill="#b9520c"/>
<circle cx="117.68" cy="76.63" r="2.64" fill="#b9520c"/>
<circle cx="117.37" cy="77.27" r="2.37" fill="#b9520c"/>
<circle cx="117.05" cy="77.90" r="2.63" fill="#b9520c"/>
<circle cx="116.73" cy="78.53" r="2.18" fill="#b9520c"/>
<circle cx="116.42" cy="79.17" r="2.89" fill="#b9520c"/>
<circle cx="116.10" cy="79.80" r="2.57" fill="#b9520c"/>
<circle cx="115.75" cy="80.42" r="2.21" fill="#b9520c"/>
<circle cx="115.40" cy="81.03" r="2.70" fill="#b9520c"/>
<circle cx="115.05" cy="81.65" r="2.38" fill="#b9520c"/>
<circle cx="114.70" cy="82.27" r="2.28" fill="#b9520c"/>
<circle cx="114.35" cy="82.88" r="2.54" fill="#b9520c"/>
<circle cx="114.00" cy="83.50" r="2.22" fill="#b9520c"/>
<circle cx="113.63" cy="84.12" r="2.29" fill="#b9520c"/>
<circle cx="113.27" cy="84.73" r="2.88" fill="#b9520c"/>
<circle cx="112.90" cy="85.35" r="2.73" fill="#b9520c"/>
<circle cx="112.53" cy="85.97" r="2.11" fill="#b9520c"/>
<circle cx="112.17" cy="86.58" r="2.80" fill="#b9520c"/>
<circle cx="111.80" cy="87.20" r="2.12" fill="#b9520c"/>
<circle cx="111.38" cy="87.84" r="2.40" fill="#b9520c"/>
<circle cx="110.96" cy="88.48" r="2.91" fill="#b9520c"/>
<circle cx="110.54" cy="89.12" r="2.66" fill="#b9520c"/>
<circle cx="110.12" cy="89.76" r="2.38" fill="#b9520c"/>
<circle cx="109.70" cy="90.40" r="2.44" fill="#b9520c"/>
<circle cx="109.28" cy="91.04" r="2.45" fill="#b9520c"/>
<circle cx="108.86" cy="91.68" r="2.21" fill="#b9520c"/>
<circle cx="108.44" cy="92.32" r="3.00" fill="#b9520c"/>
<circle cx="108.02" cy="92.96" r="2.15" fill="#b9520c"/>
<circle cx="107.60" cy="93.60" r="2.48" fill="#b9520c"/>
<circle cx="107.18" cy="94.32" r="2.77" fill="#b9520c"/>
<circle cx="106.76" cy="95.04" r="2.46" fill="#b9520c"/>
<circle cx="106.34" cy="95.76" r="2.98" fill="#b9520c"/>
<circle cx="105.92" cy="96.48" r="2.32" fill="#b9520c"/>
<circle cx="105.50" cy="97.20" r="2.98" fill="#b9520c"/>
<circle cx="105.13" cy="97.85" r="2.90" fill="#b9520c"/>
<circle cx="104.77" cy="98.50" r="2.70" fill="#b9520c"/>
<circle cx="104.40" cy="99.15" r="2.90" fill="#b9520c"/>
<circle cx="104.03" cy="99.80" r="2.50" fill="#b9520c"/>
<circle cx="103.67" cy="100.45" r="2.85" fill="#b9520c"/>
<circle cx="103.30" cy="101.10" r="2.82" fill="#b9520c"/>
<circle cx="102.82" cy="101.63" r="2.57" fill="#b9520c"/>
<circle cx="102.33" cy="102.17" r="2.52" fill="#b9520c"/>
<circle cx="101.85" cy="102.70" r="2.74" fill="#b9520c"/>
<circle cx="101.37" cy="103.23" r="2.47" fill="#b9520c"/>
<circle cx="100.88" cy="103.77" r="2.18" fill="#b9520c"/>
<circle cx="100.40" cy="104.30" r="2.77" fill="#b9520c"/>
<line x1="143.02" y1="56.72" x2="139.94" y2="51.8" stroke="#ea7420" stroke-width="0.6" stroke-linecap="round"/>
<circle cx="139.94" cy="51.8" r="0.55" fill="#ea7420"/>
<line x1="140.19" y1="57.74" x2="144.2" y2="62.2" stroke="#ea7420" stroke-width="0.6" stroke-linecap="round"/>
<circle cx="144.2" cy="62.2" r="0.55" fill="#ea7420"/>
<line x1="137.61" y1="58.88" x2="137.86" y2="53.78" stroke="#ea7420" stroke-width="0.6" stroke-linecap="round"/>
<circle cx="137.86" cy="53.78" r="0.55" fill="#ea7420"/>
<line x1="135.24" y1="59.79" x2="134.58" y2="53.75" stroke="#ea7420" stroke-width="0.6" stroke-linecap="round"/>
<circle cx="134.58" cy="53.75" r="0.55" fill="#ea7420"/>
<line x1="133.0" y1="60.35" x2="129.75" y2="56.43" stroke="#ea7420" stroke-width="0.6" stroke-linecap="round"/>
<circle cx="129.75" cy="56.43" r="0.55" fill="#ea7420"/>
<line x1="129.96" y1="62.0" x2="131.2" y2="66.78" stroke="#ea7420" stroke-width="0.6" stroke-linecap="round"/>
<circle cx="131.2" cy="66.78" r="0.55" fill="#ea7420"/>
<line x1="127.29" y1="64.3" x2="122.15" y2="62.32" stroke="#ea7420" stroke-width="0.6" stroke-linecap="round"/>
<circle cx="122.15" cy="62.32" r="0.55" fill="#ea7420"/>
<line x1="126.7" y1="64.93" x2="130.84" y2="67.0" stroke="#ea7420" stroke-width="0.6" stroke-linecap="round"/>
<circle cx="130.84" cy="67.0" r="0.55" fill="#ea7420"/>
<line x1="123.44" y1="68.34" x2="126.99" y2="70.71" stroke="#ea7420" stroke-width="0.6" stroke-linecap="round"/>
<circle cx="126.99" cy="70.71" r="0.55" fill="#ea7420"/>
<line x1="122.54" y1="69.34" x2="119.41" y2="66.83" stroke="#ea7420" stroke-width="0.6" stroke-linecap="round"/>
<circle cx="119.41" cy="66.83" r="0.55" fill="#ea7420"/>
<line x1="120.76" y1="71.7" x2="116.49" y2="70.57" stroke="#ea7420" stroke-width="0.6" stroke-linecap="round"/>
<circle cx="116.49" cy="70.57" r="0.55" fill="#ea7420"/>
<line x1="119.53" y1="73.53" x2="124.14" y2="76.79" stroke="#ea7420" stroke-width="0.6" stroke-linecap="round"/>
<circle cx="124.14" cy="76.79" r="0.55" fill="#ea7420"/>
<line x1="117.94" y1="76.11" x2="113.85" y2="74.93" stroke="#ea7420" stroke-width="0.6" stroke-linecap="round"/>
<circle cx="113.85" cy="74.93" r="0.55" fill="#ea7420"/>
<line x1="116.75" y1="78.5" x2="112.36" y2="77.81" stroke="#ea7420" stroke-width="0.6" stroke-linecap="round"/>
<circle cx="112.36" cy="77.81" r="0.55" fill="#ea7420"/>
<line x1="114.76" y1="82.16" x2="110.07" y2="80.32" stroke="#ea7420" stroke-width="0.6" stroke-linecap="round"/>
<circle cx="110.07" cy="80.32" r="0.55" fill="#ea7420"/>
<line x1="113.48" y1="84.38" x2="118.13" y2="84.88" stroke="#ea7420" stroke-width="0.6" stroke-linecap="round"/>
<circle cx="118.13" cy="84.88" r="0.55" fill="#ea7420"/>
<line x1="112.1" y1="86.69" x2="106.45" y2="85.85" stroke="#ea7420" stroke-width="0.6" stroke-linecap="round"/>
<circle cx="106.45" cy="85.85" r="0.55" fill="#ea7420"/>
<line x1="110.09" y1="89.81" x2="105.59" y2="87.21" stroke="#ea7420" stroke-width="0.6" stroke-linecap="round"/>
<circle cx="105.59" cy="87.21" r="0.55" fill="#ea7420"/>
<line x1="109.23" y1="91.11" x2="114.61" y2="92.45" stroke="#ea7420" stroke-width="0.6" stroke-linecap="round"/>
<circle cx="114.61" cy="92.45" r="0.55" fill="#ea7420"/>
<line x1="107.47" y1="93.82" x2="103.43" y2="93.35" stroke="#ea7420" stroke-width="0.6" stroke-linecap="round"/>
<circle cx="103.43" cy="93.35" r="0.55" fill="#ea7420"/>
<line x1="105.93" y1="96.46" x2="110.45" y2="98.65" stroke="#ea7420" stroke-width="0.6" stroke-linecap="round"/>
<circle cx="110.45" cy="98.65" r="0.55" fill="#ea7420"/>
<line x1="104.64" y1="98.73" x2="101.31" y2="93.82" stroke="#ea7420" stroke-width="0.6" stroke-linecap="round"/>
<circle cx="101.31" cy="93.82" r="0.55" fill="#ea7420"/>
<line x1="103.27" y1="101.13" x2="100.8" y2="96.93" stroke="#ea7420" stroke-width="0.6" stroke-linecap="round"/>
<circle cx="100.8" cy="96.93" r="0.55" fill="#ea7420"/>
<line x1="101.61" y1="102.96" x2="99.04" y2="99.38" stroke="#ea7420" stroke-width="0.6" stroke-linecap="round"/>
<circle cx="99.04" cy="99.38" r="0.55" fill="#ea7420"/>
<circle cx="144.50" cy="56.20" r="2.36" fill="#ea7420"/>
<circle cx="143.83" cy="56.43" r="2.39" fill="#ea7420"/>
<circle cx="143.17" cy="56.67" r="2.09" fill="#ea7420"/>
<circle cx="142.50" cy="56.90" r="1.89" fill="#ea7420"/>
<circle cx="141.83" cy="57.13" r="1.65" fill="#ea7420"/>
<circle cx="141.17" cy="57.37" r="2.25" fill="#ea7420"/>
<circle cx="140.50" cy="57.60" r="2.07" fill="#ea7420"/>
<circle cx="139.86" cy="57.89" r="2.33" fill="#ea7420"/>
<circle cx="139.21" cy="58.17" r="1.99" fill="#ea7420"/>
<circle cx="138.57" cy="58.46" r="2.34" fill="#ea7420"/>
<circle cx="137.93" cy="58.74" r="1.90" fill="#ea7420"/>
<circle cx="137.29" cy="59.03" r="2.37" fill="#ea7420"/>
<circle cx="136.64" cy="59.31" r="2.31" fill="#ea7420"/>
<circle cx="136.00" cy="59.60" r="2.02" fill="#ea7420"/>
<circle cx="135.20" cy="59.80" r="2.13" fill="#ea7420"/>
<circle cx="134.40" cy="60.00" r="2.26" fill="#ea7420"/>
<circle cx="133.60" cy="60.20" r="1.82" fill="#ea7420"/>
<circle cx="132.80" cy="60.40" r="2.15" fill="#ea7420"/>
<circle cx="132.00" cy="60.60" r="2.37" fill="#ea7420"/>
<circle cx="131.42" cy="61.00" r="1.89" fill="#ea7420"/>
<circle cx="130.83" cy="61.40" r="2.37" fill="#ea7420"/>
<circle cx="130.25" cy="61.80" r="2.27" fill="#ea7420"/>
<circle cx="129.67" cy="62.20" r="2.41" fill="#ea7420"/>
<circle cx="129.08" cy="62.60" r="1.95" fill="#ea7420"/>
<circle cx="128.50" cy="63.00" r="1.73" fill="#ea7420"/>
<circle cx="127.94" cy="63.60" r="2.37" fill="#ea7420"/>
<circle cx="127.38" cy="64.20" r="2.37" fill="#ea7420"/>
<circle cx="126.82" cy="64.80" r="2.05" fill="#ea7420"/>
<circle cx="126.26" cy="65.40" r="1.73" fill="#ea7420"/>
<circle cx="125.70" cy="66.00" r="1.83" fill="#ea7420"/>
<circle cx="125.12" cy="66.60" r="2.22" fill="#ea7420"/>
<circle cx="124.54" cy="67.20" r="1.91" fill="#ea7420"/>
<circle cx="123.96" cy="67.80" r="2.51" fill="#ea7420"/>
<circle cx="123.38" cy="68.40" r="2.18" fill="#ea7420"/>
<circle cx="122.80" cy="69.00" r="1.83" fill="#ea7420"/>
<circle cx="122.30" cy="69.66" r="2.24" fill="#ea7420"/>
<circle cx="121.80" cy="70.32" r="1.97" fill="#ea7420"/>
<circle cx="121.30" cy="70.98" r="2.49" fill="#ea7420"/>
<circle cx="120.80" cy="71.64" r="2.47" fill="#ea7420"/>
<circle cx="120.30" cy="72.30" r="2.11" fill="#ea7420"/>
<circle cx="119.92" cy="72.92" r="2.23" fill="#ea7420"/>
<circle cx="119.53" cy="73.53" r="2.28" fill="#ea7420"/>
<circle cx="119.15" cy="74.15" r="2.37" fill="#ea7420"/>
<circle cx="118.77" cy="74.77" r="2.53" fill="#ea7420"/>
<circle cx="118.38" cy="75.38" r="1.68" fill="#ea7420"/>
<circle cx="118.00" cy="76.00" r="1.98" fill="#ea7420"/>
<circle cx="117.68" cy="76.63" r="2.19" fill="#ea7420"/>
<circle cx="117.37" cy="77.27" r="1.92" fill="#ea7420"/>
<circle cx="117.05" cy="77.90" r="2.18" fill="#ea7420"/>
<circle cx="116.73" cy="78.53" r="1.73" fill="#ea7420"/>
<circle cx="116.42" cy="79.17" r="2.44" fill="#ea7420"/>
<circle cx="116.10" cy="79.80" r="2.12" fill="#ea7420"/>
<circle cx="115.75" cy="80.42" r="1.76" fill="#ea7420"/>
<circle cx="115.40" cy="81.03" r="2.25" fill="#ea7420"/>
<circle cx="115.05" cy="81.65" r="1.93" fill="#ea7420"/>
<circle cx="114.70" cy="82.27" r="1.83" fill="#ea7420"/>
<circle cx="114.35" cy="82.88" r="2.09" fill="#ea7420"/>
<circle cx="114.00" cy="83.50" r="1.77" fill="#ea7420"/>
<circle cx="113.63" cy="84.12" r="1.84" fill="#ea7420"/>
<circle cx="113.27" cy="84.73" r="2.43" fill="#ea7420"/>
<circle cx="112.90" cy="85.35" r="2.28" fill="#ea7420"/>
<circle cx="112.53" cy="85.97" r="1.66" fill="#ea7420"/>
<circle cx="112.17" cy="86.58" r="2.35" fill="#ea7420"/>
<circle cx="111.80" cy="87.20" r="1.67" fill="#ea7420"/>
<circle cx="111.38" cy="87.84" r="1.95" fill="#ea7420"/>
<circle cx="110.96" cy="88.48" r="2.46" fill="#ea7420"/>
<circle cx="110.54" cy="89.12" r="2.21" fill="#ea7420"/>
<circle cx="110.12" cy="89.76" r="1.93" fill="#ea7420"/>
<circle cx="109.70" cy="90.40" r="1.99" fill="#ea7420"/>
<circle cx="109.28" cy="91.04" r="2.00" fill="#ea7420"/>
<circle cx="108.86" cy="91.68" r="1.76" fill="#ea7420"/>
<circle cx="108.44" cy="92.32" r="2.55" fill="#ea7420"/>
<circle cx="108.02" cy="92.96" r="1.70" fill="#ea7420"/>
<circle cx="107.60" cy="93.60" r="2.03" fill="#ea7420"/>
<circle cx="107.18" cy="94.32" r="2.32" fill="#ea7420"/>
<circle cx="106.76" cy="95.04" r="2.01" fill="#ea7420"/>
<circle cx="106.34" cy="95.76" r="2.53" fill="#ea7420"/>
<circle cx="105.92" cy="96.48" r="1.87" fill="#ea7420"/>
<circle cx="105.50" cy="97.20" r="2.53" fill="#ea7420"/>
<circle cx="105.13" cy="97.85" r="2.45" fill="#ea7420"/>
<circle cx="104.77" cy="98.50" r="2.25" fill="#ea7420"/>
<circle cx="104.40" cy="99.15" r="2.45" fill="#ea7420"/>
<circle cx="104.03" cy="99.80" r="2.05" fill="#ea7420"/>
<circle cx="103.67" cy="100.45" r="2.40" fill="#ea7420"/>
<circle cx="103.30" cy="101.10" r="2.37" fill="#ea7420"/>
<circle cx="102.82" cy="101.63" r="2.12" fill="#ea7420"/>
<circle cx="102.33" cy="102.17" r="2.07" fill="#ea7420"/>
<circle cx="101.85" cy="102.70" r="2.29" fill="#ea7420"/>
<circle cx="101.37" cy="103.23" r="2.02" fill="#ea7420"/>
<circle cx="100.88" cy="103.77" r="1.73" fill="#ea7420"/>
<circle cx="100.40" cy="104.30" r="2.32" fill="#ea7420"/>
<path d="M142.5,54.2 L146.5,53.4 L147.2,57.2 L144,59.2 Z" fill="#ea7420"/>
<text x="114.30" y="108.60" font-size="7.2" text-anchor="start" font-weight="normal" fill="#000" stroke="#000" stroke-width="0.15">cKD</text>
<text x="204.00" y="25.50" font-size="8.7" text-anchor="middle" font-weight="normal" fill="#000" stroke="#000" stroke-width="0.15">Spine classes</text>
<text x="291.00" y="25.50" font-size="8.7" text-anchor="middle" font-weight="normal" fill="#000" stroke="#000" stroke-width="0.15">Spine classes</text>
<rect x="175.40" y="34.20" width="20.50" height="14.40" fill="#9e85c3" stroke="none" stroke-width="0"/>
<rect x="175.40" y="48.60" width="20.50" height="22.60" fill="#3dbaea" stroke="none" stroke-width="0"/>
<rect x="175.40" y="71.20" width="20.50" height="37.80" fill="#6fc3c2" stroke="none" stroke-width="0"/>
<rect x="175.40" y="109.00" width="20.50" height="2.30" fill="#f4a17f" stroke="none" stroke-width="0"/>
<line x1="175.40" y1="48.60" x2="195.90" y2="48.60" stroke="#333" stroke-width="0.7"/>
<line x1="175.40" y1="71.20" x2="195.90" y2="71.20" stroke="#333" stroke-width="0.7"/>
<line x1="175.40" y1="109.00" x2="195.90" y2="109.00" stroke="#333" stroke-width="0.7"/>
<rect x="175.40" y="34.20" width="20.50" height="77.10" fill="none" stroke="#333" stroke-width="0.8"/>
<rect x="208.40" y="34.20" width="20.50" height="7.70" fill="#9e85c3" stroke="none" stroke-width="0"/>
<rect x="208.40" y="41.90" width="20.50" height="31.20" fill="#3dbaea" stroke="none" stroke-width="0"/>
<rect x="208.40" y="73.10" width="20.50" height="31.90" fill="#6fc3c2" stroke="none" stroke-width="0"/>
<rect x="208.40" y="105.00" width="20.50" height="6.30" fill="#f4a17f" stroke="none" stroke-width="0"/>
<line x1="208.40" y1="41.90" x2="228.90" y2="41.90" stroke="#333" stroke-width="0.7"/>
<line x1="208.40" y1="73.10" x2="228.90" y2="73.10" stroke="#333" stroke-width="0.7"/>
<line x1="208.40" y1="105.00" x2="228.90" y2="105.00" stroke="#333" stroke-width="0.7"/>
<rect x="208.40" y="34.20" width="20.50" height="77.10" fill="none" stroke="#333" stroke-width="0.8"/>
<rect x="262.40" y="34.20" width="20.50" height="5.50" fill="#9e85c3" stroke="none" stroke-width="0"/>
<rect x="262.40" y="39.70" width="20.50" height="37.50" fill="#3dbaea" stroke="none" stroke-width="0"/>
<rect x="262.40" y="77.20" width="20.50" height="28.80" fill="#6fc3c2" stroke="none" stroke-width="0"/>
<rect x="262.40" y="106.00" width="20.50" height="5.30" fill="#f4a17f" stroke="none" stroke-width="0"/>
<line x1="262.40" y1="39.70" x2="282.90" y2="39.70" stroke="#333" stroke-width="0.7"/>
<line x1="262.40" y1="77.20" x2="282.90" y2="77.20" stroke="#333" stroke-width="0.7"/>
<line x1="262.40" y1="106.00" x2="282.90" y2="106.00" stroke="#333" stroke-width="0.7"/>
<rect x="262.40" y="34.20" width="20.50" height="77.10" fill="none" stroke="#333" stroke-width="0.8"/>
<rect x="295.60" y="34.20" width="20.50" height="24.30" fill="#3dbaea" stroke="none" stroke-width="0"/>
<rect x="295.60" y="58.50" width="20.50" height="41.90" fill="#6fc3c2" stroke="none" stroke-width="0"/>
<rect x="295.60" y="100.40" width="20.50" height="10.90" fill="#f4a17f" stroke="none" stroke-width="0"/>
<line x1="295.60" y1="58.50" x2="316.10" y2="58.50" stroke="#333" stroke-width="0.7"/>
<line x1="295.60" y1="100.40" x2="316.10" y2="100.40" stroke="#333" stroke-width="0.7"/>
<rect x="295.60" y="34.20" width="20.50" height="77.10" fill="none" stroke="#333" stroke-width="0.8"/>
<line x1="195.90" y1="71.20" x2="208.40" y2="73.10" stroke="#333" stroke-width="0.6" stroke-dasharray="1,1"/>
<line x1="195.90" y1="111.10" x2="208.40" y2="111.10" stroke="#333" stroke-width="0.6" stroke-dasharray="1,1"/>
<line x1="282.90" y1="77.20" x2="295.60" y2="58.50" stroke="#333" stroke-width="0.6" stroke-dasharray="1,1"/>
<line x1="282.90" y1="111.10" x2="295.60" y2="111.10" stroke="#333" stroke-width="0.6" stroke-dasharray="1,1"/>
<line x1="171.00" y1="71.60" x2="171.00" y2="110.50" stroke="#555" stroke-width="0.8"/>
<line x1="233.00" y1="73.50" x2="233.00" y2="111.50" stroke="#555" stroke-width="0.8"/>
<line x1="258.80" y1="77.20" x2="258.80" y2="111.50" stroke="#555" stroke-width="0.8"/>
<line x1="319.40" y1="58.40" x2="319.40" y2="110.80" stroke="#555" stroke-width="0.8"/>
<text x="169.60" y="89.90" font-size="7.6" text-anchor="middle" font-weight="normal" fill="#000" stroke="#000" stroke-width="0.15" transform="rotate(-90 169.6 89.9)">(51.6 %)</text>
<text x="236.90" y="91.30" font-size="7.4" text-anchor="middle" font-weight="normal" fill="#000" stroke="#000" stroke-width="0.15" transform="rotate(90 236.9 91.3)">(49.3%)</text>
<text x="256.00" y="94.50" font-size="7.3" text-anchor="middle" font-weight="normal" fill="#000" stroke="#000" stroke-width="0.15" transform="rotate(-90 256 94.5)">(44.3 %)</text>
<text x="322.30" y="84.70" font-size="7.2" text-anchor="middle" font-weight="normal" fill="#000" stroke="#000" stroke-width="0.15" transform="rotate(90 322.3 84.7)">Mature (68.3%)</text>
<text x="185.70" y="120.60" font-size="8.7" text-anchor="middle" font-weight="normal" fill="#000" stroke="#000" stroke-width="0.15">Cont</text>
<text x="218.70" y="120.60" font-size="8.7" text-anchor="middle" font-weight="normal" fill="#000" stroke="#000" stroke-width="0.15">cKD</text>
<text x="272.40" y="120.60" font-size="8.7" text-anchor="middle" font-weight="normal" fill="#000" stroke="#000" stroke-width="0.15">Cont</text>
<text x="305.70" y="120.60" font-size="8.7" text-anchor="middle" font-weight="normal" fill="#000" stroke="#000" stroke-width="0.15">cKD</text>
<line x1="175.40" y1="123.40" x2="229.00" y2="123.40" stroke="#555" stroke-width="0.8"/>
<line x1="262.40" y1="123.40" x2="316.00" y2="123.40" stroke="#555" stroke-width="0.8"/>
<text x="202.40" y="132.80" font-size="8.0" text-anchor="middle" font-weight="normal" fill="#000" stroke="#000" stroke-width="0.15">+saline</text>
<text x="289.00" y="132.80" font-size="8.0" text-anchor="middle" font-weight="normal" fill="#000" stroke="#000" stroke-width="0.15">+cocaine</text>
<rect x="335.50" y="81.30" width="43.20" height="29.00" fill="#fff" stroke="#444" stroke-width="0.7"/>
<rect x="337.40" y="83.40" width="4.80" height="4.60" fill="#9e85c3" stroke="none" stroke-width="0"/>
<text x="343.80" y="87.90" font-size="6.85" text-anchor="start" font-weight="normal" fill="#000" stroke="#000" stroke-width="0.15">Filopodia</text>
<rect x="337.40" y="90.50" width="4.80" height="4.60" fill="#3dbaea" stroke="none" stroke-width="0"/>
<text x="343.80" y="95.00" font-size="6.85" text-anchor="start" font-weight="normal" fill="#000" stroke="#000" stroke-width="0.15">Thin</text>
<rect x="337.40" y="97.60" width="4.80" height="4.60" fill="#6fc3c2" stroke="none" stroke-width="0"/>
<text x="343.80" y="102.10" font-size="6.85" text-anchor="start" font-weight="normal" fill="#000" stroke="#000" stroke-width="0.15">Mushroom</text>
<rect x="337.40" y="104.70" width="4.80" height="4.60" fill="#f4a17f" stroke="none" stroke-width="0"/>
<text x="343.80" y="109.20" font-size="6.85" text-anchor="start" font-weight="normal" fill="#000" stroke="#000" stroke-width="0.15">Stubby</text>
<text x="453.50" y="29.00" font-size="9.2" text-anchor="middle" font-weight="normal" fill="#000" stroke="#000" stroke-width="0.15">Head Width</text>
<line x1="416.40" y1="43.30" x2="416.40" y2="117.30" stroke="#222" stroke-width="0.8"/>
<line x1="416.40" y1="117.30" x2="490.40" y2="117.30" stroke="#222" stroke-width="0.8"/>
<line x1="414.80" y1="43.50" x2="416.40" y2="43.50" stroke="#222" stroke-width="0.6"/>
<text x="414.40" y="45.10" font-size="4.6" text-anchor="end" font-weight="normal" fill="#000" stroke="#000" stroke-width="0.15">3</text>
<line x1="414.80" y1="68.00" x2="416.40" y2="68.00" stroke="#222" stroke-width="0.6"/>
<text x="414.40" y="69.60" font-size="4.6" text-anchor="end" font-weight="normal" fill="#000" stroke="#000" stroke-width="0.15">2</text>
<line x1="414.80" y1="92.50" x2="416.40" y2="92.50" stroke="#222" stroke-width="0.6"/>
<text x="414.40" y="94.10" font-size="4.6" text-anchor="end" font-weight="normal" fill="#000" stroke="#000" stroke-width="0.15">1</text>
<line x1="414.80" y1="117.00" x2="416.40" y2="117.00" stroke="#222" stroke-width="0.6"/>
<text x="414.40" y="118.60" font-size="4.6" text-anchor="end" font-weight="normal" fill="#000" stroke="#000" stroke-width="0.15">0</text>
<text x="405.30" y="80.20" font-size="7.7" text-anchor="middle" font-weight="normal" fill="#000" stroke="#000" stroke-width="0.15" transform="rotate(-90 405.3 80.2)">Width (µm)</text>
<rect x="421.70" y="103.60" width="11.30" height="13.70" fill="#d5d5d5" stroke="none" stroke-width="0"/>
<rect x="439.10" y="103.20" width="11.50" height="14.10" fill="#fcdfe2" stroke="none" stroke-width="0"/>
<rect x="456.30" y="107.50" width="11.30" height="9.80" fill="#7d7d7d" stroke="none" stroke-width="0"/>
<rect x="473.00" y="104.00" width="12.00" height="13.30" fill="#e5232a" stroke="none" stroke-width="0"/>
<circle cx="425.84" cy="112.35" r="1.0" fill="#000" stroke="none" stroke-width="0"/>
<circle cx="429.78" cy="108.82" r="1.0" fill="#000" stroke="none" stroke-width="0"/>
<circle cx="428.79" cy="107.46" r="1.0" fill="#000" stroke="none" stroke-width="0"/>
<circle cx="425.98" cy="110.78" r="1.0" fill="#000" stroke="none" stroke-width="0"/>
<circle cx="427.33" cy="112.58" r="1.0" fill="#000" stroke="none" stroke-width="0"/>
<circle cx="426.99" cy="109.79" r="1.0" fill="#000" stroke="none" stroke-width="0"/>
<circle cx="428.38" cy="108.60" r="1.0" fill="#000" stroke="none" stroke-width="0"/>
<circle cx="428.82" cy="107.23" r="1.0" fill="#000" stroke="none" stroke-width="0"/>
<circle cx="425.66" cy="112.33" r="1.0" fill="#000" stroke="none" stroke-width="0"/>
<circle cx="425.47" cy="112.50" r="1.0" fill="#000" stroke="none" stroke-width="0"/>
<circle cx="429.47" cy="108.09" r="1.0" fill="#000" stroke="none" stroke-width="0"/>
<circle cx="426.89" cy="108.60" r="1.0" fill="#000" stroke="none" stroke-width="0"/>
<circle cx="428.31" cy="106.27" r="1.0" fill="#000" stroke="none" stroke-width="0"/>
<circle cx="424.62" cy="107.48" r="1.0" fill="#000" stroke="none" stroke-width="0"/>
<circle cx="426.97" cy="109.87" r="1.0" fill="#000" stroke="none" stroke-width="0"/>
<circle cx="428.78" cy="110.25" r="1.0" fill="#000" stroke="none" stroke-width="0"/>
<circle cx="426.53" cy="103.98" r="1.0" fill="#000" stroke="none" stroke-width="0"/>
<circle cx="430.21" cy="110.29" r="1.0" fill="#000" stroke="none" stroke-width="0"/>
<circle cx="429.30" cy="111.38" r="1.0" fill="#000" stroke="none" stroke-width="0"/>
<circle cx="425.33" cy="112.16" r="1.0" fill="#000" stroke="none" stroke-width="0"/>
<circle cx="423.93" cy="109.44" r="1.0" fill="#000" stroke="none" stroke-width="0"/>
<circle cx="427.65" cy="109.33" r="1.0" fill="#000" stroke="none" stroke-width="0"/>
<circle cx="430.08" cy="110.41" r="1.0" fill="#000" stroke="none" stroke-width="0"/>
<circle cx="426.51" cy="109.79" r="1.0" fill="#000" stroke="none" stroke-width="0"/>
<circle cx="425.33" cy="109.05" r="1.0" fill="#000" stroke="none" stroke-width="0"/>
<circle cx="426.86" cy="108.12" r="1.0" fill="#000" stroke="none" stroke-width="0"/>
<circle cx="424.96" cy="107.23" r="1.0" fill="#000" stroke="none" stroke-width="0"/>
<circle cx="425.35" cy="109.19" r="1.0" fill="#000" stroke="none" stroke-width="0"/>
<circle cx="427.21" cy="113.60" r="1.0" fill="#000" stroke="none" stroke-width="0"/>
<circle cx="427.32" cy="108.10" r="1.0" fill="#000" stroke="none" stroke-width="0"/>
<circle cx="426.38" cy="112.78" r="1.0" fill="#000" stroke="none" stroke-width="0"/>
<circle cx="425.52" cy="110.03" r="1.0" fill="#000" stroke="none" stroke-width="0"/>
<circle cx="426.38" cy="112.90" r="1.0" fill="#000" stroke="none" stroke-width="0"/>
<circle cx="427.06" cy="109.65" r="1.0" fill="#000" stroke="none" stroke-width="0"/>
<circle cx="426.33" cy="111.37" r="1.0" fill="#000" stroke="none" stroke-width="0"/>
<circle cx="423.92" cy="109.18" r="1.0" fill="#000" stroke="none" stroke-width="0"/>
<circle cx="428.65" cy="102.37" r="1.0" fill="#000" stroke="none" stroke-width="0"/>
<circle cx="427.75" cy="109.76" r="1.0" fill="#000" stroke="none" stroke-width="0"/>
<circle cx="428.20" cy="107.79" r="1.0" fill="#000" stroke="none" stroke-width="0"/>
<circle cx="426.12" cy="112.57" r="1.0" fill="#000" stroke="none" stroke-width="0"/>
<circle cx="430.51" cy="110.29" r="1.0" fill="#000" stroke="none" stroke-width="0"/>
<circle cx="429.66" cy="108.19" r="1.0" fill="#000" stroke="none" stroke-width="0"/>
<circle cx="424.71" cy="109.85" r="1.0" fill="#000" stroke="none" stroke-width="0"/>
<circle cx="426.18" cy="108.83" r="1.0" fill="#000" stroke="none" stroke-width="0"/>
<circle cx="428.94" cy="109.42" r="1.0" fill="#000" stroke="none" stroke-width="0"/>
<circle cx="428.30" cy="111.87" r="1.0" fill="#000" stroke="none" stroke-width="0"/>
<circle cx="430.25" cy="108.41" r="1.0" fill="#000" stroke="none" stroke-width="0"/>
<circle cx="426.98" cy="111.44" r="1.0" fill="#000" stroke="none" stroke-width="0"/>
<circle cx="428.35" cy="105.52" r="1.0" fill="#000" stroke="none" stroke-width="0"/>
<circle cx="428.31" cy="110.76" r="1.0" fill="#000" stroke="none" stroke-width="0"/>
<circle cx="426.10" cy="108.14" r="1.0" fill="#000" stroke="none" stroke-width="0"/>
<circle cx="427.97" cy="109.64" r="1.0" fill="#000" stroke="none" stroke-width="0"/>
<circle cx="429.49" cy="107.55" r="1.0" fill="#000" stroke="none" stroke-width="0"/>
<circle cx="429.19" cy="110.98" r="1.0" fill="#000" stroke="none" stroke-width="0"/>
<circle cx="427.38" cy="107.45" r="1.0" fill="#000" stroke="none" stroke-width="0"/>
<circle cx="427.96" cy="109.92" r="1.0" fill="#000" stroke="none" stroke-width="0"/>
<circle cx="425.27" cy="106.86" r="1.0" fill="#000" stroke="none" stroke-width="0"/>
<circle cx="425.67" cy="108.27" r="1.0" fill="#000" stroke="none" stroke-width="0"/>
<circle cx="429.49" cy="109.34" r="1.0" fill="#000" stroke="none" stroke-width="0"/>
<circle cx="426.93" cy="111.37" r="1.0" fill="#000" stroke="none" stroke-width="0"/>
<circle cx="426.17" cy="102.00" r="1.0" fill="#000" stroke="none" stroke-width="0"/>
<circle cx="427.54" cy="102.88" r="1.0" fill="#000" stroke="none" stroke-width="0"/>
<circle cx="427.78" cy="99.43" r="1.0" fill="#000" stroke="none" stroke-width="0"/>
<circle cx="427.86" cy="105.37" r="1.0" fill="#000" stroke="none" stroke-width="0"/>
<circle cx="426.86" cy="102.63" r="1.0" fill="#000" stroke="none" stroke-width="0"/>
<circle cx="427.11" cy="102.77" r="1.0" fill="#000" stroke="none" stroke-width="0"/>
<circle cx="427.38" cy="103.43" r="1.0" fill="#000" stroke="none" stroke-width="0"/>
<circle cx="428.27" cy="103.65" r="1.0" fill="#000" stroke="none" stroke-width="0"/>
<circle cx="427.42" cy="103.72" r="1.0" fill="#000" stroke="none" stroke-width="0"/>
<circle cx="426.98" cy="106.02" r="1.0" fill="#000" stroke="none" stroke-width="0"/>
<circle cx="427.30" cy="107.24" r="1.0" fill="#000" stroke="none" stroke-width="0"/>
<circle cx="425.95" cy="105.43" r="1.0" fill="#000" stroke="none" stroke-width="0"/>
<circle cx="425.58" cy="102.52" r="1.0" fill="#000" stroke="none" stroke-width="0"/>
<circle cx="427.76" cy="99.82" r="1.0" fill="#000" stroke="none" stroke-width="0"/>
<circle cx="428.74" cy="101.39" r="1.0" fill="#000" stroke="none" stroke-width="0"/>
<circle cx="427.59" cy="101.16" r="1.0" fill="#000" stroke="none" stroke-width="0"/>
<circle cx="426.97" cy="101.97" r="1.0" fill="#000" stroke="none" stroke-width="0"/>
<circle cx="426.11" cy="102.21" r="1.0" fill="#000" stroke="none" stroke-width="0"/>
<circle cx="427.36" cy="103.72" r="1.0" fill="#000" stroke="none" stroke-width="0"/>
<circle cx="429.08" cy="101.99" r="1.0" fill="#000" stroke="none" stroke-width="0"/>
<circle cx="427.93" cy="99.05" r="1.0" fill="#000" stroke="none" stroke-width="0"/>
<circle cx="427.46" cy="105.22" r="1.0" fill="#000" stroke="none" stroke-width="0"/>
<circle cx="428.68" cy="106.30" r="1.0" fill="#000" stroke="none" stroke-width="0"/>
<circle cx="426.83" cy="98.50" r="1.0" fill="#000" stroke="none" stroke-width="0"/>
<circle cx="427.38" cy="98.85" r="1.0" fill="#000" stroke="none" stroke-width="0"/>
<circle cx="427.92" cy="97.10" r="1.0" fill="#000" stroke="none" stroke-width="0"/>
<circle cx="427.44" cy="95.09" r="1.0" fill="#000" stroke="none" stroke-width="0"/>
<circle cx="427.30" cy="93.71" r="1.0" fill="#000" stroke="none" stroke-width="0"/>
<circle cx="427.07" cy="92.65" r="1.0" fill="#000" stroke="none" stroke-width="0"/>
<circle cx="427.41" cy="90.24" r="1.0" fill="#000" stroke="none" stroke-width="0"/>
<circle cx="427.95" cy="89.39" r="1.0" fill="#000" stroke="none" stroke-width="0"/>
<circle cx="426.78" cy="87.78" r="1.0" fill="#000" stroke="none" stroke-width="0"/>
<circle cx="427.70" cy="85.71" r="1.0" fill="#000" stroke="none" stroke-width="0"/>
<circle cx="427.76" cy="84.56" r="1.0" fill="#000" stroke="none" stroke-width="0"/>
<circle cx="427.82" cy="83.01" r="1.0" fill="#000" stroke="none" stroke-width="0"/>
<circle cx="427.64" cy="81.65" r="1.0" fill="#000" stroke="none" stroke-width="0"/>
<circle cx="427.70" cy="80.06" r="1.0" fill="#000" stroke="none" stroke-width="0"/>
<circle cx="427.37" cy="78.02" r="1.0" fill="#000" stroke="none" stroke-width="0"/>
<circle cx="449.05" cy="109.53" r="1.0" fill="#000" stroke="none" stroke-width="0"/>
<circle cx="448.17" cy="106.99" r="1.0" fill="#000" stroke="none" stroke-width="0"/>
<circle cx="441.50" cy="111.14" r="1.0" fill="#000" stroke="none" stroke-width="0"/>
<circle cx="441.48" cy="108.10" r="1.0" fill="#000" stroke="none" stroke-width="0"/>
<circle cx="447.43" cy="107.47" r="1.0" fill="#000" stroke="none" stroke-width="0"/>
<circle cx="446.93" cy="110.22" r="1.0" fill="#000" stroke="none" stroke-width="0"/>
<circle cx="445.71" cy="113.16" r="1.0" fill="#000" stroke="none" stroke-width="0"/>
<circle cx="443.49" cy="111.43" r="1.0" fill="#000" stroke="none" stroke-width="0"/>
<circle cx="445.81" cy="109.19" r="1.0" fill="#000" stroke="none" stroke-width="0"/>
<circle cx="445.77" cy="108.62" r="1.0" fill="#000" stroke="none" stroke-width="0"/>
<circle cx="445.44" cy="106.62" r="1.0" fill="#000" stroke="none" stroke-width="0"/>
<circle cx="442.54" cy="111.62" r="1.0" fill="#000" stroke="none" stroke-width="0"/>
<circle cx="444.21" cy="109.65" r="1.0" fill="#000" stroke="none" stroke-width="0"/>
<circle cx="443.96" cy="108.38" r="1.0" fill="#000" stroke="none" stroke-width="0"/>
<circle cx="446.87" cy="109.96" r="1.0" fill="#000" stroke="none" stroke-width="0"/>
<circle cx="447.23" cy="114.29" r="1.0" fill="#000" stroke="none" stroke-width="0"/>
<circle cx="448.49" cy="108.07" r="1.0" fill="#000" stroke="none" stroke-width="0"/>
<circle cx="445.17" cy="105.12" r="1.0" fill="#000" stroke="none" stroke-width="0"/>
<circle cx="444.42" cy="107.68" r="1.0" fill="#000" stroke="none" stroke-width="0"/>
<circle cx="443.22" cy="111.45" r="1.0" fill="#000" stroke="none" stroke-width="0"/>
<circle cx="440.88" cy="110.46" r="1.0" fill="#000" stroke="none" stroke-width="0"/>
<circle cx="440.55" cy="109.22" r="1.0" fill="#000" stroke="none" stroke-width="0"/>
<circle cx="444.53" cy="109.97" r="1.0" fill="#000" stroke="none" stroke-width="0"/>
<circle cx="443.97" cy="88.47" r="1.0" fill="#000" stroke="none" stroke-width="0"/>
<circle cx="443.98" cy="105.33" r="1.0" fill="#000" stroke="none" stroke-width="0"/>
<circle cx="446.84" cy="94.48" r="1.0" fill="#000" stroke="none" stroke-width="0"/>
<circle cx="445.03" cy="104.89" r="1.0" fill="#000" stroke="none" stroke-width="0"/>
<circle cx="445.15" cy="91.70" r="1.0" fill="#000" stroke="none" stroke-width="0"/>
<circle cx="443.44" cy="96.99" r="1.0" fill="#000" stroke="none" stroke-width="0"/>
<circle cx="441.89" cy="104.05" r="1.0" fill="#000" stroke="none" stroke-width="0"/>
<circle cx="443.57" cy="106.79" r="1.0" fill="#000" stroke="none" stroke-width="0"/>
<circle cx="443.01" cy="94.11" r="1.0" fill="#000" stroke="none" stroke-width="0"/>
<circle cx="444.94" cy="109.27" r="1.0" fill="#000" stroke="none" stroke-width="0"/>
<circle cx="448.46" cy="105.56" r="1.0" fill="#000" stroke="none" stroke-width="0"/>
<circle cx="445.73" cy="97.86" r="1.0" fill="#000" stroke="none" stroke-width="0"/>
<circle cx="443.24" cy="91.04" r="1.0" fill="#000" stroke="none" stroke-width="0"/>
<circle cx="446.91" cy="96.58" r="1.0" fill="#000" stroke="none" stroke-width="0"/>
<circle cx="446.83" cy="104.35" r="1.0" fill="#000" stroke="none" stroke-width="0"/>
<circle cx="446.01" cy="89.52" r="1.0" fill="#000" stroke="none" stroke-width="0"/>
<circle cx="447.77" cy="106.13" r="1.0" fill="#000" stroke="none" stroke-width="0"/>
<circle cx="447.09" cy="110.49" r="1.0" fill="#000" stroke="none" stroke-width="0"/>
<circle cx="446.87" cy="104.61" r="1.0" fill="#000" stroke="none" stroke-width="0"/>
<circle cx="444.18" cy="100.50" r="1.0" fill="#000" stroke="none" stroke-width="0"/>
<circle cx="449.27" cy="109.47" r="1.0" fill="#000" stroke="none" stroke-width="0"/>
<circle cx="446.96" cy="76.58" r="1.0" fill="#000" stroke="none" stroke-width="0"/>
<circle cx="443.30" cy="57.71" r="1.0" fill="#000" stroke="none" stroke-width="0"/>
<circle cx="459.26" cy="108.95" r="1.0" fill="#000" stroke="none" stroke-width="0"/>
<circle cx="462.39" cy="108.00" r="1.0" fill="#000" stroke="none" stroke-width="0"/>
<circle cx="460.67" cy="110.95" r="1.0" fill="#000" stroke="none" stroke-width="0"/>
<circle cx="463.00" cy="110.41" r="1.0" fill="#000" stroke="none" stroke-width="0"/>
<circle cx="462.90" cy="112.90" r="1.0" fill="#000" stroke="none" stroke-width="0"/>
<circle cx="458.47" cy="106.36" r="1.0" fill="#000" stroke="none" stroke-width="0"/>
<circle cx="457.63" cy="106.69" r="1.0" fill="#000" stroke="none" stroke-width="0"/>
<circle cx="465.39" cy="110.29" r="1.0" fill="#000" stroke="none" stroke-width="0"/>
<circle cx="459.59" cy="110.95" r="1.0" fill="#000" stroke="none" stroke-width="0"/>
<circle cx="459.83" cy="112.62" r="1.0" fill="#000" stroke="none" stroke-width="0"/>
<circle cx="467.10" cy="109.52" r="1.0" fill="#000" stroke="none" stroke-width="0"/>
<circle cx="461.64" cy="109.44" r="1.0" fill="#000" stroke="none" stroke-width="0"/>
<circle cx="463.37" cy="105.08" r="1.0" fill="#000" stroke="none" stroke-width="0"/>
<circle cx="461.70" cy="109.35" r="1.0" fill="#000" stroke="none" stroke-width="0"/>
<circle cx="463.25" cy="111.61" r="1.0" fill="#000" stroke="none" stroke-width="0"/>
<circle cx="458.79" cy="106.79" r="1.0" fill="#000" stroke="none" stroke-width="0"/>
<circle cx="463.35" cy="109.48" r="1.0" fill="#000" stroke="none" stroke-width="0"/>
<circle cx="464.38" cy="113.44" r="1.0" fill="#000" stroke="none" stroke-width="0"/>
<circle cx="462.19" cy="109.50" r="1.0" fill="#000" stroke="none" stroke-width="0"/>
<circle cx="463.55" cy="113.44" r="1.0" fill="#000" stroke="none" stroke-width="0"/>
<circle cx="462.51" cy="102.22" r="1.0" fill="#000" stroke="none" stroke-width="0"/>
<circle cx="457.72" cy="107.43" r="1.0" fill="#000" stroke="none" stroke-width="0"/>
<circle cx="464.56" cy="108.63" r="1.0" fill="#000" stroke="none" stroke-width="0"/>
<circle cx="462.88" cy="110.28" r="1.0" fill="#000" stroke="none" stroke-width="0"/>
<circle cx="461.16" cy="114.61" r="1.0" fill="#000" stroke="none" stroke-width="0"/>
<circle cx="457.15" cy="110.17" r="1.0" fill="#000" stroke="none" stroke-width="0"/>
<circle cx="464.45" cy="113.32" r="1.0" fill="#000" stroke="none" stroke-width="0"/>
<circle cx="461.67" cy="108.58" r="1.0" fill="#000" stroke="none" stroke-width="0"/>
<circle cx="462.82" cy="114.61" r="1.0" fill="#000" stroke="none" stroke-width="0"/>
<circle cx="465.36" cy="111.90" r="1.0" fill="#000" stroke="none" stroke-width="0"/>
<circle cx="464.00" cy="107.21" r="1.0" fill="#000" stroke="none" stroke-width="0"/>
<circle cx="465.20" cy="106.27" r="1.0" fill="#000" stroke="none" stroke-width="0"/>
<circle cx="461.09" cy="112.50" r="1.0" fill="#000" stroke="none" stroke-width="0"/>
<circle cx="464.03" cy="113.28" r="1.0" fill="#000" stroke="none" stroke-width="0"/>
<circle cx="461.40" cy="107.96" r="1.0" fill="#000" stroke="none" stroke-width="0"/>
<circle cx="466.25" cy="108.01" r="1.0" fill="#000" stroke="none" stroke-width="0"/>
<circle cx="465.27" cy="112.07" r="1.0" fill="#000" stroke="none" stroke-width="0"/>
<circle cx="458.13" cy="111.43" r="1.0" fill="#000" stroke="none" stroke-width="0"/>
<circle cx="458.50" cy="111.43" r="1.0" fill="#000" stroke="none" stroke-width="0"/>
<circle cx="459.65" cy="112.52" r="1.0" fill="#000" stroke="none" stroke-width="0"/>
<circle cx="466.38" cy="111.39" r="1.0" fill="#000" stroke="none" stroke-width="0"/>
<circle cx="461.34" cy="107.14" r="1.0" fill="#000" stroke="none" stroke-width="0"/>
<circle cx="463.22" cy="108.37" r="1.0" fill="#000" stroke="none" stroke-width="0"/>
<circle cx="460.99" cy="105.36" r="1.0" fill="#000" stroke="none" stroke-width="0"/>
<circle cx="462.02" cy="110.09" r="1.0" fill="#000" stroke="none" stroke-width="0"/>
<circle cx="460.78" cy="110.19" r="1.0" fill="#000" stroke="none" stroke-width="0"/>
<circle cx="460.64" cy="112.06" r="1.0" fill="#000" stroke="none" stroke-width="0"/>
<circle cx="462.82" cy="110.17" r="1.0" fill="#000" stroke="none" stroke-width="0"/>
<circle cx="462.60" cy="112.79" r="1.0" fill="#000" stroke="none" stroke-width="0"/>
<circle cx="464.32" cy="113.81" r="1.0" fill="#000" stroke="none" stroke-width="0"/>
<circle cx="463.77" cy="108.36" r="1.0" fill="#000" stroke="none" stroke-width="0"/>
<circle cx="465.77" cy="106.72" r="1.0" fill="#000" stroke="none" stroke-width="0"/>
<circle cx="465.47" cy="108.05" r="1.0" fill="#000" stroke="none" stroke-width="0"/>
<circle cx="466.52" cy="106.96" r="1.0" fill="#000" stroke="none" stroke-width="0"/>
<circle cx="463.73" cy="109.34" r="1.0" fill="#000" stroke="none" stroke-width="0"/>
<circle cx="458.77" cy="111.48" r="1.0" fill="#000" stroke="none" stroke-width="0"/>
<circle cx="465.70" cy="109.70" r="1.0" fill="#000" stroke="none" stroke-width="0"/>
<circle cx="466.57" cy="110.72" r="1.0" fill="#000" stroke="none" stroke-width="0"/>
<circle cx="465.34" cy="112.35" r="1.0" fill="#000" stroke="none" stroke-width="0"/>
<circle cx="462.38" cy="113.63" r="1.0" fill="#000" stroke="none" stroke-width="0"/>
<circle cx="463.47" cy="113.16" r="1.0" fill="#000" stroke="none" stroke-width="0"/>
<circle cx="458.96" cy="109.91" r="1.0" fill="#000" stroke="none" stroke-width="0"/>
<circle cx="465.40" cy="109.56" r="1.0" fill="#000" stroke="none" stroke-width="0"/>
<circle cx="462.67" cy="110.94" r="1.0" fill="#000" stroke="none" stroke-width="0"/>
<circle cx="460.02" cy="106.74" r="1.0" fill="#000" stroke="none" stroke-width="0"/>
<circle cx="457.41" cy="109.50" r="1.0" fill="#000" stroke="none" stroke-width="0"/>
<circle cx="465.53" cy="108.61" r="1.0" fill="#000" stroke="none" stroke-width="0"/>
<circle cx="466.64" cy="107.21" r="1.0" fill="#000" stroke="none" stroke-width="0"/>
<circle cx="458.16" cy="111.70" r="1.0" fill="#000" stroke="none" stroke-width="0"/>
<circle cx="463.42" cy="114.24" r="1.0" fill="#000" stroke="none" stroke-width="0"/>
<circle cx="461.06" cy="108.24" r="1.0" fill="#000" stroke="none" stroke-width="0"/>
<circle cx="458.63" cy="111.41" r="1.0" fill="#000" stroke="none" stroke-width="0"/>
<circle cx="460.02" cy="107.00" r="1.0" fill="#000" stroke="none" stroke-width="0"/>
<circle cx="464.73" cy="109.15" r="1.0" fill="#000" stroke="none" stroke-width="0"/>
<circle cx="465.59" cy="107.68" r="1.0" fill="#000" stroke="none" stroke-width="0"/>
<circle cx="457.42" cy="108.21" r="1.0" fill="#000" stroke="none" stroke-width="0"/>
<circle cx="462.44" cy="114.48" r="1.0" fill="#000" stroke="none" stroke-width="0"/>
<circle cx="457.41" cy="108.31" r="1.0" fill="#000" stroke="none" stroke-width="0"/>
<circle cx="464.03" cy="111.38" r="1.0" fill="#000" stroke="none" stroke-width="0"/>
<circle cx="460.37" cy="111.56" r="1.0" fill="#000" stroke="none" stroke-width="0"/>
<circle cx="464.32" cy="105.82" r="1.0" fill="#000" stroke="none" stroke-width="0"/>
<circle cx="463.60" cy="102.87" r="1.0" fill="#000" stroke="none" stroke-width="0"/>
<circle cx="461.97" cy="102.58" r="1.0" fill="#000" stroke="none" stroke-width="0"/>
<circle cx="463.59" cy="102.27" r="1.0" fill="#000" stroke="none" stroke-width="0"/>
<circle cx="460.01" cy="108.82" r="1.0" fill="#000" stroke="none" stroke-width="0"/>
<circle cx="458.78" cy="106.20" r="1.0" fill="#000" stroke="none" stroke-width="0"/>
<circle cx="462.95" cy="110.57" r="1.0" fill="#000" stroke="none" stroke-width="0"/>
<circle cx="460.05" cy="105.00" r="1.0" fill="#000" stroke="none" stroke-width="0"/>
<circle cx="460.95" cy="103.28" r="1.0" fill="#000" stroke="none" stroke-width="0"/>
<circle cx="461.15" cy="106.62" r="1.0" fill="#000" stroke="none" stroke-width="0"/>
<circle cx="462.30" cy="104.15" r="1.0" fill="#000" stroke="none" stroke-width="0"/>
<circle cx="460.85" cy="104.18" r="1.0" fill="#000" stroke="none" stroke-width="0"/>
<circle cx="460.44" cy="102.28" r="1.0" fill="#000" stroke="none" stroke-width="0"/>
<circle cx="465.26" cy="106.76" r="1.0" fill="#000" stroke="none" stroke-width="0"/>
<circle cx="460.27" cy="106.78" r="1.0" fill="#000" stroke="none" stroke-width="0"/>
<circle cx="465.94" cy="106.62" r="1.0" fill="#000" stroke="none" stroke-width="0"/>
<circle cx="462.68" cy="100.67" r="1.0" fill="#000" stroke="none" stroke-width="0"/>
<circle cx="461.74" cy="99.69" r="1.0" fill="#000" stroke="none" stroke-width="0"/>
<circle cx="461.89" cy="98.57" r="1.0" fill="#000" stroke="none" stroke-width="0"/>
<circle cx="461.98" cy="97.17" r="1.0" fill="#000" stroke="none" stroke-width="0"/>
<circle cx="462.18" cy="94.99" r="1.0" fill="#000" stroke="none" stroke-width="0"/>
<circle cx="462.10" cy="94.27" r="1.0" fill="#000" stroke="none" stroke-width="0"/>
<circle cx="462.04" cy="92.25" r="1.0" fill="#000" stroke="none" stroke-width="0"/>
<circle cx="462.14" cy="90.93" r="1.0" fill="#000" stroke="none" stroke-width="0"/>
<circle cx="462.58" cy="89.71" r="1.0" fill="#000" stroke="none" stroke-width="0"/>
<circle cx="477.48" cy="102.54" r="1.0" fill="#000" stroke="none" stroke-width="0"/>
<circle cx="475.18" cy="107.54" r="1.0" fill="#000" stroke="none" stroke-width="0"/>
<circle cx="478.19" cy="108.25" r="1.0" fill="#000" stroke="none" stroke-width="0"/>
<circle cx="475.80" cy="105.56" r="1.0" fill="#000" stroke="none" stroke-width="0"/>
<circle cx="475.33" cy="105.25" r="1.0" fill="#000" stroke="none" stroke-width="0"/>
<circle cx="478.47" cy="102.23" r="1.0" fill="#000" stroke="none" stroke-width="0"/>
<circle cx="483.48" cy="106.83" r="1.0" fill="#000" stroke="none" stroke-width="0"/>
<circle cx="481.88" cy="107.56" r="1.0" fill="#000" stroke="none" stroke-width="0"/>
<circle cx="481.74" cy="106.07" r="1.0" fill="#000" stroke="none" stroke-width="0"/>
<circle cx="477.34" cy="103.73" r="1.0" fill="#000" stroke="none" stroke-width="0"/>
<circle cx="479.40" cy="106.49" r="1.0" fill="#000" stroke="none" stroke-width="0"/>
<circle cx="477.73" cy="111.60" r="1.0" fill="#000" stroke="none" stroke-width="0"/>
<circle cx="475.51" cy="106.32" r="1.0" fill="#000" stroke="none" stroke-width="0"/>
<circle cx="476.68" cy="110.69" r="1.0" fill="#000" stroke="none" stroke-width="0"/>
<circle cx="477.53" cy="112.10" r="1.0" fill="#000" stroke="none" stroke-width="0"/>
<circle cx="481.54" cy="103.38" r="1.0" fill="#000" stroke="none" stroke-width="0"/>
<circle cx="481.13" cy="108.84" r="1.0" fill="#000" stroke="none" stroke-width="0"/>
<circle cx="482.31" cy="106.65" r="1.0" fill="#000" stroke="none" stroke-width="0"/>
<circle cx="481.03" cy="104.52" r="1.0" fill="#000" stroke="none" stroke-width="0"/>
<circle cx="476.02" cy="107.50" r="1.0" fill="#000" stroke="none" stroke-width="0"/>
<circle cx="477.07" cy="107.30" r="1.0" fill="#000" stroke="none" stroke-width="0"/>
<circle cx="479.63" cy="112.27" r="1.0" fill="#000" stroke="none" stroke-width="0"/>
<circle cx="481.48" cy="106.88" r="1.0" fill="#000" stroke="none" stroke-width="0"/>
<circle cx="482.83" cy="106.68" r="1.0" fill="#000" stroke="none" stroke-width="0"/>
<circle cx="482.53" cy="105.57" r="1.0" fill="#000" stroke="none" stroke-width="0"/>
<circle cx="476.62" cy="110.26" r="1.0" fill="#000" stroke="none" stroke-width="0"/>
<circle cx="479.64" cy="103.94" r="1.0" fill="#000" stroke="none" stroke-width="0"/>
<circle cx="479.96" cy="111.72" r="1.0" fill="#000" stroke="none" stroke-width="0"/>
<circle cx="479.05" cy="108.21" r="1.0" fill="#000" stroke="none" stroke-width="0"/>
<circle cx="475.92" cy="107.58" r="1.0" fill="#000" stroke="none" stroke-width="0"/>
<circle cx="478.84" cy="110.63" r="1.0" fill="#000" stroke="none" stroke-width="0"/>
<circle cx="474.78" cy="106.02" r="1.0" fill="#000" stroke="none" stroke-width="0"/>
<circle cx="480.41" cy="113.87" r="1.0" fill="#000" stroke="none" stroke-width="0"/>
<circle cx="480.78" cy="101.86" r="1.0" fill="#000" stroke="none" stroke-width="0"/>
<circle cx="479.30" cy="104.13" r="1.0" fill="#000" stroke="none" stroke-width="0"/>
<circle cx="477.28" cy="107.96" r="1.0" fill="#000" stroke="none" stroke-width="0"/>
<circle cx="481.42" cy="109.22" r="1.0" fill="#000" stroke="none" stroke-width="0"/>
<circle cx="479.41" cy="111.64" r="1.0" fill="#000" stroke="none" stroke-width="0"/>
<circle cx="483.12" cy="106.50" r="1.0" fill="#000" stroke="none" stroke-width="0"/>
<circle cx="481.97" cy="105.28" r="1.0" fill="#000" stroke="none" stroke-width="0"/>
<circle cx="479.05" cy="109.22" r="1.0" fill="#000" stroke="none" stroke-width="0"/>
<circle cx="478.67" cy="113.18" r="1.0" fill="#000" stroke="none" stroke-width="0"/>
<circle cx="479.57" cy="110.22" r="1.0" fill="#000" stroke="none" stroke-width="0"/>
<circle cx="478.35" cy="105.64" r="1.0" fill="#000" stroke="none" stroke-width="0"/>
<circle cx="478.08" cy="114.45" r="1.0" fill="#000" stroke="none" stroke-width="0"/>
<circle cx="477.94" cy="111.85" r="1.0" fill="#000" stroke="none" stroke-width="0"/>
<circle cx="482.37" cy="106.73" r="1.0" fill="#000" stroke="none" stroke-width="0"/>
<circle cx="474.11" cy="106.37" r="1.0" fill="#000" stroke="none" stroke-width="0"/>
<circle cx="476.30" cy="103.17" r="1.0" fill="#000" stroke="none" stroke-width="0"/>
<circle cx="480.28" cy="105.94" r="1.0" fill="#000" stroke="none" stroke-width="0"/>
<circle cx="477.74" cy="111.52" r="1.0" fill="#000" stroke="none" stroke-width="0"/>
<circle cx="479.28" cy="108.10" r="1.0" fill="#000" stroke="none" stroke-width="0"/>
<circle cx="478.84" cy="109.68" r="1.0" fill="#000" stroke="none" stroke-width="0"/>
<circle cx="478.45" cy="101.02" r="1.0" fill="#000" stroke="none" stroke-width="0"/>
<circle cx="481.27" cy="112.54" r="1.0" fill="#000" stroke="none" stroke-width="0"/>
<circle cx="477.13" cy="104.08" r="1.0" fill="#000" stroke="none" stroke-width="0"/>
<circle cx="478.31" cy="108.21" r="1.0" fill="#000" stroke="none" stroke-width="0"/>
<circle cx="475.87" cy="107.04" r="1.0" fill="#000" stroke="none" stroke-width="0"/>
<circle cx="479.76" cy="110.19" r="1.0" fill="#000" stroke="none" stroke-width="0"/>
<circle cx="477.68" cy="102.81" r="1.0" fill="#000" stroke="none" stroke-width="0"/>
<circle cx="478.15" cy="110.79" r="1.0" fill="#000" stroke="none" stroke-width="0"/>
<circle cx="480.84" cy="108.40" r="1.0" fill="#000" stroke="none" stroke-width="0"/>
<circle cx="477.06" cy="106.69" r="1.0" fill="#000" stroke="none" stroke-width="0"/>
<circle cx="479.35" cy="111.15" r="1.0" fill="#000" stroke="none" stroke-width="0"/>
<circle cx="483.32" cy="106.34" r="1.0" fill="#000" stroke="none" stroke-width="0"/>
<circle cx="474.96" cy="107.30" r="1.0" fill="#000" stroke="none" stroke-width="0"/>
<circle cx="476.40" cy="111.07" r="1.0" fill="#000" stroke="none" stroke-width="0"/>
<circle cx="477.46" cy="102.42" r="1.0" fill="#000" stroke="none" stroke-width="0"/>
<circle cx="481.86" cy="106.74" r="1.0" fill="#000" stroke="none" stroke-width="0"/>
<circle cx="479.68" cy="102.84" r="1.0" fill="#000" stroke="none" stroke-width="0"/>
<circle cx="476.53" cy="105.62" r="1.0" fill="#000" stroke="none" stroke-width="0"/>
<circle cx="477.18" cy="106.45" r="1.0" fill="#000" stroke="none" stroke-width="0"/>
<circle cx="476.20" cy="105.34" r="1.0" fill="#000" stroke="none" stroke-width="0"/>
<circle cx="478.59" cy="107.31" r="1.0" fill="#000" stroke="none" stroke-width="0"/>
<circle cx="476.32" cy="109.26" r="1.0" fill="#000" stroke="none" stroke-width="0"/>
<circle cx="480.84" cy="105.58" r="1.0" fill="#000" stroke="none" stroke-width="0"/>
<circle cx="481.94" cy="104.84" r="1.0" fill="#000" stroke="none" stroke-width="0"/>
<circle cx="482.15" cy="108.62" r="1.0" fill="#000" stroke="none" stroke-width="0"/>
<circle cx="479.88" cy="113.24" r="1.0" fill="#000" stroke="none" stroke-width="0"/>
<circle cx="481.66" cy="110.33" r="1.0" fill="#000" stroke="none" stroke-width="0"/>
<circle cx="477.61" cy="114.28" r="1.0" fill="#000" stroke="none" stroke-width="0"/>
<circle cx="478.52" cy="114.86" r="1.0" fill="#000" stroke="none" stroke-width="0"/>
<circle cx="483.67" cy="107.36" r="1.0" fill="#000" stroke="none" stroke-width="0"/>
<circle cx="481.77" cy="105.91" r="1.0" fill="#000" stroke="none" stroke-width="0"/>
<circle cx="478.03" cy="106.62" r="1.0" fill="#000" stroke="none" stroke-width="0"/>
<circle cx="481.52" cy="110.09" r="1.0" fill="#000" stroke="none" stroke-width="0"/>
<circle cx="479.99" cy="108.10" r="1.0" fill="#000" stroke="none" stroke-width="0"/>
<circle cx="481.49" cy="108.25" r="1.0" fill="#000" stroke="none" stroke-width="0"/>
<circle cx="477.87" cy="111.85" r="1.0" fill="#000" stroke="none" stroke-width="0"/>
<circle cx="477.86" cy="113.30" r="1.0" fill="#000" stroke="none" stroke-width="0"/>
<circle cx="478.68" cy="102.48" r="1.0" fill="#000" stroke="none" stroke-width="0"/>
<circle cx="476.83" cy="103.78" r="1.0" fill="#000" stroke="none" stroke-width="0"/>
<circle cx="478.31" cy="102.59" r="1.0" fill="#000" stroke="none" stroke-width="0"/>
<circle cx="482.95" cy="105.28" r="1.0" fill="#000" stroke="none" stroke-width="0"/>
<circle cx="478.66" cy="98.60" r="1.0" fill="#000" stroke="none" stroke-width="0"/>
<circle cx="477.65" cy="100.45" r="1.0" fill="#000" stroke="none" stroke-width="0"/>
<circle cx="476.31" cy="102.79" r="1.0" fill="#000" stroke="none" stroke-width="0"/>
<circle cx="478.37" cy="98.00" r="1.0" fill="#000" stroke="none" stroke-width="0"/>
<circle cx="482.00" cy="107.00" r="1.0" fill="#000" stroke="none" stroke-width="0"/>
<circle cx="477.94" cy="104.97" r="1.0" fill="#000" stroke="none" stroke-width="0"/>
<circle cx="477.84" cy="102.29" r="1.0" fill="#000" stroke="none" stroke-width="0"/>
<circle cx="477.67" cy="100.89" r="1.0" fill="#000" stroke="none" stroke-width="0"/>
<circle cx="479.96" cy="98.92" r="1.0" fill="#000" stroke="none" stroke-width="0"/>
<circle cx="478.38" cy="105.15" r="1.0" fill="#000" stroke="none" stroke-width="0"/>
<circle cx="477.57" cy="101.88" r="1.0" fill="#000" stroke="none" stroke-width="0"/>
<circle cx="478.21" cy="95.44" r="1.0" fill="#000" stroke="none" stroke-width="0"/>
<circle cx="477.65" cy="100.69" r="1.0" fill="#000" stroke="none" stroke-width="0"/>
<circle cx="476.89" cy="104.28" r="1.0" fill="#000" stroke="none" stroke-width="0"/>
<circle cx="479.29" cy="96.81" r="1.0" fill="#000" stroke="none" stroke-width="0"/>
<circle cx="478.37" cy="95.46" r="1.0" fill="#000" stroke="none" stroke-width="0"/>
<circle cx="478.35" cy="93.94" r="1.0" fill="#000" stroke="none" stroke-width="0"/>
<circle cx="478.99" cy="92.17" r="1.0" fill="#000" stroke="none" stroke-width="0"/>
<circle cx="478.64" cy="91.18" r="1.0" fill="#000" stroke="none" stroke-width="0"/>
<circle cx="479.65" cy="89.15" r="1.0" fill="#000" stroke="none" stroke-width="0"/>
<circle cx="478.51" cy="87.68" r="1.0" fill="#000" stroke="none" stroke-width="0"/>
<circle cx="479.04" cy="85.58" r="1.0" fill="#000" stroke="none" stroke-width="0"/>
<circle cx="479.41" cy="84.03" r="1.0" fill="#000" stroke="none" stroke-width="0"/>
<circle cx="478.87" cy="83.07" r="1.0" fill="#000" stroke="none" stroke-width="0"/>
<circle cx="479.67" cy="81.29" r="1.0" fill="#000" stroke="none" stroke-width="0"/>
<circle cx="478.97" cy="80.04" r="1.0" fill="#000" stroke="none" stroke-width="0"/>
<circle cx="478.69" cy="78.16" r="1.0" fill="#000" stroke="none" stroke-width="0"/>
<line x1="422.00" y1="108.91" x2="432.70" y2="108.91" stroke="#000" stroke-width="1.8"/>
<line x1="439.40" y1="108.67" x2="450.30" y2="108.67" stroke="#000" stroke-width="1.8"/>
<line x1="456.60" y1="109.41" x2="467.30" y2="109.41" stroke="#000" stroke-width="1.8"/>
<line x1="473.30" y1="107.20" x2="484.70" y2="107.20" stroke="#000" stroke-width="1.8"/>
<line x1="426.80" y1="46.80" x2="460.80" y2="46.80" stroke="#9a9a9a" stroke-width="1.15"/>
<line x1="445.00" y1="52.70" x2="460.90" y2="52.70" stroke="#9a9a9a" stroke-width="1.15"/>
<line x1="463.00" y1="52.70" x2="478.90" y2="52.70" stroke="#9a9a9a" stroke-width="1.15"/>
<ellipse cx="443.90" cy="44.80" rx="1.15" ry="0.95" fill="#111"/>
<ellipse cx="452.80" cy="50.70" rx="1.15" ry="0.95" fill="#111"/>
<ellipse cx="470.40" cy="50.70" rx="1.15" ry="0.95" fill="#111"/>
<text x="551.60" y="23.80" font-size="9.5" text-anchor="middle" font-weight="normal" fill="#000" stroke="#000" stroke-width="0.15">Branched spine</text>
<text x="551.30" y="35.00" font-size="9.5" text-anchor="middle" font-weight="normal" fill="#000" stroke="#000" stroke-width="0.15">density</text>
<line x1="518.20" y1="42.80" x2="518.20" y2="117.20" stroke="#222" stroke-width="0.8"/>
<line x1="518.20" y1="117.20" x2="591.60" y2="117.20" stroke="#222" stroke-width="0.8"/>
<line x1="516.90" y1="43.00" x2="518.20" y2="43.00" stroke="#222" stroke-width="0.6"/>
<text x="516.80" y="45.00" font-size="5.6" text-anchor="end" font-weight="normal" fill="#000" stroke="#000" stroke-width="0.15">0.20</text>
<line x1="516.90" y1="61.50" x2="518.20" y2="61.50" stroke="#222" stroke-width="0.6"/>
<text x="516.80" y="63.50" font-size="5.6" text-anchor="end" font-weight="normal" fill="#000" stroke="#000" stroke-width="0.15">0.15</text>
<line x1="516.90" y1="80.00" x2="518.20" y2="80.00" stroke="#222" stroke-width="0.6"/>
<text x="516.80" y="82.00" font-size="5.6" text-anchor="end" font-weight="normal" fill="#000" stroke="#000" stroke-width="0.15">0.10</text>
<line x1="516.90" y1="98.50" x2="518.20" y2="98.50" stroke="#222" stroke-width="0.6"/>
<text x="516.80" y="100.50" font-size="5.6" text-anchor="end" font-weight="normal" fill="#000" stroke="#000" stroke-width="0.15">0.05</text>
<line x1="516.90" y1="117.00" x2="518.20" y2="117.00" stroke="#222" stroke-width="0.6"/>
<text x="516.80" y="119.00" font-size="5.6" text-anchor="end" font-weight="normal" fill="#000" stroke="#000" stroke-width="0.15">0.00</text>
<text x="502.50" y="80.20" font-size="7.5" text-anchor="middle" font-weight="normal" fill="#000" stroke="#000" stroke-width="0.15" transform="rotate(-90 502.5 80.2)">Density (n/µm)</text>
<rect x="523.80" y="106.70" width="11.10" height="10.50" fill="#d5d5d5" stroke="none" stroke-width="0"/>
<line x1="529.30" y1="103.20" x2="529.30" y2="110.50" stroke="#000" stroke-width="0.9"/>
<line x1="527.00" y1="103.20" x2="531.60" y2="103.20" stroke="#000" stroke-width="0.9"/>
<line x1="527.00" y1="110.50" x2="531.60" y2="110.50" stroke="#000" stroke-width="0.9"/>
<rect x="541.00" y="109.10" width="11.20" height="8.10" fill="#fcdfe2" stroke="none" stroke-width="0"/>
<line x1="546.50" y1="103.90" x2="546.50" y2="114.50" stroke="#000" stroke-width="0.9"/>
<line x1="544.20" y1="103.90" x2="548.80" y2="103.90" stroke="#000" stroke-width="0.9"/>
<line x1="544.20" y1="114.50" x2="548.80" y2="114.50" stroke="#000" stroke-width="0.9"/>
<rect x="557.80" y="107.00" width="11.10" height="10.20" fill="#7d7d7d" stroke="none" stroke-width="0"/>
<line x1="563.50" y1="101.30" x2="563.50" y2="112.70" stroke="#000" stroke-width="0.9"/>
<line x1="561.20" y1="101.30" x2="565.80" y2="101.30" stroke="#000" stroke-width="0.9"/>
<line x1="561.20" y1="112.70" x2="565.80" y2="112.70" stroke="#000" stroke-width="0.9"/>
<rect x="574.90" y="80.20" width="11.00" height="37.00" fill="#e5232a" stroke="none" stroke-width="0"/>
<line x1="580.50" y1="73.40" x2="580.50" y2="87.10" stroke="#000" stroke-width="0.9"/>
<line x1="578.20" y1="73.40" x2="582.80" y2="73.40" stroke="#000" stroke-width="0.9"/>
<line x1="578.20" y1="87.10" x2="582.80" y2="87.10" stroke="#000" stroke-width="0.9"/>
<circle cx="526.30" cy="100.20" r="0.95" fill="#000" stroke="none" stroke-width="0"/>
<circle cx="529.30" cy="100.60" r="0.95" fill="#000" stroke="none" stroke-width="0"/>
<circle cx="532.30" cy="100.20" r="0.95" fill="#000" stroke="none" stroke-width="0"/>
<circle cx="527.80" cy="116.80" r="0.95" fill="#000" stroke="none" stroke-width="0"/>
<circle cx="531.30" cy="116.80" r="0.95" fill="#000" stroke="none" stroke-width="0"/>
<circle cx="546.50" cy="93.20" r="0.95" fill="#000" stroke="none" stroke-width="0"/>
<circle cx="546.50" cy="100.60" r="0.95" fill="#000" stroke="none" stroke-width="0"/>
<circle cx="543.80" cy="116.80" r="0.95" fill="#000" stroke="none" stroke-width="0"/>
<circle cx="546.50" cy="116.80" r="0.95" fill="#000" stroke="none" stroke-width="0"/>
<circle cx="549.30" cy="116.80" r="0.95" fill="#000" stroke="none" stroke-width="0"/>
<circle cx="561.80" cy="96.80" r="0.95" fill="#000" stroke="none" stroke-width="0"/>
<circle cx="565.40" cy="96.80" r="0.95" fill="#000" stroke="none" stroke-width="0"/>
<circle cx="561.80" cy="116.80" r="0.95" fill="#000" stroke="none" stroke-width="0"/>
<circle cx="565.20" cy="116.80" r="0.95" fill="#000" stroke="none" stroke-width="0"/>
<circle cx="580.30" cy="62.70" r="0.95" fill="#000" stroke="none" stroke-width="0"/>
<circle cx="580.50" cy="82.00" r="0.95" fill="#000" stroke="none" stroke-width="0"/>
<circle cx="580.50" cy="95.40" r="0.95" fill="#000" stroke="none" stroke-width="0"/>
<line x1="529.60" y1="51.50" x2="580.40" y2="51.50" stroke="#444" stroke-width="1.0"/>
<line x1="546.20" y1="58.50" x2="580.40" y2="58.50" stroke="#444" stroke-width="1.0"/>
<ellipse cx="554.40" cy="49.00" rx="1.15" ry="0.95" fill="#111"/>
<ellipse cx="562.80" cy="55.90" rx="1.15" ry="0.95" fill="#111"/>
<text x="8.90" y="170.90" font-size="7.0" text-anchor="start" font-weight="normal" fill="#000" stroke="#000" stroke-width="0.15">Cont</text>
<text x="8.90" y="201.00" font-size="7.0" text-anchor="start" font-weight="normal" fill="#000" stroke="#000" stroke-width="0.15">cKD</text>
<line x1="41.56" y1="178.30" x2="41.86" y2="189.02" stroke="#444" stroke-width="0.55"/>
<line x1="41.86" y1="184.73" x2="42.46" y2="179.30" stroke="#444" stroke-width="0.45"/>
<line x1="68.13" y1="178.30" x2="68.43" y2="184.58" stroke="#666" stroke-width="0.55"/>
<line x1="68.43" y1="182.07" x2="69.03" y2="179.30" stroke="#666" stroke-width="0.45"/>
<line x1="52.22" y1="178.30" x2="52.52" y2="184.53" stroke="#444" stroke-width="0.55"/>
<line x1="52.52" y1="182.04" x2="53.12" y2="179.30" stroke="#444" stroke-width="0.45"/>
<line x1="17.68" y1="178.30" x2="17.98" y2="192.02" stroke="#333" stroke-width="0.55"/>
<line x1="37.85" y1="178.30" x2="38.15" y2="187.74" stroke="#666" stroke-width="0.55"/>
<line x1="52.83" y1="178.30" x2="53.13" y2="192.28" stroke="#333" stroke-width="0.55"/>
<line x1="53.13" y1="186.69" x2="53.73" y2="179.30" stroke="#333" stroke-width="0.45"/>
<line x1="24.25" y1="178.30" x2="24.55" y2="185.20" stroke="#333" stroke-width="0.55"/>
<line x1="33.24" y1="178.30" x2="33.54" y2="189.39" stroke="#555" stroke-width="0.55"/>
<line x1="53.96" y1="178.30" x2="54.26" y2="188.30" stroke="#333" stroke-width="0.55"/>
<line x1="54.26" y1="184.30" x2="54.86" y2="179.30" stroke="#333" stroke-width="0.45"/>
<line x1="30.06" y1="178.30" x2="30.36" y2="194.27" stroke="#333" stroke-width="0.55"/>
<line x1="32.51" y1="178.30" x2="32.81" y2="185.06" stroke="#777" stroke-width="0.55"/>
<line x1="32.81" y1="182.35" x2="33.41" y2="179.30" stroke="#777" stroke-width="0.45"/>
<line x1="48.87" y1="178.30" x2="49.17" y2="183.60" stroke="#333" stroke-width="0.55"/>
<line x1="37.21" y1="178.30" x2="37.51" y2="193.80" stroke="#333" stroke-width="0.55"/>
<line x1="37.51" y1="187.60" x2="38.11" y2="179.30" stroke="#333" stroke-width="0.45"/>
<line x1="72.88" y1="178.30" x2="73.18" y2="182.93" stroke="#444" stroke-width="0.55"/>
<line x1="37.93" y1="178.30" x2="38.23" y2="183.18" stroke="#555" stroke-width="0.55"/>
<line x1="29.51" y1="178.30" x2="29.81" y2="183.35" stroke="#777" stroke-width="0.55"/>
<line x1="29.81" y1="181.33" x2="30.41" y2="179.30" stroke="#777" stroke-width="0.45"/>
<line x1="38.76" y1="178.30" x2="39.06" y2="193.37" stroke="#555" stroke-width="0.55"/>
<line x1="39.06" y1="187.34" x2="39.66" y2="179.30" stroke="#555" stroke-width="0.45"/>
<line x1="18.37" y1="178.30" x2="18.67" y2="183.02" stroke="#444" stroke-width="0.55"/>
<line x1="18.67" y1="181.13" x2="19.27" y2="179.30" stroke="#444" stroke-width="0.45"/>
<line x1="48.61" y1="178.30" x2="48.91" y2="187.67" stroke="#555" stroke-width="0.55"/>
<line x1="62.49" y1="178.30" x2="62.79" y2="187.33" stroke="#444" stroke-width="0.55"/>
<line x1="62.79" y1="183.72" x2="63.39" y2="179.30" stroke="#444" stroke-width="0.45"/>
<line x1="39.47" y1="178.30" x2="39.77" y2="184.85" stroke="#777" stroke-width="0.55"/>
<line x1="76.04" y1="178.30" x2="76.34" y2="189.41" stroke="#333" stroke-width="0.55"/>
<line x1="76.34" y1="184.97" x2="76.94" y2="179.30" stroke="#333" stroke-width="0.45"/>
<line x1="37.72" y1="178.30" x2="38.02" y2="192.55" stroke="#666" stroke-width="0.55"/>
<line x1="38.02" y1="186.85" x2="38.62" y2="179.30" stroke="#666" stroke-width="0.45"/>
<line x1="76.99" y1="178.30" x2="77.29" y2="184.86" stroke="#777" stroke-width="0.55"/>
<line x1="77.29" y1="182.24" x2="77.89" y2="179.30" stroke="#777" stroke-width="0.45"/>
<line x1="51.98" y1="178.30" x2="52.28" y2="192.26" stroke="#444" stroke-width="0.55"/>
<line x1="52.28" y1="186.68" x2="52.88" y2="179.30" stroke="#444" stroke-width="0.45"/>
<line x1="17.65" y1="178.30" x2="17.95" y2="189.29" stroke="#555" stroke-width="0.55"/>
<line x1="17.95" y1="184.90" x2="18.55" y2="179.30" stroke="#555" stroke-width="0.45"/>
<line x1="36.03" y1="178.30" x2="36.33" y2="189.77" stroke="#555" stroke-width="0.55"/>
<line x1="43.63" y1="178.30" x2="43.93" y2="189.19" stroke="#444" stroke-width="0.55"/>
<line x1="43.93" y1="184.84" x2="44.53" y2="179.30" stroke="#444" stroke-width="0.45"/>
<line x1="21.87" y1="178.30" x2="22.17" y2="193.20" stroke="#666" stroke-width="0.55"/>
<line x1="22.17" y1="187.24" x2="22.77" y2="179.30" stroke="#666" stroke-width="0.45"/>
<line x1="24.23" y1="178.30" x2="24.53" y2="191.17" stroke="#666" stroke-width="0.55"/>
<line x1="24.53" y1="186.02" x2="25.13" y2="179.30" stroke="#666" stroke-width="0.45"/>
<line x1="74.41" y1="178.30" x2="74.71" y2="192.89" stroke="#666" stroke-width="0.55"/>
<line x1="74.71" y1="187.05" x2="75.31" y2="179.30" stroke="#666" stroke-width="0.45"/>
<line x1="14.83" y1="178.30" x2="15.13" y2="183.61" stroke="#666" stroke-width="0.55"/>
<line x1="27.43" y1="178.30" x2="27.73" y2="190.75" stroke="#777" stroke-width="0.55"/>
<line x1="27.73" y1="185.77" x2="28.33" y2="179.30" stroke="#777" stroke-width="0.45"/>
<line x1="71.42" y1="178.30" x2="71.72" y2="188.19" stroke="#666" stroke-width="0.55"/>
<line x1="71.72" y1="184.24" x2="72.32" y2="179.30" stroke="#666" stroke-width="0.45"/>
<line x1="59.24" y1="178.30" x2="59.54" y2="183.13" stroke="#555" stroke-width="0.55"/>
<line x1="59.54" y1="181.20" x2="60.14" y2="179.30" stroke="#555" stroke-width="0.45"/>
<line x1="54.83" y1="178.30" x2="55.13" y2="189.69" stroke="#333" stroke-width="0.55"/>
<line x1="55.13" y1="185.13" x2="55.73" y2="179.30" stroke="#333" stroke-width="0.45"/>
<line x1="72.25" y1="178.30" x2="72.55" y2="184.75" stroke="#333" stroke-width="0.55"/>
<line x1="72.55" y1="182.17" x2="73.15" y2="179.30" stroke="#333" stroke-width="0.45"/>
<line x1="38.85" y1="178.30" x2="39.15" y2="185.29" stroke="#333" stroke-width="0.55"/>
<line x1="39.15" y1="182.49" x2="39.75" y2="179.30" stroke="#333" stroke-width="0.45"/>
<path d="M10.70,177.86 L11.05,179.34 L11.40,177.31 L11.75,179.95 L12.10,176.89 L12.45,178.47 L12.80,176.53 L13.15,179.34 L13.50,176.53 L13.85,179.11 L14.20,175.81 L14.55,179.21 L14.90,176.48 L15.25,179.66 L15.60,176.52 L15.95,180.02 L16.30,176.91 L16.65,180.39 L17.00,177.61 L17.35,179.84 L17.70,177.26 L18.05,180.33 L18.40,177.16 L18.75,179.64 L19.10,177.07 L19.45,179.49 L19.80,176.31 L20.15,179.17 L20.50,177.15 L20.85,179.00 L21.20,176.01 L21.55,178.29 L21.90,176.44 L22.25,179.09 L22.60,176.89 L22.95,179.93 L23.30,177.04 L23.65,179.92 L24.00,177.35 L24.35,179.84 L24.70,177.65 L25.05,180.06 L25.40,177.18 L25.75,180.04 L26.10,177.57 L26.45,178.87 L26.80,177.08 L27.15,178.93 L27.50,176.57 L27.85,178.63 L28.20,177.48 L28.55,178.58 L28.90,176.64 L29.25,179.32 L29.60,177.55 L29.95,179.18 L30.30,177.54 L30.65,179.35 L31.00,177.77 L31.35,180.31 L31.70,177.19 L32.05,179.47 L32.40,177.58 L32.75,179.71 L33.10,177.44 L33.45,179.24 L33.80,176.93 L34.15,179.30 L34.50,176.58 L34.85,178.69 L35.20,176.19 L35.55,179.04 L35.90,176.27 L36.25,179.57 L36.60,177.04 L36.95,179.62 L37.30,177.93 L37.65,180.30 L38.00,177.19 L38.35,180.72 L38.70,177.08 L39.05,180.10 L39.40,177.18 L39.75,179.17 L40.10,177.28 L40.45,179.62 L40.80,177.64 L41.15,178.69 L41.50,176.99 L41.85,179.07 L42.20,177.12 L42.55,179.50 L42.90,176.89 L43.25,179.53 L43.60,177.49 L43.95,179.49 L44.30,177.25 L44.65,180.07 L45.00,177.45 L45.35,180.00 L45.70,176.98 L46.05,180.56 L46.40,177.48 L46.75,179.26 L47.10,177.23 L47.45,178.99 L47.80,176.80 L48.15,179.44 L48.50,176.81 L48.85,178.43 L49.20,177.06 L49.55,179.41 L49.90,176.67 L50.25,179.39 L50.60,176.65 L50.95,179.18 L51.30,177.56 L51.65,179.55 L52.00,178.04 L52.35,179.72 L52.70,177.77 L53.05,179.75 L53.40,176.95 L53.75,179.46 L54.10,177.55 L54.45,179.13 L54.80,176.99 L55.15,178.44 L55.50,176.61 L55.85,179.18 L56.20,176.76 L56.55,178.85 L56.90,176.73 L57.25,178.95 L57.60,176.48 L57.95,180.44 L58.30,177.75 L58.65,179.98 L59.00,178.33 L59.35,180.02 L59.70,178.04 L60.05,179.78 L60.40,177.93 L60.75,180.37 L61.10,177.63 L61.45,179.59 L61.80,176.45 L62.15,178.27 L62.50,177.28 L62.85,179.00 L63.20,176.93 L63.55,178.88 L63.90,176.53 L64.25,178.54 L64.60,176.60 L64.95,179.82 L65.30,177.52 L65.65,179.82 L66.00,178.36 L66.35,180.17 L66.70,177.83 L67.05,179.53 L67.40,177.86 L67.75,179.22 L68.10,176.90 L68.45,179.79 L68.80,177.03 L69.15,179.32 L69.50,176.16 L69.85,179.59 L70.20,176.54 L70.55,179.17 L70.90,176.54 L71.25,179.79 L71.60,177.43 L71.95,178.99 L72.30,177.22 L72.65,179.76 L73.00,177.33 L73.35,180.58 L73.70,177.92 L74.05,179.93 L74.40,177.87 L74.75,179.86 L75.10,177.10 L75.45,178.74 L75.80,176.41 L76.15,178.63 L76.50,176.98 L76.85,178.30 L77.20,176.23 L77.55,179.34 L77.90,177.11 L78.25,179.67 L78.60,177.77" stroke="#000" stroke-width="0.6" fill="none"/>
<line x1="43.63" y1="210.60" x2="43.93" y2="221.17" stroke="#777" stroke-width="0.55"/>
<line x1="43.93" y1="216.94" x2="44.53" y2="211.60" stroke="#777" stroke-width="0.45"/>
<line x1="13.21" y1="210.60" x2="13.51" y2="218.35" stroke="#777" stroke-width="0.55"/>
<line x1="42.69" y1="210.60" x2="42.99" y2="223.24" stroke="#555" stroke-width="0.55"/>
<line x1="55.88" y1="210.60" x2="56.18" y2="216.05" stroke="#444" stroke-width="0.55"/>
<line x1="56.18" y1="213.87" x2="56.78" y2="211.60" stroke="#444" stroke-width="0.45"/>
<line x1="34.78" y1="210.60" x2="35.08" y2="216.70" stroke="#666" stroke-width="0.55"/>
<line x1="17.39" y1="210.60" x2="17.69" y2="221.47" stroke="#777" stroke-width="0.55"/>
<line x1="64.84" y1="210.60" x2="65.14" y2="215.47" stroke="#333" stroke-width="0.55"/>
<line x1="55.93" y1="210.60" x2="56.23" y2="216.83" stroke="#444" stroke-width="0.55"/>
<line x1="19.88" y1="210.60" x2="20.18" y2="218.83" stroke="#555" stroke-width="0.55"/>
<line x1="70.36" y1="210.60" x2="70.66" y2="220.18" stroke="#333" stroke-width="0.55"/>
<line x1="45.78" y1="210.60" x2="46.08" y2="215.44" stroke="#666" stroke-width="0.55"/>
<line x1="46.08" y1="213.50" x2="46.68" y2="211.60" stroke="#666" stroke-width="0.45"/>
<line x1="51.60" y1="210.60" x2="51.90" y2="219.37" stroke="#444" stroke-width="0.55"/>
<line x1="54.53" y1="210.60" x2="54.83" y2="215.43" stroke="#555" stroke-width="0.55"/>
<line x1="56.03" y1="210.60" x2="56.33" y2="218.16" stroke="#777" stroke-width="0.55"/>
<line x1="37.79" y1="210.60" x2="38.09" y2="217.70" stroke="#777" stroke-width="0.55"/>
<line x1="38.09" y1="214.86" x2="38.69" y2="211.60" stroke="#777" stroke-width="0.45"/>
<line x1="36.33" y1="210.60" x2="36.63" y2="219.71" stroke="#666" stroke-width="0.55"/>
<line x1="36.63" y1="216.07" x2="37.23" y2="211.60" stroke="#666" stroke-width="0.45"/>
<line x1="37.49" y1="210.60" x2="37.79" y2="223.19" stroke="#333" stroke-width="0.55"/>
<line x1="27.07" y1="210.60" x2="27.37" y2="218.87" stroke="#444" stroke-width="0.55"/>
<line x1="27.37" y1="215.56" x2="27.97" y2="211.60" stroke="#444" stroke-width="0.45"/>
<line x1="52.34" y1="210.60" x2="52.64" y2="222.13" stroke="#555" stroke-width="0.55"/>
<line x1="52.64" y1="217.52" x2="53.24" y2="211.60" stroke="#555" stroke-width="0.45"/>
<line x1="58.15" y1="210.60" x2="58.45" y2="214.97" stroke="#777" stroke-width="0.55"/>
<line x1="58.45" y1="213.22" x2="59.05" y2="211.60" stroke="#777" stroke-width="0.45"/>
<line x1="52.00" y1="210.60" x2="52.30" y2="221.86" stroke="#666" stroke-width="0.55"/>
<line x1="52.30" y1="217.36" x2="52.90" y2="211.60" stroke="#666" stroke-width="0.45"/>
<line x1="26.20" y1="210.60" x2="26.50" y2="217.42" stroke="#444" stroke-width="0.55"/>
<line x1="68.62" y1="210.60" x2="68.92" y2="217.00" stroke="#555" stroke-width="0.55"/>
<line x1="68.92" y1="214.44" x2="69.52" y2="211.60" stroke="#555" stroke-width="0.45"/>
<line x1="48.50" y1="210.60" x2="48.80" y2="216.42" stroke="#555" stroke-width="0.55"/>
<line x1="12.94" y1="210.60" x2="13.24" y2="217.28" stroke="#777" stroke-width="0.55"/>
<line x1="13.24" y1="214.61" x2="13.84" y2="211.60" stroke="#777" stroke-width="0.45"/>
<line x1="64.65" y1="210.60" x2="64.95" y2="219.61" stroke="#555" stroke-width="0.55"/>
<line x1="77.04" y1="210.60" x2="77.34" y2="224.58" stroke="#666" stroke-width="0.55"/>
<line x1="77.34" y1="218.99" x2="77.94" y2="211.60" stroke="#666" stroke-width="0.45"/>
<line x1="73.34" y1="210.60" x2="73.64" y2="223.42" stroke="#777" stroke-width="0.55"/>
<line x1="27.56" y1="210.60" x2="27.86" y2="219.87" stroke="#444" stroke-width="0.55"/>
<line x1="27.86" y1="216.16" x2="28.46" y2="211.60" stroke="#444" stroke-width="0.45"/>
<line x1="35.71" y1="210.60" x2="36.01" y2="221.45" stroke="#444" stroke-width="0.55"/>
<line x1="23.14" y1="210.60" x2="23.44" y2="217.51" stroke="#333" stroke-width="0.55"/>
<line x1="23.44" y1="214.75" x2="24.04" y2="211.60" stroke="#333" stroke-width="0.45"/>
<line x1="74.42" y1="210.60" x2="74.72" y2="219.75" stroke="#444" stroke-width="0.55"/>
<line x1="26.54" y1="210.60" x2="26.84" y2="217.45" stroke="#777" stroke-width="0.55"/>
<line x1="26.84" y1="214.71" x2="27.44" y2="211.60" stroke="#777" stroke-width="0.45"/>
<line x1="12.74" y1="210.60" x2="13.04" y2="214.87" stroke="#666" stroke-width="0.55"/>
<line x1="40.07" y1="210.60" x2="40.37" y2="217.01" stroke="#444" stroke-width="0.55"/>
<line x1="40.37" y1="214.45" x2="40.97" y2="211.60" stroke="#444" stroke-width="0.45"/>
<line x1="16.36" y1="210.60" x2="16.66" y2="220.30" stroke="#777" stroke-width="0.55"/>
<line x1="39.90" y1="210.60" x2="40.20" y2="220.48" stroke="#444" stroke-width="0.55"/>
<line x1="50.56" y1="210.60" x2="50.86" y2="218.07" stroke="#777" stroke-width="0.55"/>
<line x1="37.76" y1="210.60" x2="38.06" y2="216.21" stroke="#555" stroke-width="0.55"/>
<line x1="64.83" y1="210.60" x2="65.13" y2="223.57" stroke="#444" stroke-width="0.55"/>
<line x1="64.27" y1="210.60" x2="64.57" y2="218.39" stroke="#333" stroke-width="0.55"/>
<line x1="24.89" y1="210.60" x2="25.19" y2="217.31" stroke="#666" stroke-width="0.55"/>
<line x1="25.19" y1="214.62" x2="25.79" y2="211.60" stroke="#666" stroke-width="0.45"/>
<line x1="52.59" y1="210.60" x2="52.89" y2="216.72" stroke="#666" stroke-width="0.55"/>
<line x1="38.36" y1="210.60" x2="38.66" y2="217.06" stroke="#444" stroke-width="0.55"/>
<line x1="38.66" y1="214.47" x2="39.26" y2="211.60" stroke="#444" stroke-width="0.45"/>
<line x1="17.90" y1="210.60" x2="18.20" y2="217.92" stroke="#333" stroke-width="0.55"/>
<line x1="32.88" y1="210.60" x2="33.18" y2="216.40" stroke="#444" stroke-width="0.55"/>
<line x1="33.18" y1="214.08" x2="33.78" y2="211.60" stroke="#444" stroke-width="0.45"/>
<line x1="14.45" y1="210.60" x2="14.75" y2="219.48" stroke="#444" stroke-width="0.55"/>
<line x1="14.75" y1="215.93" x2="15.35" y2="211.60" stroke="#444" stroke-width="0.45"/>
<line x1="16.22" y1="210.60" x2="16.52" y2="220.54" stroke="#444" stroke-width="0.55"/>
<line x1="16.52" y1="216.57" x2="17.12" y2="211.60" stroke="#444" stroke-width="0.45"/>
<line x1="33.98" y1="210.60" x2="34.28" y2="224.04" stroke="#333" stroke-width="0.55"/>
<line x1="36.54" y1="210.60" x2="36.84" y2="223.09" stroke="#444" stroke-width="0.55"/>
<line x1="36.84" y1="218.09" x2="37.44" y2="211.60" stroke="#444" stroke-width="0.45"/>
<line x1="46.38" y1="210.60" x2="46.68" y2="216.07" stroke="#777" stroke-width="0.55"/>
<line x1="46.68" y1="213.88" x2="47.28" y2="211.60" stroke="#777" stroke-width="0.45"/>
<line x1="42.98" y1="210.60" x2="43.28" y2="220.67" stroke="#555" stroke-width="0.55"/>
<line x1="43.28" y1="216.64" x2="43.88" y2="211.60" stroke="#555" stroke-width="0.45"/>
<line x1="64.02" y1="210.60" x2="64.32" y2="215.09" stroke="#555" stroke-width="0.55"/>
<line x1="64.32" y1="213.30" x2="64.92" y2="211.60" stroke="#555" stroke-width="0.45"/>
<line x1="58.35" y1="210.60" x2="58.65" y2="222.52" stroke="#666" stroke-width="0.55"/>
<line x1="56.01" y1="210.60" x2="56.31" y2="224.32" stroke="#666" stroke-width="0.55"/>
<line x1="32.97" y1="210.60" x2="33.27" y2="222.22" stroke="#333" stroke-width="0.55"/>
<line x1="33.27" y1="217.57" x2="33.87" y2="211.60" stroke="#333" stroke-width="0.45"/>
<line x1="45.29" y1="210.60" x2="45.59" y2="218.21" stroke="#777" stroke-width="0.55"/>
<line x1="45.59" y1="215.17" x2="46.19" y2="211.60" stroke="#777" stroke-width="0.45"/>
<line x1="43.80" y1="210.60" x2="44.10" y2="222.61" stroke="#555" stroke-width="0.55"/>
<line x1="44.10" y1="217.81" x2="44.70" y2="211.60" stroke="#555" stroke-width="0.45"/>
<line x1="15.51" y1="210.60" x2="15.81" y2="222.64" stroke="#777" stroke-width="0.55"/>
<line x1="15.81" y1="217.82" x2="16.41" y2="211.60" stroke="#777" stroke-width="0.45"/>
<line x1="53.66" y1="210.60" x2="53.96" y2="217.43" stroke="#666" stroke-width="0.55"/>
<line x1="53.96" y1="214.70" x2="54.56" y2="211.60" stroke="#666" stroke-width="0.45"/>
<line x1="20.76" y1="210.60" x2="21.06" y2="221.01" stroke="#666" stroke-width="0.55"/>
<line x1="37.32" y1="210.60" x2="37.62" y2="218.84" stroke="#777" stroke-width="0.55"/>
<line x1="37.62" y1="215.54" x2="38.22" y2="211.60" stroke="#777" stroke-width="0.45"/>
<line x1="62.93" y1="210.60" x2="63.23" y2="219.52" stroke="#444" stroke-width="0.55"/>
<line x1="24.49" y1="210.60" x2="24.79" y2="222.49" stroke="#777" stroke-width="0.55"/>
<line x1="24.79" y1="217.73" x2="25.39" y2="211.60" stroke="#777" stroke-width="0.45"/>
<line x1="30.07" y1="210.60" x2="30.37" y2="223.48" stroke="#777" stroke-width="0.55"/>
<line x1="72.53" y1="210.60" x2="72.83" y2="222.31" stroke="#777" stroke-width="0.55"/>
<line x1="26.36" y1="210.60" x2="26.66" y2="223.40" stroke="#333" stroke-width="0.55"/>
<line x1="15.29" y1="210.60" x2="15.59" y2="222.70" stroke="#555" stroke-width="0.55"/>
<line x1="15.59" y1="217.86" x2="16.19" y2="211.60" stroke="#555" stroke-width="0.45"/>
<line x1="59.46" y1="210.60" x2="59.76" y2="217.57" stroke="#555" stroke-width="0.55"/>
<line x1="63.24" y1="210.60" x2="63.54" y2="220.06" stroke="#333" stroke-width="0.55"/>
<line x1="19.21" y1="210.60" x2="19.51" y2="221.45" stroke="#666" stroke-width="0.55"/>
<line x1="19.51" y1="217.11" x2="20.11" y2="211.60" stroke="#666" stroke-width="0.45"/>
<line x1="18.94" y1="210.60" x2="19.24" y2="214.66" stroke="#555" stroke-width="0.55"/>
<line x1="45.65" y1="210.60" x2="45.95" y2="220.96" stroke="#444" stroke-width="0.55"/>
<line x1="45.95" y1="216.81" x2="46.55" y2="211.60" stroke="#444" stroke-width="0.45"/>
<line x1="67.63" y1="210.60" x2="67.93" y2="223.13" stroke="#666" stroke-width="0.55"/>
<line x1="67.93" y1="218.12" x2="68.53" y2="211.60" stroke="#666" stroke-width="0.45"/>
<line x1="67.93" y1="210.60" x2="68.23" y2="214.81" stroke="#555" stroke-width="0.55"/>
<line x1="68.23" y1="213.12" x2="68.83" y2="211.60" stroke="#555" stroke-width="0.45"/>
<line x1="68.62" y1="210.60" x2="68.92" y2="221.50" stroke="#444" stroke-width="0.55"/>
<line x1="75.65" y1="210.60" x2="75.95" y2="218.35" stroke="#333" stroke-width="0.55"/>
<line x1="20.98" y1="210.60" x2="21.28" y2="215.22" stroke="#333" stroke-width="0.55"/>
<line x1="21.28" y1="213.37" x2="21.88" y2="211.60" stroke="#333" stroke-width="0.45"/>
<line x1="65.36" y1="210.60" x2="65.66" y2="222.97" stroke="#555" stroke-width="0.55"/>
<line x1="65.66" y1="218.02" x2="66.26" y2="211.60" stroke="#555" stroke-width="0.45"/>
<line x1="57.54" y1="210.60" x2="57.84" y2="220.25" stroke="#333" stroke-width="0.55"/>
<line x1="51.01" y1="210.60" x2="51.31" y2="222.63" stroke="#555" stroke-width="0.55"/>
<line x1="51.31" y1="217.82" x2="51.91" y2="211.60" stroke="#555" stroke-width="0.45"/>
<line x1="34.59" y1="210.60" x2="34.89" y2="221.10" stroke="#777" stroke-width="0.55"/>
<line x1="38.13" y1="210.60" x2="38.43" y2="221.16" stroke="#777" stroke-width="0.55"/>
<line x1="77.23" y1="210.60" x2="77.53" y2="222.25" stroke="#777" stroke-width="0.55"/>
<line x1="77.53" y1="217.59" x2="78.13" y2="211.60" stroke="#777" stroke-width="0.45"/>
<line x1="20.53" y1="210.60" x2="20.83" y2="219.46" stroke="#555" stroke-width="0.55"/>
<line x1="13.32" y1="210.60" x2="13.62" y2="216.89" stroke="#444" stroke-width="0.55"/>
<line x1="13.62" y1="214.37" x2="14.22" y2="211.60" stroke="#444" stroke-width="0.45"/>
<line x1="34.81" y1="210.60" x2="35.11" y2="218.65" stroke="#777" stroke-width="0.55"/>
<line x1="35.11" y1="215.43" x2="35.71" y2="211.60" stroke="#777" stroke-width="0.45"/>
<line x1="37.53" y1="210.60" x2="37.83" y2="223.22" stroke="#444" stroke-width="0.55"/>
<line x1="37.83" y1="218.17" x2="38.43" y2="211.60" stroke="#444" stroke-width="0.45"/>
<line x1="70.85" y1="210.60" x2="71.15" y2="220.96" stroke="#666" stroke-width="0.55"/>
<line x1="71.15" y1="216.81" x2="71.75" y2="211.60" stroke="#666" stroke-width="0.45"/>
<line x1="27.62" y1="210.60" x2="27.92" y2="218.45" stroke="#666" stroke-width="0.55"/>
<line x1="67.50" y1="210.60" x2="67.80" y2="221.26" stroke="#444" stroke-width="0.55"/>
<line x1="29.04" y1="210.60" x2="29.34" y2="218.78" stroke="#333" stroke-width="0.55"/>
<line x1="29.34" y1="215.51" x2="29.94" y2="211.60" stroke="#333" stroke-width="0.45"/>
<line x1="51.00" y1="210.60" x2="51.30" y2="219.52" stroke="#777" stroke-width="0.55"/>
<line x1="51.59" y1="210.60" x2="51.89" y2="220.37" stroke="#444" stroke-width="0.55"/>
<line x1="51.89" y1="216.46" x2="52.49" y2="211.60" stroke="#444" stroke-width="0.45"/>
<line x1="37.06" y1="210.60" x2="37.36" y2="223.67" stroke="#777" stroke-width="0.55"/>
<line x1="51.75" y1="210.60" x2="52.05" y2="215.31" stroke="#666" stroke-width="0.55"/>
<line x1="52.05" y1="213.43" x2="52.65" y2="211.60" stroke="#666" stroke-width="0.45"/>
<line x1="25.95" y1="210.60" x2="26.25" y2="217.82" stroke="#777" stroke-width="0.55"/>
<line x1="68.81" y1="210.60" x2="69.11" y2="216.02" stroke="#777" stroke-width="0.55"/>
<line x1="69.11" y1="213.85" x2="69.71" y2="211.60" stroke="#777" stroke-width="0.45"/>
<line x1="55.64" y1="210.60" x2="55.94" y2="218.57" stroke="#666" stroke-width="0.55"/>
<line x1="55.94" y1="215.38" x2="56.54" y2="211.60" stroke="#666" stroke-width="0.45"/>
<line x1="47.75" y1="210.60" x2="48.05" y2="222.95" stroke="#666" stroke-width="0.55"/>
<line x1="48.05" y1="218.01" x2="48.65" y2="211.60" stroke="#666" stroke-width="0.45"/>
<line x1="28.91" y1="210.60" x2="29.21" y2="222.70" stroke="#333" stroke-width="0.55"/>
<line x1="23.76" y1="210.60" x2="24.06" y2="218.98" stroke="#777" stroke-width="0.55"/>
<line x1="24.06" y1="215.63" x2="24.66" y2="211.60" stroke="#777" stroke-width="0.45"/>
<line x1="57.62" y1="210.60" x2="57.92" y2="216.48" stroke="#777" stroke-width="0.55"/>
<line x1="54.30" y1="210.60" x2="54.60" y2="220.50" stroke="#444" stroke-width="0.55"/>
<line x1="32.84" y1="210.60" x2="33.14" y2="215.92" stroke="#444" stroke-width="0.55"/>
<line x1="33.14" y1="213.79" x2="33.74" y2="211.60" stroke="#444" stroke-width="0.45"/>
<line x1="43.03" y1="210.60" x2="43.33" y2="218.19" stroke="#555" stroke-width="0.55"/>
<line x1="43.33" y1="215.16" x2="43.93" y2="211.60" stroke="#555" stroke-width="0.45"/>
<line x1="47.01" y1="210.60" x2="47.31" y2="221.86" stroke="#666" stroke-width="0.55"/>
<line x1="59.45" y1="210.60" x2="59.75" y2="223.09" stroke="#777" stroke-width="0.55"/>
<line x1="59.75" y1="218.10" x2="60.35" y2="211.60" stroke="#777" stroke-width="0.45"/>
<line x1="32.61" y1="210.60" x2="32.91" y2="214.85" stroke="#777" stroke-width="0.55"/>
<line x1="32.91" y1="213.15" x2="33.51" y2="211.60" stroke="#777" stroke-width="0.45"/>
<line x1="75.95" y1="210.60" x2="76.25" y2="223.62" stroke="#555" stroke-width="0.55"/>
<line x1="46.63" y1="210.60" x2="46.93" y2="220.37" stroke="#555" stroke-width="0.55"/>
<line x1="46.93" y1="216.46" x2="47.53" y2="211.60" stroke="#555" stroke-width="0.45"/>
<line x1="39.65" y1="210.60" x2="39.95" y2="215.12" stroke="#333" stroke-width="0.55"/>
<line x1="39.95" y1="213.31" x2="40.55" y2="211.60" stroke="#333" stroke-width="0.45"/>
<line x1="47.34" y1="210.60" x2="47.64" y2="217.06" stroke="#555" stroke-width="0.55"/>
<line x1="47.64" y1="214.47" x2="48.24" y2="211.60" stroke="#555" stroke-width="0.45"/>
<line x1="67.07" y1="210.60" x2="67.37" y2="218.40" stroke="#444" stroke-width="0.55"/>
<line x1="67.37" y1="215.28" x2="67.97" y2="211.60" stroke="#444" stroke-width="0.45"/>
<line x1="18.61" y1="210.60" x2="18.91" y2="216.53" stroke="#555" stroke-width="0.55"/>
<line x1="18.91" y1="214.16" x2="19.51" y2="211.60" stroke="#555" stroke-width="0.45"/>
<line x1="47.19" y1="210.60" x2="47.49" y2="217.16" stroke="#666" stroke-width="0.55"/>
<line x1="64.02" y1="210.60" x2="64.32" y2="215.86" stroke="#555" stroke-width="0.55"/>
<line x1="48.69" y1="210.60" x2="48.99" y2="222.51" stroke="#777" stroke-width="0.55"/>
<line x1="48.99" y1="217.75" x2="49.59" y2="211.60" stroke="#777" stroke-width="0.45"/>
<line x1="48.34" y1="210.60" x2="48.64" y2="219.04" stroke="#444" stroke-width="0.55"/>
<line x1="24.66" y1="210.60" x2="24.96" y2="222.98" stroke="#333" stroke-width="0.55"/>
<line x1="24.96" y1="218.03" x2="25.56" y2="211.60" stroke="#333" stroke-width="0.45"/>
<line x1="13.91" y1="210.60" x2="14.21" y2="219.54" stroke="#777" stroke-width="0.55"/>
<line x1="18.07" y1="210.60" x2="18.37" y2="220.06" stroke="#666" stroke-width="0.55"/>
<line x1="18.37" y1="216.28" x2="18.97" y2="211.60" stroke="#666" stroke-width="0.45"/>
<line x1="64.23" y1="210.60" x2="64.53" y2="224.31" stroke="#666" stroke-width="0.55"/>
<line x1="64.53" y1="218.83" x2="65.13" y2="211.60" stroke="#666" stroke-width="0.45"/>
<line x1="13.03" y1="210.60" x2="13.33" y2="219.64" stroke="#444" stroke-width="0.55"/>
<line x1="14.10" y1="210.60" x2="14.40" y2="222.56" stroke="#666" stroke-width="0.55"/>
<line x1="30.67" y1="210.60" x2="30.97" y2="217.72" stroke="#777" stroke-width="0.55"/>
<line x1="30.97" y1="214.87" x2="31.57" y2="211.60" stroke="#777" stroke-width="0.45"/>
<line x1="64.95" y1="210.60" x2="65.25" y2="222.07" stroke="#666" stroke-width="0.55"/>
<line x1="65.25" y1="217.48" x2="65.85" y2="211.60" stroke="#666" stroke-width="0.45"/>
<line x1="57.08" y1="210.60" x2="57.38" y2="215.05" stroke="#777" stroke-width="0.55"/>
<line x1="36.33" y1="210.60" x2="36.63" y2="217.47" stroke="#333" stroke-width="0.55"/>
<line x1="66.63" y1="210.60" x2="66.93" y2="215.75" stroke="#555" stroke-width="0.55"/>
<line x1="66.93" y1="213.69" x2="67.53" y2="211.60" stroke="#555" stroke-width="0.45"/>
<path d="M11.50,209.75 L11.85,211.46 L12.20,208.98 L12.55,211.56 L12.90,207.96 L13.25,210.95 L13.60,208.81 L13.95,211.05 L14.30,209.78 L14.65,212.20 L15.00,209.01 L15.35,211.94 L15.70,209.41 L16.05,211.96 L16.40,210.25 L16.75,212.64 L17.10,210.42 L17.45,212.11 L17.80,209.11 L18.15,211.58 L18.50,208.87 L18.85,211.96 L19.20,208.20 L19.55,212.13 L19.90,207.92 L20.25,210.89 L20.60,209.19 L20.95,211.54 L21.30,208.29 L21.65,212.52 L22.00,208.97 L22.35,212.87 L22.70,209.85 L23.05,211.78 L23.40,209.16 L23.75,212.17 L24.10,210.32 L24.45,211.80 L24.80,209.44 L25.15,212.41 L25.50,208.65 L25.85,211.02 L26.20,209.11 L26.55,211.16 L26.90,208.75 L27.25,211.22 L27.60,208.56 L27.95,211.57 L28.30,208.96 L28.65,212.29 L29.00,210.08 L29.35,212.96 L29.70,210.44 L30.05,212.95 L30.40,209.04 L30.75,212.28 L31.10,209.10 L31.45,213.15 L31.80,209.38 L32.15,212.03 L32.50,209.34 L32.85,211.95 L33.20,208.78 L33.55,210.85 L33.90,208.82 L34.25,212.27 L34.60,208.50 L34.95,212.07 L35.30,209.61 L35.65,212.01 L36.00,209.11 L36.35,212.65 L36.70,209.36 L37.05,212.65 L37.40,210.16 L37.75,212.49 L38.10,208.61 L38.45,211.34 L38.80,208.88 L39.15,211.54 L39.50,208.47 L39.85,211.72 L40.20,209.51 L40.55,212.12 L40.90,208.80 L41.25,211.07 L41.60,208.96 L41.95,211.73 L42.30,208.72 L42.65,211.56 L43.00,209.39 L43.35,212.21 L43.70,209.83 L44.05,213.14 L44.40,209.27 L44.75,212.02 L45.10,208.98 L45.45,212.01 L45.80,208.79 L46.15,212.25 L46.50,209.11 L46.85,211.17 L47.20,208.86 L47.55,212.43 L47.90,208.24 L48.25,210.79 L48.60,208.94 L48.95,211.14 L49.30,209.10 L49.65,211.63 L50.00,209.85 L50.35,212.05 L50.70,209.04 L51.05,211.95 L51.40,209.77 L51.75,212.94 L52.10,209.00 L52.45,212.22 L52.80,209.32 L53.15,211.57 L53.50,208.76 L53.85,211.91 L54.20,209.33 L54.55,211.70 L54.90,209.47 L55.25,211.38 L55.60,207.98 L55.95,211.09 L56.30,209.43 L56.65,211.21 L57.00,209.47 L57.35,212.75 L57.70,210.22 L58.05,212.73 L58.40,209.14 L58.75,212.57 L59.10,209.00 L59.45,212.23 L59.80,209.26 L60.15,211.63 L60.50,209.16 L60.85,211.84 L61.20,209.56 L61.55,211.80 L61.90,208.77 L62.25,211.29 L62.60,208.12 L62.95,211.92 L63.30,209.17 L63.65,212.88 L64.00,209.03 L64.35,213.16 L64.70,209.12 L65.05,212.00 L65.40,209.62 L65.75,213.08 L66.10,208.88 L66.45,212.62 L66.80,209.30 L67.15,211.90 L67.50,208.84 L67.85,211.56 L68.20,208.56 L68.55,210.91 L68.90,209.59 L69.25,211.82 L69.60,209.79 L69.95,211.61 L70.30,208.59 L70.65,212.83 L71.00,210.06 L71.35,211.83 L71.70,210.28 L72.05,212.46 L72.40,210.12 L72.75,211.90 L73.10,210.22 L73.45,212.55 L73.80,208.41 L74.15,211.14 L74.50,209.80 L74.85,211.25 L75.20,208.30 L75.55,211.53 L75.90,208.74 L76.25,211.54 L76.60,209.61 L76.95,211.79 L77.30,208.60 L77.65,211.75 L78.00,209.67 L78.35,211.51 L78.70,209.55 L79.05,212.96" stroke="#000" stroke-width="0.6" fill="none"/>
<line x1="54.30" y1="233.60" x2="87.20" y2="233.60" stroke="#222" stroke-width="0.9"/>
<line x1="87.20" y1="220.90" x2="87.20" y2="233.60" stroke="#222" stroke-width="0.9"/>
<text x="71.30" y="240.60" font-size="7.2" text-anchor="middle" font-weight="normal" fill="#000" stroke="#000" stroke-width="0.15">10 s</text>
<text x="95.00" y="226.60" font-size="7.3" text-anchor="middle" font-weight="normal" fill="#000" stroke="#000" stroke-width="0.15" transform="rotate(-90 95.0 226.6)">5 pA</text>
<text x="167.90" y="163.80" font-size="8.6" text-anchor="middle" font-weight="normal" fill="#000" stroke="#000" stroke-width="0.15">IEI (%)</text>
<line x1="121.00" y1="180.00" x2="121.00" y2="236.60" stroke="#222" stroke-width="0.8"/>
<line x1="121.00" y1="236.60" x2="205.50" y2="236.60" stroke="#222" stroke-width="0.8"/>
<line x1="119.40" y1="180.90" x2="121.00" y2="180.90" stroke="#222" stroke-width="0.6"/>
<text x="119.80" y="183.40" font-size="7.0" text-anchor="end" font-weight="normal" fill="#000" stroke="#000" stroke-width="0.15">100</text>
<line x1="119.40" y1="208.45" x2="121.00" y2="208.45" stroke="#222" stroke-width="0.6"/>
<text x="119.80" y="210.95" font-size="7.0" text-anchor="end" font-weight="normal" fill="#000" stroke="#000" stroke-width="0.15">50</text>
<line x1="119.40" y1="236.00" x2="121.00" y2="236.00" stroke="#222" stroke-width="0.6"/>
<text x="119.80" y="238.50" font-size="7.0" text-anchor="end" font-weight="normal" fill="#000" stroke="#000" stroke-width="0.15">0</text>
<line x1="121.60" y1="236.60" x2="121.60" y2="238.20" stroke="#222" stroke-width="0.6"/>
<text x="121.60" y="244.60" font-size="7.0" text-anchor="middle" font-weight="normal" fill="#000" stroke="#000" stroke-width="0.15">0</text>
<line x1="142.40" y1="236.60" x2="142.40" y2="238.20" stroke="#222" stroke-width="0.6"/>
<text x="142.40" y="244.60" font-size="7.0" text-anchor="middle" font-weight="normal" fill="#000" stroke="#000" stroke-width="0.15">0.5</text>
<line x1="163.20" y1="236.60" x2="163.20" y2="238.20" stroke="#222" stroke-width="0.6"/>
<text x="163.20" y="244.60" font-size="7.0" text-anchor="middle" font-weight="normal" fill="#000" stroke="#000" stroke-width="0.15">1</text>
<line x1="184.00" y1="236.60" x2="184.00" y2="238.20" stroke="#222" stroke-width="0.6"/>
<text x="184.00" y="244.60" font-size="7.0" text-anchor="middle" font-weight="normal" fill="#000" stroke="#000" stroke-width="0.15">1.5</text>
<line x1="204.80" y1="236.60" x2="204.80" y2="238.20" stroke="#222" stroke-width="0.6"/>
<text x="204.80" y="244.60" font-size="7.0" text-anchor="middle" font-weight="normal" fill="#000" stroke="#000" stroke-width="0.15">2</text>
<text x="163.60" y="253.50" font-size="7.0" text-anchor="middle" font-weight="normal" fill="#000" stroke="#000" stroke-width="0.15">sec</text>
<path d="M121.60,236.00 L122.02,234.53 L122.43,233.10 L122.85,231.71 L123.26,230.35 L123.68,229.04 L124.10,227.75 L124.51,226.50 L124.93,225.29 L125.34,224.10 L125.76,222.95 L126.18,221.83 L126.59,220.74 L127.01,219.68 L127.42,218.64 L127.84,217.64 L128.26,216.66 L128.67,215.70 L129.09,214.77 L129.50,213.87 L129.92,212.99 L130.34,212.14 L130.75,211.30 L131.17,210.49 L131.58,209.70 L132.00,208.94 L132.42,208.19 L132.83,207.46 L133.25,206.75 L133.66,206.06 L134.08,205.39 L134.50,204.74 L134.91,204.10 L135.33,203.48 L135.74,202.88 L136.16,202.30 L136.58,201.73 L136.99,201.17 L137.41,200.63 L137.82,200.10 L138.24,199.59 L138.66,199.09 L139.07,198.61 L139.49,198.14 L139.90,197.68 L140.32,197.23 L140.74,196.79 L141.15,196.37 L141.57,195.96 L141.98,195.56 L142.40,195.16 L142.82,194.78 L143.23,194.41 L143.65,194.05 L144.06,193.70 L144.48,193.36 L144.90,193.03 L145.31,192.71 L145.73,192.39 L146.14,192.08 L146.56,191.79 L146.98,191.50 L147.39,191.21 L147.81,190.94 L148.22,190.67 L148.64,190.41 L149.06,190.16 L149.47,189.91 L149.89,189.67 L150.30,189.44 L150.72,189.21 L151.14,188.99 L151.55,188.77 L151.97,188.56 L152.38,188.36 L152.80,188.16 L153.22,187.96 L153.63,187.78 L154.05,187.59 L154.46,187.41 L154.88,187.24 L155.30,187.07 L155.71,186.91 L156.13,186.75 L156.54,186.59 L156.96,186.44 L157.38,186.29 L157.79,186.15 L158.21,186.01 L158.62,185.87 L159.04,185.74 L159.46,185.61 L159.87,185.48 L160.29,185.36 L160.70,185.24 L161.12,185.13 L161.54,185.01 L161.95,184.90 L162.37,184.80 L162.78,184.69 L163.20,184.59 L163.62,184.49 L164.03,184.40 L164.45,184.31 L164.86,184.21 L165.28,184.13 L165.70,184.04 L166.11,183.96 L166.53,183.87 L166.94,183.80 L167.36,183.72 L167.78,183.64 L168.19,183.57 L168.61,183.50 L169.02,183.43 L169.44,183.36 L169.86,183.30 L170.27,183.23 L170.69,183.17 L171.10,183.11 L171.52,183.05 L171.94,182.99 L172.35,182.94 L172.77,182.88 L173.18,182.83 L173.60,182.78 L174.02,182.73 L174.43,182.68 L174.85,182.63 L175.26,182.59 L175.68,182.54 L176.10,182.50 L176.51,182.46 L176.93,182.41 L177.34,182.37 L177.76,182.33 L178.18,182.30 L178.59,182.26 L179.01,182.22 L179.42,182.19 L179.84,182.15 L180.26,182.12 L180.67,182.09 L181.09,182.06 L181.50,182.02 L181.92,181.99 L182.34,181.97 L182.75,181.94 L183.17,181.91 L183.58,181.88 L184.00,181.86 L184.42,181.83 L184.83,181.81 L185.25,181.78 L185.66,181.76 L186.08,181.74 L186.50,181.71 L186.91,181.69 L187.33,181.67 L187.74,181.65 L188.16,181.63 L188.58,181.61 L188.99,181.59 L189.41,181.57 L189.82,181.55 L190.24,181.54 L190.66,181.52 L191.07,181.50 L191.49,181.49 L191.90,181.47 L192.32,181.46 L192.74,181.44 L193.15,181.43 L193.57,181.41 L193.98,181.40 L194.40,181.39 L194.82,181.37 L195.23,181.36 L195.65,181.35 L196.06,181.34 L196.48,181.32 L196.90,181.31 L197.31,181.30 L197.73,181.29 L198.14,181.28 L198.56,181.27 L198.98,181.26 L199.39,181.25 L199.81,181.24 L200.22,181.23 L200.64,181.22 L201.06,181.22 L201.47,181.21 L201.89,181.20 L202.30,181.19 L202.72,181.18 L203.14,181.18 L203.55,181.17 L203.97,181.16 L204.38,181.15 L204.80,181.15 L205.22,181.14 L205.63,181.13 L206.05,181.13" stroke="#000" stroke-width="1.9" fill="none"/>
<path d="M121.60,236.00 L122.02,232.52 L122.43,229.28 L122.85,226.27 L123.26,223.48 L123.68,220.88 L124.10,218.46 L124.51,216.21 L124.93,214.11 L125.34,212.16 L125.76,210.35 L126.18,208.66" stroke="#e5232a" stroke-width="1.4" fill="none" stroke-dasharray="1.0,0.9"/>
<path d="M126.18,208.66 L126.59,207.08 L127.01,205.61 L127.42,204.24 L127.84,202.97 L128.26,201.78 L128.67,200.66 L129.09,199.63 L129.50,198.66 L129.92,197.75 L130.34,196.90 L130.75,196.11 L131.17,195.37 L131.58,194.68 L132.00,194.03 L132.42,193.42 L132.83,192.85 L133.25,192.31 L133.66,191.81 L134.08,191.33 L134.50,190.89 L134.91,190.47 L135.33,190.08 L135.74,189.71 L136.16,189.36 L136.58,189.03 L136.99,188.72 L137.41,188.42 L137.82,188.15 L138.24,187.88 L138.66,187.64 L139.07,187.40 L139.49,187.18 L139.90,186.96 L140.32,186.76 L140.74,186.57 L141.15,186.39 L141.57,186.22 L141.98,186.05 L142.40,185.90 L142.82,185.75 L143.23,185.60 L143.65,185.47 L144.06,185.33 L144.48,185.21 L144.90,185.09 L145.31,184.97 L145.73,184.86 L146.14,184.76 L146.56,184.66 L146.98,184.56 L147.39,184.46 L147.81,184.37 L148.22,184.28 L148.64,184.20 L149.06,184.12 L149.47,184.04 L149.89,183.96 L150.30,183.89 L150.72,183.82 L151.14,183.75 L151.55,183.68 L151.97,183.62 L152.38,183.56 L152.80,183.50 L153.22,183.44 L153.63,183.38 L154.05,183.32 L154.46,183.27 L154.88,183.22 L155.30,183.17 L155.71,183.12 L156.13,183.07 L156.54,183.02 L156.96,182.98 L157.38,182.93 L157.79,182.89 L158.21,182.85 L158.62,182.81 L159.04,182.77 L159.46,182.73 L159.87,182.69 L160.29,182.65 L160.70,182.61 L161.12,182.58 L161.54,182.54 L161.95,182.51 L162.37,182.48 L162.78,182.44 L163.20,182.41 L163.62,182.38 L164.03,182.35 L164.45,182.32 L164.86,182.29 L165.28,182.26 L165.70,182.24 L166.11,182.21 L166.53,182.18 L166.94,182.16 L167.36,182.13 L167.78,182.11 L168.19,182.08 L168.61,182.06 L169.02,182.03 L169.44,182.01 L169.86,181.99 L170.27,181.97 L170.69,181.95 L171.10,181.92 L171.52,181.90 L171.94,181.88 L172.35,181.86 L172.77,181.84 L173.18,181.83 L173.60,181.81 L174.02,181.79 L174.43,181.77 L174.85,181.75 L175.26,181.74 L175.68,181.72 L176.10,181.70 L176.51,181.69 L176.93,181.67 L177.34,181.66 L177.76,181.64 L178.18,181.63 L178.59,181.61 L179.01,181.60 L179.42,181.58 L179.84,181.57 L180.26,181.56 L180.67,181.54 L181.09,181.53 L181.50,181.52 L181.92,181.51 L182.34,181.49 L182.75,181.48 L183.17,181.47 L183.58,181.46 L184.00,181.45 L184.42,181.44 L184.83,181.43 L185.25,181.42 L185.66,181.41 L186.08,181.40 L186.50,181.39 L186.91,181.38 L187.33,181.37 L187.74,181.36 L188.16,181.35 L188.58,181.34 L188.99,181.33 L189.41,181.32 L189.82,181.31 L190.24,181.31 L190.66,181.30 L191.07,181.29 L191.49,181.28 L191.90,181.28 L192.32,181.27 L192.74,181.26 L193.15,181.25 L193.57,181.25 L193.98,181.24 L194.40,181.23 L194.82,181.23 L195.23,181.22 L195.65,181.21 L196.06,181.21 L196.48,181.20 L196.90,181.20 L197.31,181.19 L197.73,181.18 L198.14,181.18 L198.56,181.17 L198.98,181.17 L199.39,181.16 L199.81,181.16 L200.22,181.15 L200.64,181.15 L201.06,181.14 L201.47,181.14 L201.89,181.13 L202.30,181.13 L202.72,181.12 L203.14,181.12 L203.55,181.11 L203.97,181.11 L204.38,181.11 L204.80,181.10 L205.22,181.10 L205.63,181.09 L206.05,181.09" stroke="#e5232a" stroke-width="1.6" fill="none"/>
<rect x="135.60" y="213.30" width="24.50" height="18.20" fill="#fff" stroke="#333" stroke-width="0.75"/>
<circle cx="139.20" cy="217.90" r="1.9" fill="#000" stroke="none" stroke-width="0"/>
<text x="142.90" y="220.30" font-size="7.1" text-anchor="start" font-weight="normal" fill="#000" stroke="#000" stroke-width="0.15">Cont</text>
<circle cx="139.20" cy="226.80" r="1.9" fill="#e5232a" stroke="none" stroke-width="0"/>
<text x="142.90" y="228.90" font-size="7.1" text-anchor="start" font-weight="normal" fill="#000" stroke="#000" stroke-width="0.15">cKD</text>
<text x="239.70" y="159.10" font-size="7.2" text-anchor="middle" font-weight="normal" fill="#000" stroke="#000" stroke-width="0.15">mEPSC Freq</text>
<text x="239.20" y="167.30" font-size="7.2" text-anchor="middle" font-weight="normal" fill="#000" stroke="#000" stroke-width="0.15">(Hz)</text>
<line x1="222.90" y1="179.60" x2="222.90" y2="235.20" stroke="#222" stroke-width="0.8"/>
<line x1="222.90" y1="235.20" x2="259.40" y2="235.20" stroke="#222" stroke-width="0.8"/>
<line x1="221.30" y1="179.70" x2="222.90" y2="179.70" stroke="#222" stroke-width="0.6"/>
<text x="221.10" y="181.90" font-size="6.6" text-anchor="end" font-weight="normal" fill="#000" stroke="#000" stroke-width="0.15">15</text>
<line x1="221.30" y1="198.20" x2="222.90" y2="198.20" stroke="#222" stroke-width="0.6"/>
<text x="221.10" y="200.40" font-size="6.6" text-anchor="end" font-weight="normal" fill="#000" stroke="#000" stroke-width="0.15">10</text>
<line x1="221.30" y1="216.70" x2="222.90" y2="216.70" stroke="#222" stroke-width="0.6"/>
<text x="221.10" y="218.90" font-size="6.6" text-anchor="end" font-weight="normal" fill="#000" stroke="#000" stroke-width="0.15">5</text>
<line x1="221.30" y1="235.20" x2="222.90" y2="235.20" stroke="#222" stroke-width="0.6"/>
<text x="221.10" y="237.40" font-size="6.6" text-anchor="end" font-weight="normal" fill="#000" stroke="#000" stroke-width="0.15">0</text>
<rect x="224.00" y="227.43" width="7.40" height="7.77" fill="#d5d5d5" stroke="none" stroke-width="0"/>
<rect x="232.20" y="226.69" width="7.20" height="8.51" fill="#fcdfe2" stroke="none" stroke-width="0"/>
<rect x="240.50" y="225.58" width="7.30" height="9.62" fill="#7d7d7d" stroke="none" stroke-width="0"/>
<rect x="250.90" y="215.22" width="7.50" height="19.98" fill="#e5232a" stroke="none" stroke-width="0"/>
<circle cx="228.17" cy="232.98" r="0.85" fill="#000" stroke="none" stroke-width="0"/>
<circle cx="228.62" cy="232.24" r="0.85" fill="#000" stroke="none" stroke-width="0"/>
<circle cx="228.82" cy="231.87" r="0.85" fill="#000" stroke="none" stroke-width="0"/>
<circle cx="229.38" cy="231.50" r="0.85" fill="#000" stroke="none" stroke-width="0"/>
<circle cx="228.61" cy="231.13" r="0.85" fill="#000" stroke="none" stroke-width="0"/>
<circle cx="229.30" cy="230.76" r="0.85" fill="#000" stroke="none" stroke-width="0"/>
<circle cx="225.91" cy="230.39" r="0.85" fill="#000" stroke="none" stroke-width="0"/>
<circle cx="227.57" cy="230.02" r="0.85" fill="#000" stroke="none" stroke-width="0"/>
<circle cx="229.38" cy="229.65" r="0.85" fill="#000" stroke="none" stroke-width="0"/>
<circle cx="228.27" cy="229.28" r="0.85" fill="#000" stroke="none" stroke-width="0"/>
<circle cx="229.22" cy="228.91" r="0.85" fill="#000" stroke="none" stroke-width="0"/>
<circle cx="226.23" cy="228.54" r="0.85" fill="#000" stroke="none" stroke-width="0"/>
<circle cx="227.58" cy="228.17" r="0.85" fill="#000" stroke="none" stroke-width="0"/>
<circle cx="226.74" cy="227.80" r="0.85" fill="#000" stroke="none" stroke-width="0"/>
<circle cx="227.87" cy="227.43" r="0.85" fill="#000" stroke="none" stroke-width="0"/>
<circle cx="227.98" cy="227.06" r="0.85" fill="#000" stroke="none" stroke-width="0"/>
<circle cx="225.85" cy="226.32" r="0.85" fill="#000" stroke="none" stroke-width="0"/>
<circle cx="226.62" cy="225.58" r="0.85" fill="#000" stroke="none" stroke-width="0"/>
<circle cx="226.86" cy="224.84" r="0.85" fill="#000" stroke="none" stroke-width="0"/>
<circle cx="229.28" cy="224.10" r="0.85" fill="#000" stroke="none" stroke-width="0"/>
<circle cx="228.71" cy="222.99" r="0.85" fill="#000" stroke="none" stroke-width="0"/>
<circle cx="226.41" cy="221.88" r="0.85" fill="#000" stroke="none" stroke-width="0"/>
<circle cx="228.83" cy="220.40" r="0.85" fill="#000" stroke="none" stroke-width="0"/>
<circle cx="226.33" cy="215.96" r="0.85" fill="#000" stroke="none" stroke-width="0"/>
<line x1="227.70" y1="225.58" x2="227.70" y2="229.28" stroke="#000" stroke-width="1.0"/>
<line x1="225.30" y1="227.43" x2="230.10" y2="227.43" stroke="#000" stroke-width="1.1"/>
<line x1="226.10" y1="225.58" x2="229.30" y2="225.58" stroke="#000" stroke-width="0.9"/>
<circle cx="236.25" cy="233.35" r="0.85" fill="#000" stroke="none" stroke-width="0"/>
<circle cx="234.38" cy="232.24" r="0.85" fill="#000" stroke="none" stroke-width="0"/>
<circle cx="233.91" cy="231.50" r="0.85" fill="#000" stroke="none" stroke-width="0"/>
<circle cx="237.21" cy="230.76" r="0.85" fill="#000" stroke="none" stroke-width="0"/>
<circle cx="234.70" cy="229.65" r="0.85" fill="#000" stroke="none" stroke-width="0"/>
<circle cx="234.72" cy="228.91" r="0.85" fill="#000" stroke="none" stroke-width="0"/>
<circle cx="237.63" cy="228.17" r="0.85" fill="#000" stroke="none" stroke-width="0"/>
<circle cx="237.22" cy="227.80" r="0.85" fill="#000" stroke="none" stroke-width="0"/>
<circle cx="235.00" cy="227.06" r="0.85" fill="#000" stroke="none" stroke-width="0"/>
<circle cx="237.55" cy="226.32" r="0.85" fill="#000" stroke="none" stroke-width="0"/>
<circle cx="235.95" cy="225.58" r="0.85" fill="#000" stroke="none" stroke-width="0"/>
<circle cx="236.48" cy="224.84" r="0.85" fill="#000" stroke="none" stroke-width="0"/>
<circle cx="234.68" cy="224.10" r="0.85" fill="#000" stroke="none" stroke-width="0"/>
<circle cx="237.48" cy="223.36" r="0.85" fill="#000" stroke="none" stroke-width="0"/>
<circle cx="236.52" cy="222.25" r="0.85" fill="#000" stroke="none" stroke-width="0"/>
<circle cx="237.57" cy="221.14" r="0.85" fill="#000" stroke="none" stroke-width="0"/>
<circle cx="237.30" cy="220.40" r="0.85" fill="#000" stroke="none" stroke-width="0"/>
<line x1="235.80" y1="224.84" x2="235.80" y2="228.54" stroke="#000" stroke-width="1.0"/>
<line x1="233.40" y1="226.69" x2="238.20" y2="226.69" stroke="#000" stroke-width="1.1"/>
<line x1="234.20" y1="224.84" x2="237.40" y2="224.84" stroke="#000" stroke-width="0.9"/>
<circle cx="243.39" cy="231.87" r="0.85" fill="#000" stroke="none" stroke-width="0"/>
<circle cx="243.62" cy="230.76" r="0.85" fill="#000" stroke="none" stroke-width="0"/>
<circle cx="242.88" cy="229.65" r="0.85" fill="#000" stroke="none" stroke-width="0"/>
<circle cx="242.80" cy="228.91" r="0.85" fill="#000" stroke="none" stroke-width="0"/>
<circle cx="242.50" cy="228.17" r="0.85" fill="#000" stroke="none" stroke-width="0"/>
<circle cx="243.40" cy="227.43" r="0.85" fill="#000" stroke="none" stroke-width="0"/>
<circle cx="244.54" cy="226.69" r="0.85" fill="#000" stroke="none" stroke-width="0"/>
<circle cx="242.26" cy="225.95" r="0.85" fill="#000" stroke="none" stroke-width="0"/>
<circle cx="244.83" cy="225.58" r="0.85" fill="#000" stroke="none" stroke-width="0"/>
<circle cx="243.53" cy="225.21" r="0.85" fill="#000" stroke="none" stroke-width="0"/>
<circle cx="243.43" cy="224.84" r="0.85" fill="#000" stroke="none" stroke-width="0"/>
<circle cx="245.36" cy="224.10" r="0.85" fill="#000" stroke="none" stroke-width="0"/>
<circle cx="244.08" cy="223.73" r="0.85" fill="#000" stroke="none" stroke-width="0"/>
<circle cx="243.45" cy="222.99" r="0.85" fill="#000" stroke="none" stroke-width="0"/>
<circle cx="244.08" cy="222.25" r="0.85" fill="#000" stroke="none" stroke-width="0"/>
<circle cx="244.93" cy="221.51" r="0.85" fill="#000" stroke="none" stroke-width="0"/>
<circle cx="242.47" cy="220.77" r="0.85" fill="#000" stroke="none" stroke-width="0"/>
<circle cx="245.96" cy="227.06" r="0.85" fill="#000" stroke="none" stroke-width="0"/>
<circle cx="242.34" cy="227.80" r="0.85" fill="#000" stroke="none" stroke-width="0"/>
<circle cx="245.10" cy="224.47" r="0.85" fill="#000" stroke="none" stroke-width="0"/>
<line x1="244.15" y1="223.73" x2="244.15" y2="227.43" stroke="#000" stroke-width="1.0"/>
<line x1="241.75" y1="225.58" x2="246.55" y2="225.58" stroke="#000" stroke-width="1.1"/>
<line x1="242.55" y1="223.73" x2="245.75" y2="223.73" stroke="#000" stroke-width="0.9"/>
<circle cx="255.96" cy="225.95" r="0.85" fill="#000" stroke="none" stroke-width="0"/>
<circle cx="252.82" cy="224.10" r="0.85" fill="#000" stroke="none" stroke-width="0"/>
<circle cx="255.74" cy="222.99" r="0.85" fill="#000" stroke="none" stroke-width="0"/>
<circle cx="254.14" cy="221.88" r="0.85" fill="#000" stroke="none" stroke-width="0"/>
<circle cx="254.95" cy="220.40" r="0.85" fill="#000" stroke="none" stroke-width="0"/>
<circle cx="252.78" cy="219.29" r="0.85" fill="#000" stroke="none" stroke-width="0"/>
<circle cx="252.93" cy="218.18" r="0.85" fill="#000" stroke="none" stroke-width="0"/>
<circle cx="253.44" cy="216.70" r="0.85" fill="#000" stroke="none" stroke-width="0"/>
<circle cx="256.38" cy="215.59" r="0.85" fill="#000" stroke="none" stroke-width="0"/>
<circle cx="253.50" cy="214.48" r="0.85" fill="#000" stroke="none" stroke-width="0"/>
<circle cx="255.62" cy="213.00" r="0.85" fill="#000" stroke="none" stroke-width="0"/>
<circle cx="256.28" cy="211.15" r="0.85" fill="#000" stroke="none" stroke-width="0"/>
<circle cx="256.33" cy="209.30" r="0.85" fill="#000" stroke="none" stroke-width="0"/>
<circle cx="254.06" cy="207.45" r="0.85" fill="#000" stroke="none" stroke-width="0"/>
<circle cx="254.10" cy="205.60" r="0.85" fill="#000" stroke="none" stroke-width="0"/>
<circle cx="254.74" cy="203.75" r="0.85" fill="#000" stroke="none" stroke-width="0"/>
<circle cx="255.70" cy="201.90" r="0.85" fill="#000" stroke="none" stroke-width="0"/>
<circle cx="253.16" cy="200.05" r="0.85" fill="#000" stroke="none" stroke-width="0"/>
<circle cx="255.59" cy="198.20" r="0.85" fill="#000" stroke="none" stroke-width="0"/>
<circle cx="255.78" cy="196.35" r="0.85" fill="#000" stroke="none" stroke-width="0"/>
<circle cx="256.02" cy="193.76" r="0.85" fill="#000" stroke="none" stroke-width="0"/>
<circle cx="252.89" cy="221.14" r="0.85" fill="#000" stroke="none" stroke-width="0"/>
<circle cx="256.34" cy="217.44" r="0.85" fill="#000" stroke="none" stroke-width="0"/>
<line x1="254.65" y1="213.37" x2="254.65" y2="217.07" stroke="#000" stroke-width="1.0"/>
<line x1="252.25" y1="215.22" x2="257.05" y2="215.22" stroke="#000" stroke-width="1.1"/>
<line x1="253.05" y1="213.37" x2="256.25" y2="213.37" stroke="#000" stroke-width="0.9"/>
<line x1="229.00" y1="178.70" x2="254.60" y2="178.70" stroke="#777" stroke-width="1.0"/>
<ellipse cx="237.35" cy="176.10" rx="1.1" ry="0.95" fill="#000"/>
<ellipse cx="240.25" cy="176.10" rx="1.1" ry="0.95" fill="#000"/>
<ellipse cx="243.15" cy="176.10" rx="1.1" ry="0.95" fill="#000"/>
<ellipse cx="246.05" cy="176.10" rx="1.1" ry="0.95" fill="#000"/>
<line x1="237.20" y1="186.50" x2="254.60" y2="186.50" stroke="#777" stroke-width="1.0"/>
<ellipse cx="241.55" cy="183.70" rx="1.1" ry="0.95" fill="#000"/>
<ellipse cx="244.45" cy="183.70" rx="1.1" ry="0.95" fill="#000"/>
<ellipse cx="247.35" cy="183.70" rx="1.1" ry="0.95" fill="#000"/>
<ellipse cx="250.25" cy="183.70" rx="1.1" ry="0.95" fill="#000"/>
<line x1="245.70" y1="193.20" x2="254.60" y2="193.20" stroke="#777" stroke-width="1.0"/>
<ellipse cx="246.05" cy="190.80" rx="1.1" ry="0.95" fill="#000"/>
<ellipse cx="248.95" cy="190.80" rx="1.1" ry="0.95" fill="#000"/>
<ellipse cx="251.85" cy="190.80" rx="1.1" ry="0.95" fill="#000"/>
<ellipse cx="254.75" cy="190.80" rx="1.1" ry="0.95" fill="#000"/>
<text x="231.00" y="240.58" font-size="5.0" text-anchor="end" font-weight="normal" fill="#000" stroke="#000" stroke-width="0.15" transform="rotate(-45 231.0 240.5831)">Cont</text>
<text x="239.40" y="240.80" font-size="5.0" text-anchor="end" font-weight="normal" fill="#000" stroke="#000" stroke-width="0.15" transform="rotate(-45 239.4 240.7952)">cKD</text>
<text x="248.60" y="240.58" font-size="5.0" text-anchor="end" font-weight="normal" fill="#000" stroke="#000" stroke-width="0.15" transform="rotate(-45 248.6 240.5831)">Cont</text>
<text x="257.40" y="240.50" font-size="5.0" text-anchor="end" font-weight="normal" fill="#000" stroke="#000" stroke-width="0.15" transform="rotate(-45 257.4 240.49519999999998)">cKD</text>
<line x1="222.00" y1="249.60" x2="238.70" y2="249.60" stroke="#333" stroke-width="0.85"/>
<line x1="240.30" y1="249.60" x2="256.70" y2="249.60" stroke="#333" stroke-width="0.85"/>
<text x="234.40" y="254.05" font-size="5.6" text-anchor="end" font-weight="normal" fill="#000" stroke="#000" stroke-width="0.15" transform="rotate(-45 234.4 254.048376)">+saline</text>
<text x="252.30" y="255.05" font-size="5.6" text-anchor="end" font-weight="normal" fill="#000" stroke="#000" stroke-width="0.15" transform="rotate(-45 252.3 255.048376)">+cocaine</text>
<text x="331.00" y="163.50" font-size="8.6" text-anchor="middle" font-weight="normal" fill="#000" stroke="#000" stroke-width="0.15">Amp (%)</text>
<line x1="288.60" y1="180.00" x2="288.60" y2="236.60" stroke="#222" stroke-width="0.8"/>
<line x1="288.60" y1="236.60" x2="372.80" y2="236.60" stroke="#222" stroke-width="0.8"/>
<line x1="287.00" y1="181.10" x2="288.60" y2="181.10" stroke="#222" stroke-width="0.6"/>
<text x="287.40" y="183.60" font-size="7.0" text-anchor="end" font-weight="normal" fill="#000" stroke="#000" stroke-width="0.15">100</text>
<line x1="287.00" y1="208.55" x2="288.60" y2="208.55" stroke="#222" stroke-width="0.6"/>
<text x="287.40" y="211.05" font-size="7.0" text-anchor="end" font-weight="normal" fill="#000" stroke="#000" stroke-width="0.15">50</text>
<line x1="287.00" y1="236.00" x2="288.60" y2="236.00" stroke="#222" stroke-width="0.6"/>
<text x="287.40" y="238.50" font-size="7.0" text-anchor="end" font-weight="normal" fill="#000" stroke="#000" stroke-width="0.15">0</text>
<line x1="288.50" y1="236.60" x2="288.50" y2="238.20" stroke="#222" stroke-width="0.6"/>
<text x="288.50" y="244.60" font-size="7.0" text-anchor="middle" font-weight="normal" fill="#000" stroke="#000" stroke-width="0.15">0</text>
<line x1="330.60" y1="236.60" x2="330.60" y2="238.20" stroke="#222" stroke-width="0.6"/>
<text x="330.60" y="244.60" font-size="7.0" text-anchor="middle" font-weight="normal" fill="#000" stroke="#000" stroke-width="0.15">25</text>
<line x1="372.70" y1="236.60" x2="372.70" y2="238.20" stroke="#222" stroke-width="0.6"/>
<text x="372.70" y="244.60" font-size="7.0" text-anchor="middle" font-weight="normal" fill="#000" stroke="#000" stroke-width="0.15">50</text>
<text x="331.30" y="254.40" font-size="7.0" text-anchor="middle" font-weight="normal" fill="#000" stroke="#000" stroke-width="0.15">pA</text>
<path d="M289.80,236.00 L289.91,236.00 L290.02,236.00 L290.14,236.00 L290.25,236.00 L290.36,236.00 L290.47,236.00 L290.58,236.00 L290.70,236.00 L290.81,236.00 L290.92,236.00 L291.03,236.00 L291.14,236.00 L291.26,236.00 L291.37,236.00 L291.48,236.00 L291.59,236.00 L291.70,236.00 L291.82,236.00 L291.93,236.00 L292.04,236.00 L292.13,235.99 L292.22,235.95 L292.30,235.89 L292.39,235.81 L292.48,235.71 L292.57,235.58 L292.66,235.45 L292.74,235.29 L292.83,235.12 L292.92,234.94 L293.01,234.75 L293.10,234.54 L293.18,234.33 L293.27,234.11 L293.36,233.88 L293.45,233.65 L293.54,233.42 L293.62,233.18 L293.71,232.94 L293.80,232.71 L293.91,232.38 L294.02,232.01 L294.14,231.59 L294.25,231.13 L294.36,230.63 L294.47,230.11 L294.58,229.56 L294.70,228.99 L294.81,228.40 L294.92,227.80 L295.03,227.20 L295.14,226.59 L295.26,225.99 L295.37,225.40 L295.48,224.81 L295.59,224.25 L295.70,223.71 L295.82,223.20 L295.93,222.72 L296.04,222.28 L296.26,221.47 L296.47,220.68 L296.69,219.92 L296.90,219.17 L297.12,218.43 L297.34,217.72 L297.55,217.01 L297.77,216.32 L297.98,215.64 L298.20,214.97 L298.42,214.31 L298.63,213.65 L298.85,213.01 L299.06,212.37 L299.28,211.73 L299.50,211.09 L299.71,210.46 L299.93,209.82 L300.14,209.19 L300.36,208.55 L300.61,207.81 L300.86,207.05 L301.10,206.28 L301.35,205.50 L301.60,204.71 L301.85,203.93 L302.10,203.14 L302.34,202.36 L302.59,201.60 L302.84,200.84 L303.09,200.10 L303.34,199.39 L303.58,198.69 L303.83,198.03 L304.08,197.39 L304.33,196.79 L304.58,196.23 L304.82,195.72 L305.07,195.25 L305.32,194.82 L305.69,194.25 L306.06,193.69 L306.42,193.14 L306.79,192.61 L307.16,192.10 L307.53,191.61 L307.90,191.13 L308.26,190.67 L308.63,190.23 L309.00,189.80 L309.37,189.40 L309.74,189.01 L310.10,188.64 L310.47,188.29 L310.84,187.96 L311.21,187.65 L311.58,187.35 L311.94,187.08 L312.31,186.83 L312.68,186.59 L313.14,186.31 L313.59,186.05 L314.05,185.79 L314.50,185.53 L314.96,185.29 L315.42,185.05 L315.87,184.83 L316.33,184.61 L316.78,184.40 L317.24,184.20 L317.70,184.01 L318.15,183.83 L318.61,183.65 L319.06,183.49 L319.52,183.34 L319.98,183.20 L320.43,183.07 L320.89,182.95 L321.34,182.84 L321.80,182.75 L322.20,182.67 L322.60,182.60 L323.00,182.52 L323.40,182.46 L323.80,182.39 L324.20,182.33 L324.60,182.27 L325.00,182.22 L325.40,182.17 L325.80,182.12 L326.20,182.07 L326.60,182.02 L327.00,181.98 L327.40,181.93 L327.80,181.89 L328.20,181.85 L328.60,181.81 L329.00,181.78 L329.40,181.74 L329.80,181.70 L330.20,181.67 L330.60,181.63 L331.00,181.59 L331.40,181.56 L331.80,181.52 L332.20,181.48 L332.60,181.44 L333.00,181.41 L333.40,181.38 L333.80,181.34 L334.20,181.31 L334.60,181.28 L335.00,181.26 L335.40,181.23 L335.80,181.21 L336.20,181.19 L336.60,181.18 L337.00,181.17 L337.40,181.16 L337.80,181.15 L339.52,181.15 L341.24,181.15 L342.96,181.14 L344.68,181.14 L346.40,181.13 L348.12,181.13 L349.84,181.13 L351.56,181.13 L353.28,181.12 L355.00,181.12 L356.72,181.12 L358.44,181.12 L360.16,181.12 L361.88,181.11 L363.60,181.11 L365.32,181.11 L367.04,181.11 L368.76,181.11 L370.48,181.10 L372.20,181.10" stroke="#e5232a" stroke-width="1.6" fill="none"/>
<path d="M289.80,236.00 L289.90,236.00 L289.99,236.00 L290.09,236.00 L290.18,236.00 L290.28,236.00 L290.38,236.00 L290.47,236.00 L290.57,236.00 L290.66,236.00 L290.76,236.00 L290.86,236.00 L290.95,236.00 L291.05,236.00 L291.14,236.00 L291.24,236.00 L291.34,236.00 L291.43,236.00 L291.53,236.00 L291.62,236.00 L291.72,236.00 L291.80,235.99 L291.88,235.95 L291.96,235.89 L292.04,235.81 L292.12,235.70 L292.20,235.58 L292.28,235.44 L292.36,235.29 L292.44,235.12 L292.52,234.94 L292.60,234.74 L292.68,234.54 L292.76,234.32 L292.84,234.10 L292.92,233.88 L293.00,233.65 L293.08,233.41 L293.16,233.18 L293.24,232.94 L293.32,232.71 L293.42,232.38 L293.53,232.01 L293.63,231.59 L293.74,231.14 L293.84,230.66 L293.94,230.15 L294.05,229.61 L294.15,229.06 L294.26,228.49 L294.36,227.90 L294.46,227.31 L294.57,226.71 L294.67,226.12 L294.78,225.52 L294.88,224.94 L294.98,224.36 L295.09,223.81 L295.19,223.27 L295.30,222.76 L295.40,222.28 L295.57,221.52 L295.74,220.79 L295.90,220.06 L296.07,219.34 L296.24,218.63 L296.41,217.93 L296.58,217.24 L296.74,216.55 L296.91,215.87 L297.08,215.20 L297.25,214.53 L297.42,213.86 L297.58,213.19 L297.75,212.53 L297.92,211.87 L298.09,211.21 L298.26,210.55 L298.42,209.88 L298.59,209.22 L298.76,208.55 L298.94,207.83 L299.11,207.09 L299.29,206.34 L299.46,205.56 L299.64,204.78 L299.82,203.98 L299.99,203.19 L300.17,202.40 L300.34,201.62 L300.52,200.85 L300.70,200.10 L300.87,199.37 L301.05,198.66 L301.22,197.99 L301.40,197.35 L301.58,196.75 L301.75,196.19 L301.93,195.68 L302.10,195.22 L302.28,194.82 L302.57,194.23 L302.86,193.66 L303.14,193.11 L303.43,192.57 L303.72,192.06 L304.01,191.56 L304.30,191.09 L304.58,190.63 L304.87,190.19 L305.16,189.77 L305.45,189.37 L305.74,188.99 L306.02,188.62 L306.31,188.28 L306.60,187.95 L306.89,187.64 L307.18,187.35 L307.46,187.08 L307.75,186.83 L308.04,186.59 L308.39,186.32 L308.74,186.05 L309.10,185.79 L309.45,185.54 L309.80,185.30 L310.15,185.06 L310.50,184.84 L310.86,184.62 L311.21,184.41 L311.56,184.21 L311.91,184.02 L312.26,183.84 L312.62,183.67 L312.97,183.51 L313.32,183.35 L313.67,183.21 L314.02,183.08 L314.38,182.96 L314.73,182.85 L315.08,182.75 L315.42,182.66 L315.75,182.57 L316.09,182.48 L316.42,182.40 L316.76,182.32 L317.10,182.24 L317.43,182.16 L317.77,182.09 L318.10,182.02 L318.44,181.95 L318.78,181.89 L319.11,181.83 L319.45,181.78 L319.78,181.73 L320.12,181.68 L320.46,181.64 L320.79,181.61 L321.13,181.58 L321.46,181.56 L321.80,181.54 L322.60,181.51 L323.40,181.47 L324.20,181.44 L325.00,181.41 L325.80,181.39 L326.60,181.36 L327.40,181.33 L328.20,181.31 L329.00,181.29 L329.80,181.27 L330.60,181.25 L331.40,181.23 L332.20,181.22 L333.00,181.20 L333.80,181.19 L334.60,181.18 L335.40,181.17 L336.20,181.16 L337.00,181.16 L337.80,181.15 L339.52,181.15 L341.24,181.15 L342.96,181.14 L344.68,181.14 L346.40,181.13 L348.12,181.13 L349.84,181.13 L351.56,181.13 L353.28,181.12 L355.00,181.12 L356.72,181.12 L358.44,181.12 L360.16,181.12 L361.88,181.11 L363.60,181.11 L365.32,181.11 L367.04,181.11 L368.76,181.11 L370.48,181.10 L372.20,181.10" stroke="#000" stroke-width="1.9" fill="none"/>
<rect x="301.50" y="213.30" width="24.50" height="18.00" fill="#fff" stroke="#333" stroke-width="0.75"/>
<circle cx="305.20" cy="218.10" r="1.9" fill="#000" stroke="none" stroke-width="0"/>
<text x="308.90" y="220.40" font-size="7.1" text-anchor="start" font-weight="normal" fill="#000" stroke="#000" stroke-width="0.15">Cont</text>
<circle cx="305.20" cy="226.60" r="1.9" fill="#e5232a" stroke="none" stroke-width="0"/>
<text x="308.90" y="229.00" font-size="7.1" text-anchor="start" font-weight="normal" fill="#000" stroke="#000" stroke-width="0.15">cKD</text>
<text x="410.80" y="158.80" font-size="7.2" text-anchor="middle" font-weight="normal" fill="#000" stroke="#000" stroke-width="0.15">mEPSC Amp</text>
<text x="411.60" y="166.30" font-size="7.2" text-anchor="middle" font-weight="normal" fill="#000" stroke="#000" stroke-width="0.15">(pA)</text>
<line x1="393.10" y1="179.20" x2="393.10" y2="235.30" stroke="#222" stroke-width="0.8"/>
<line x1="393.10" y1="235.30" x2="430.60" y2="235.30" stroke="#222" stroke-width="0.8"/>
<line x1="391.50" y1="179.30" x2="393.10" y2="179.30" stroke="#222" stroke-width="0.6"/>
<text x="391.30" y="181.50" font-size="6.6" text-anchor="end" font-weight="normal" fill="#000" stroke="#000" stroke-width="0.15">20</text>
<line x1="391.50" y1="193.30" x2="393.10" y2="193.30" stroke="#222" stroke-width="0.6"/>
<text x="391.30" y="195.50" font-size="6.6" text-anchor="end" font-weight="normal" fill="#000" stroke="#000" stroke-width="0.15">15</text>
<line x1="391.50" y1="207.30" x2="393.10" y2="207.30" stroke="#222" stroke-width="0.6"/>
<text x="391.30" y="209.50" font-size="6.6" text-anchor="end" font-weight="normal" fill="#000" stroke="#000" stroke-width="0.15">10</text>
<line x1="391.50" y1="221.30" x2="393.10" y2="221.30" stroke="#222" stroke-width="0.6"/>
<text x="391.30" y="223.50" font-size="6.6" text-anchor="end" font-weight="normal" fill="#000" stroke="#000" stroke-width="0.15">5</text>
<line x1="391.50" y1="235.30" x2="393.10" y2="235.30" stroke="#222" stroke-width="0.6"/>
<text x="391.30" y="237.50" font-size="6.6" text-anchor="end" font-weight="normal" fill="#000" stroke="#000" stroke-width="0.15">0</text>
<rect x="395.30" y="215.98" width="7.00" height="19.32" fill="#d5d5d5" stroke="none" stroke-width="0"/>
<rect x="404.30" y="216.26" width="7.20" height="19.04" fill="#fcdfe2" stroke="none" stroke-width="0"/>
<rect x="413.00" y="214.02" width="7.30" height="21.28" fill="#7d7d7d" stroke="none" stroke-width="0"/>
<rect x="422.10" y="213.46" width="6.90" height="21.84" fill="#e5232a" stroke="none" stroke-width="0"/>
<circle cx="397.16" cy="224.10" r="0.9" fill="#000" stroke="none" stroke-width="0"/>
<circle cx="398.16" cy="222.70" r="0.9" fill="#000" stroke="none" stroke-width="0"/>
<circle cx="399.24" cy="221.30" r="0.9" fill="#000" stroke="none" stroke-width="0"/>
<circle cx="400.47" cy="220.46" r="0.9" fill="#000" stroke="none" stroke-width="0"/>
<circle cx="398.16" cy="219.62" r="0.9" fill="#000" stroke="none" stroke-width="0"/>
<circle cx="400.50" cy="218.50" r="0.9" fill="#000" stroke="none" stroke-width="0"/>
<circle cx="398.98" cy="217.66" r="0.9" fill="#000" stroke="none" stroke-width="0"/>
<circle cx="398.05" cy="216.82" r="0.9" fill="#000" stroke="none" stroke-width="0"/>
<circle cx="398.07" cy="215.70" r="0.9" fill="#000" stroke="none" stroke-width="0"/>
<circle cx="397.51" cy="214.86" r="0.9" fill="#000" stroke="none" stroke-width="0"/>
<circle cx="397.11" cy="214.02" r="0.9" fill="#000" stroke="none" stroke-width="0"/>
<circle cx="397.40" cy="212.90" r="0.9" fill="#000" stroke="none" stroke-width="0"/>
<circle cx="399.56" cy="211.50" r="0.9" fill="#000" stroke="none" stroke-width="0"/>
<circle cx="400.79" cy="210.10" r="0.9" fill="#000" stroke="none" stroke-width="0"/>
<circle cx="397.45" cy="208.70" r="0.9" fill="#000" stroke="none" stroke-width="0"/>
<circle cx="396.99" cy="207.30" r="0.9" fill="#000" stroke="none" stroke-width="0"/>
<circle cx="400.75" cy="205.90" r="0.9" fill="#000" stroke="none" stroke-width="0"/>
<circle cx="398.93" cy="204.50" r="0.9" fill="#000" stroke="none" stroke-width="0"/>
<circle cx="398.42" cy="203.10" r="0.9" fill="#000" stroke="none" stroke-width="0"/>
<circle cx="397.75" cy="201.70" r="0.9" fill="#000" stroke="none" stroke-width="0"/>
<line x1="398.80" y1="213.74" x2="398.80" y2="218.22" stroke="#000" stroke-width="1.0"/>
<line x1="396.20" y1="215.98" x2="401.40" y2="215.98" stroke="#000" stroke-width="1.1"/>
<line x1="397.20" y1="213.74" x2="400.40" y2="213.74" stroke="#000" stroke-width="0.9"/>
<line x1="397.20" y1="218.22" x2="400.40" y2="218.22" stroke="#000" stroke-width="0.9"/>
<circle cx="408.28" cy="224.10" r="0.9" fill="#000" stroke="none" stroke-width="0"/>
<circle cx="409.21" cy="223.26" r="0.9" fill="#000" stroke="none" stroke-width="0"/>
<circle cx="407.72" cy="222.42" r="0.9" fill="#000" stroke="none" stroke-width="0"/>
<circle cx="407.59" cy="221.30" r="0.9" fill="#000" stroke="none" stroke-width="0"/>
<circle cx="406.12" cy="219.90" r="0.9" fill="#000" stroke="none" stroke-width="0"/>
<circle cx="409.56" cy="218.50" r="0.9" fill="#000" stroke="none" stroke-width="0"/>
<circle cx="406.03" cy="217.38" r="0.9" fill="#000" stroke="none" stroke-width="0"/>
<circle cx="407.87" cy="216.26" r="0.9" fill="#000" stroke="none" stroke-width="0"/>
<circle cx="409.25" cy="215.14" r="0.9" fill="#000" stroke="none" stroke-width="0"/>
<circle cx="406.42" cy="214.02" r="0.9" fill="#000" stroke="none" stroke-width="0"/>
<circle cx="408.83" cy="212.90" r="0.9" fill="#000" stroke="none" stroke-width="0"/>
<circle cx="409.70" cy="209.26" r="0.9" fill="#000" stroke="none" stroke-width="0"/>
<circle cx="408.42" cy="200.30" r="0.9" fill="#000" stroke="none" stroke-width="0"/>
<circle cx="409.05" cy="191.34" r="0.9" fill="#000" stroke="none" stroke-width="0"/>
<line x1="407.90" y1="214.02" x2="407.90" y2="218.50" stroke="#000" stroke-width="1.0"/>
<line x1="405.30" y1="216.26" x2="410.50" y2="216.26" stroke="#000" stroke-width="1.1"/>
<line x1="406.30" y1="214.02" x2="409.50" y2="214.02" stroke="#000" stroke-width="0.9"/>
<line x1="406.30" y1="218.50" x2="409.50" y2="218.50" stroke="#000" stroke-width="0.9"/>
<circle cx="415.08" cy="221.30" r="0.9" fill="#000" stroke="none" stroke-width="0"/>
<circle cx="416.39" cy="220.46" r="0.9" fill="#000" stroke="none" stroke-width="0"/>
<circle cx="415.25" cy="219.62" r="0.9" fill="#000" stroke="none" stroke-width="0"/>
<circle cx="418.03" cy="218.50" r="0.9" fill="#000" stroke="none" stroke-width="0"/>
<circle cx="415.83" cy="217.66" r="0.9" fill="#000" stroke="none" stroke-width="0"/>
<circle cx="416.46" cy="216.82" r="0.9" fill="#000" stroke="none" stroke-width="0"/>
<circle cx="418.65" cy="215.70" r="0.9" fill="#000" stroke="none" stroke-width="0"/>
<circle cx="418.06" cy="214.86" r="0.9" fill="#000" stroke="none" stroke-width="0"/>
<circle cx="418.55" cy="214.02" r="0.9" fill="#000" stroke="none" stroke-width="0"/>
<circle cx="416.46" cy="212.90" r="0.9" fill="#000" stroke="none" stroke-width="0"/>
<circle cx="416.60" cy="212.06" r="0.9" fill="#000" stroke="none" stroke-width="0"/>
<circle cx="417.57" cy="211.22" r="0.9" fill="#000" stroke="none" stroke-width="0"/>
<circle cx="416.57" cy="210.10" r="0.9" fill="#000" stroke="none" stroke-width="0"/>
<circle cx="415.81" cy="208.98" r="0.9" fill="#000" stroke="none" stroke-width="0"/>
<circle cx="416.27" cy="207.86" r="0.9" fill="#000" stroke="none" stroke-width="0"/>
<circle cx="415.24" cy="206.46" r="0.9" fill="#000" stroke="none" stroke-width="0"/>
<circle cx="416.16" cy="204.50" r="0.9" fill="#000" stroke="none" stroke-width="0"/>
<line x1="416.65" y1="211.78" x2="416.65" y2="216.26" stroke="#000" stroke-width="1.0"/>
<line x1="414.05" y1="214.02" x2="419.25" y2="214.02" stroke="#000" stroke-width="1.1"/>
<line x1="415.05" y1="211.78" x2="418.25" y2="211.78" stroke="#000" stroke-width="0.9"/>
<line x1="415.05" y1="216.26" x2="418.25" y2="216.26" stroke="#000" stroke-width="0.9"/>
<circle cx="427.50" cy="221.86" r="0.9" fill="#000" stroke="none" stroke-width="0"/>
<circle cx="427.39" cy="220.74" r="0.9" fill="#000" stroke="none" stroke-width="0"/>
<circle cx="426.06" cy="219.62" r="0.9" fill="#000" stroke="none" stroke-width="0"/>
<circle cx="425.55" cy="218.50" r="0.9" fill="#000" stroke="none" stroke-width="0"/>
<circle cx="424.90" cy="217.66" r="0.9" fill="#000" stroke="none" stroke-width="0"/>
<circle cx="423.91" cy="216.82" r="0.9" fill="#000" stroke="none" stroke-width="0"/>
<circle cx="424.64" cy="215.70" r="0.9" fill="#000" stroke="none" stroke-width="0"/>
<circle cx="426.68" cy="214.86" r="0.9" fill="#000" stroke="none" stroke-width="0"/>
<circle cx="427.02" cy="214.02" r="0.9" fill="#000" stroke="none" stroke-width="0"/>
<circle cx="425.00" cy="212.90" r="0.9" fill="#000" stroke="none" stroke-width="0"/>
<circle cx="426.69" cy="212.06" r="0.9" fill="#000" stroke="none" stroke-width="0"/>
<circle cx="426.65" cy="210.94" r="0.9" fill="#000" stroke="none" stroke-width="0"/>
<circle cx="426.33" cy="210.10" r="0.9" fill="#000" stroke="none" stroke-width="0"/>
<circle cx="426.21" cy="208.70" r="0.9" fill="#000" stroke="none" stroke-width="0"/>
<circle cx="426.59" cy="207.30" r="0.9" fill="#000" stroke="none" stroke-width="0"/>
<circle cx="425.00" cy="204.50" r="0.9" fill="#000" stroke="none" stroke-width="0"/>
<circle cx="426.37" cy="201.70" r="0.9" fill="#000" stroke="none" stroke-width="0"/>
<line x1="425.55" y1="211.22" x2="425.55" y2="215.70" stroke="#000" stroke-width="1.0"/>
<line x1="422.95" y1="213.46" x2="428.15" y2="213.46" stroke="#000" stroke-width="1.1"/>
<line x1="423.95" y1="211.22" x2="427.15" y2="211.22" stroke="#000" stroke-width="0.9"/>
<line x1="423.95" y1="215.70" x2="427.15" y2="215.70" stroke="#000" stroke-width="0.9"/>
<text x="400.70" y="240.48" font-size="5.0" text-anchor="end" font-weight="normal" fill="#000" stroke="#000" stroke-width="0.15" transform="rotate(-45 400.7 240.48309999999998)">Cont</text>
<text x="408.50" y="240.70" font-size="5.0" text-anchor="end" font-weight="normal" fill="#000" stroke="#000" stroke-width="0.15" transform="rotate(-45 408.5 240.69519999999997)">cKD</text>
<text x="417.80" y="240.48" font-size="5.0" text-anchor="end" font-weight="normal" fill="#000" stroke="#000" stroke-width="0.15" transform="rotate(-45 417.8 240.48309999999998)">Cont</text>
<text x="426.40" y="240.00" font-size="5.0" text-anchor="end" font-weight="normal" fill="#000" stroke="#000" stroke-width="0.15" transform="rotate(-45 426.4 239.99519999999998)">cKD</text>
<line x1="391.70" y1="248.70" x2="407.60" y2="248.70" stroke="#888" stroke-width="1.0"/>
<line x1="408.70" y1="248.70" x2="425.90" y2="248.70" stroke="#888" stroke-width="1.0"/>
<text x="403.60" y="252.95" font-size="5.6" text-anchor="end" font-weight="normal" fill="#000" stroke="#000" stroke-width="0.15" transform="rotate(-45 403.6 252.948376)">+saline</text>
<text x="422.30" y="253.65" font-size="5.6" text-anchor="end" font-weight="normal" fill="#000" stroke="#000" stroke-width="0.15" transform="rotate(-45 422.3 253.64837599999998)">+cocaine</text>
<path d="M452.4,166.0 L460.4,166.0 C461.6,167 462.6,178 463.6,186 C464.0,189 464.6,189.8 465.2,189.6 C466.5,188.5 468.5,180 471.5,174.5 C474.5,169.5 478.5,167.2 482.8,166.8" stroke="#333" stroke-width="0.8" fill="none"/>
<path d="M463.0,165.4 L469.4,165.4 C470.6,166.5 471.8,178 473.2,186 C473.7,189 474.3,189.8 474.9,189.6 C476.3,188.5 478.5,180 481.5,174.8 C484.2,170 487.3,167.8 490.4,167.3" stroke="#333" stroke-width="0.8" fill="none"/>
<line x1="457.20" y1="161.70" x2="457.20" y2="164.80" stroke="#3aa6dd" stroke-width="1.0"/>
<line x1="465.90" y1="161.70" x2="465.90" y2="164.80" stroke="#3aa6dd" stroke-width="1.0"/>
<line x1="496.40" y1="180.70" x2="496.40" y2="193.70" stroke="#333" stroke-width="0.8"/>
<line x1="487.00" y1="193.70" x2="496.40" y2="193.70" stroke="#333" stroke-width="0.8"/>
<text x="470.30" y="199.80" font-size="7.3" text-anchor="middle" font-weight="normal" fill="#000" stroke="#000" stroke-width="0.15">Cont</text>
<path d="M452.4,207.9 L461.0,207.9 C462.0,209 462.6,222 463.3,229 C463.6,231.8 464.0,232.5 464.5,232.2 C466.0,230 468.0,220 471.5,215 C474.5,211.5 478.0,210.6 481.7,210.4" stroke="#333" stroke-width="0.8" fill="none"/>
<path d="M461.0,207.9 L469.6,207.9 C470.6,209 471.8,222 472.8,230 C473.2,233 473.7,233.7 474.2,233.4 C475.8,231 478.5,221 482.0,216 C484.5,212.5 486.8,211.4 489.2,211.1" stroke="#333" stroke-width="0.8" fill="none"/>
<line x1="456.20" y1="203.70" x2="456.20" y2="206.90" stroke="#3aa6dd" stroke-width="1.0"/>
<line x1="465.60" y1="203.70" x2="465.60" y2="206.90" stroke="#3aa6dd" stroke-width="1.0"/>
<line x1="496.40" y1="226.80" x2="496.40" y2="234.70" stroke="#333" stroke-width="0.8"/>
<line x1="487.20" y1="234.70" x2="496.40" y2="234.70" stroke="#333" stroke-width="0.8"/>
<text x="469.90" y="246.00" font-size="7.4" text-anchor="middle" font-weight="normal" fill="#000" stroke="#000" stroke-width="0.15">cKD</text>
<text x="490.30" y="243.50" font-size="7.4" text-anchor="middle" font-weight="normal" fill="#000" stroke="#000" stroke-width="0.15">20</text>
<text x="491.30" y="251.30" font-size="7.4" text-anchor="middle" font-weight="normal" fill="#000" stroke="#000" stroke-width="0.15">ms</text>
<text x="504.50" y="229.00" font-size="7.4" text-anchor="middle" font-weight="normal" fill="#000" stroke="#000" stroke-width="0.15" transform="rotate(-90 504.5 229.0)">50 pA</text>
<text x="540.60" y="161.70" font-size="8.6" text-anchor="middle" font-weight="normal" fill="#000" stroke="#000" stroke-width="0.15">PPR</text>
<line x1="520.20" y1="173.40" x2="520.20" y2="236.20" stroke="#222" stroke-width="0.8"/>
<line x1="520.20" y1="236.20" x2="553.80" y2="236.20" stroke="#222" stroke-width="0.8"/>
<line x1="518.60" y1="173.30" x2="520.20" y2="173.30" stroke="#222" stroke-width="0.6"/>
<text x="518.80" y="175.80" font-size="7.0" text-anchor="end" font-weight="normal" fill="#000" stroke="#000" stroke-width="0.15">1.5</text>
<line x1="518.60" y1="204.50" x2="520.20" y2="204.50" stroke="#222" stroke-width="0.6"/>
<text x="518.80" y="207.00" font-size="7.0" text-anchor="end" font-weight="normal" fill="#000" stroke="#000" stroke-width="0.15">1.0</text>
<line x1="518.60" y1="235.70" x2="520.20" y2="235.70" stroke="#222" stroke-width="0.6"/>
<text x="518.80" y="238.20" font-size="7.0" text-anchor="end" font-weight="normal" fill="#000" stroke="#000" stroke-width="0.15">0.0</text>
<text x="531.30" y="241.56" font-size="6.3" text-anchor="end" font-weight="normal" fill="#000" stroke="#000" stroke-width="0.15" transform="rotate(-45 531.3 241.556952)">50</text>
<text x="540.40" y="240.66" font-size="6.3" text-anchor="end" font-weight="normal" fill="#000" stroke="#000" stroke-width="0.15" transform="rotate(-45 540.4 240.656952)">100</text>
<text x="548.90" y="240.86" font-size="6.3" text-anchor="end" font-weight="normal" fill="#000" stroke="#000" stroke-width="0.15" transform="rotate(-45 548.9 240.85695199999998)">150</text>
<text x="556.50" y="245.70" font-size="7.0" text-anchor="middle" font-weight="normal" fill="#000" stroke="#000" stroke-width="0.15">ms</text>
<line x1="528.60" y1="194.80" x2="528.60" y2="209.70" stroke="#000" stroke-width="0.8"/>
<line x1="537.30" y1="206.00" x2="537.30" y2="222.10" stroke="#000" stroke-width="0.8"/>
<line x1="546.00" y1="206.00" x2="546.00" y2="220.90" stroke="#000" stroke-width="0.8"/>
<path d="M528.60,201.80 L537.30,213.40 L546.00,212.20" stroke="#000" stroke-width="1.0" fill="none"/>
<circle cx="528.60" cy="201.80" r="1.6" fill="#000" stroke="none" stroke-width="0"/>
<circle cx="537.30" cy="213.40" r="1.6" fill="#000" stroke="none" stroke-width="0"/>
<circle cx="546.00" cy="212.20" r="1.6" fill="#000" stroke="none" stroke-width="0"/>
<line x1="528.60" y1="184.40" x2="528.60" y2="194.80" stroke="#e5232a" stroke-width="0.8"/>
<line x1="537.30" y1="202.30" x2="537.30" y2="209.70" stroke="#e5232a" stroke-width="0.8"/>
<line x1="546.00" y1="199.30" x2="546.00" y2="211.00" stroke="#e5232a" stroke-width="0.8"/>
<path d="M528.60,189.90 L537.30,206.50 L546.00,204.70" stroke="#e5232a" stroke-width="1.0" fill="none"/>
<circle cx="528.60" cy="189.90" r="1.6" fill="#e5232a" stroke="none" stroke-width="0"/>
<circle cx="537.30" cy="206.50" r="1.6" fill="#e5232a" stroke="none" stroke-width="0"/>
<circle cx="546.00" cy="204.70" r="1.6" fill="#e5232a" stroke="none" stroke-width="0"/>
<rect x="534.00" y="173.70" width="29.40" height="14.70" fill="#fff" stroke="#222" stroke-width="0.75"/>
<line x1="536.60" y1="177.40" x2="546.20" y2="177.40" stroke="#000" stroke-width="0.9"/>
<circle cx="541.40" cy="177.40" r="1.5" fill="#000" stroke="none" stroke-width="0"/>
<text x="547.50" y="179.90" font-size="7.2" text-anchor="start" font-weight="normal" fill="#000" stroke="#000" stroke-width="0.15">Cont</text>
<line x1="536.60" y1="184.70" x2="546.20" y2="184.70" stroke="#e5232a" stroke-width="0.9"/>
<circle cx="541.40" cy="184.70" r="1.5" fill="#e5232a" stroke="none" stroke-width="0"/>
<text x="547.50" y="187.20" font-size="7.2" text-anchor="start" font-weight="normal" fill="#000" stroke="#000" stroke-width="0.15">cKD</text>
<path d="M587.2,171.4 L589.6,171.4 L590.0,161.2 C591.0,163.5 592.0,165.4 594.0,166.6 C597,168.2 602,169.3 612.3,170.1" stroke="#555" stroke-width="0.75" fill="none"/>
<path d="M589.2,171.4 L589.2,194.8 C589.8,188 590.6,183 591.5,180.5 C592.5,177 594,175 596.5,174 C600,173.2 605,173.1 612.3,173.0" stroke="#555" stroke-width="0.75" fill="none"/>
<line x1="587.40" y1="168.70" x2="587.40" y2="172.20" stroke="#3aa6dd" stroke-width="1.1"/>
<text x="610.40" y="181.20" font-size="7.2" text-anchor="middle" font-weight="normal" fill="#000" stroke="#000" stroke-width="0.15">Cont</text>
<path d="M585.4,212.9 L589.6,212.9 L589.9,200.0 C590.8,202.5 592.2,204.5 594.5,206 C598,207.6 604,208.7 612.7,209.4" stroke="#555" stroke-width="0.75" fill="none"/>
<path d="M589.4,212.9 L589.4,245.9 C590.0,235 590.8,226 591.8,220.5 C593,216 595,214 597.3,213.6 C601,213.1 606,213.0 612.7,212.9" stroke="#555" stroke-width="0.75" fill="none"/>
<line x1="586.10" y1="209.40" x2="586.10" y2="212.90" stroke="#3aa6dd" stroke-width="1.1"/>
<text x="612.60" y="220.50" font-size="7.4" text-anchor="middle" font-weight="normal" fill="#000" stroke="#000" stroke-width="0.15">cKD</text>
<line x1="613.40" y1="232.20" x2="613.40" y2="242.60" stroke="#333" stroke-width="0.8"/>
<line x1="604.20" y1="242.60" x2="613.40" y2="242.60" stroke="#333" stroke-width="0.8"/>
<text x="609.10" y="251.70" font-size="7.3" text-anchor="middle" font-weight="normal" fill="#000" stroke="#000" stroke-width="0.15">100</text>
<text x="609.70" y="259.90" font-size="7.2" text-anchor="middle" font-weight="normal" fill="#000" stroke="#000" stroke-width="0.15">ms</text>
<text x="621.30" y="234.10" font-size="7.4" text-anchor="middle" font-weight="normal" fill="#000" stroke="#000" stroke-width="0.15" transform="rotate(-90 621.3 234.1)">50 pA</text>
<text x="659.60" y="160.40" font-size="8.3" text-anchor="middle" font-weight="normal" fill="#000" stroke="#000" stroke-width="0.15">A/N ratio</text>
<line x1="638.30" y1="176.60" x2="638.30" y2="246.60" stroke="#222" stroke-width="0.8"/>
<line x1="638.30" y1="246.60" x2="685.00" y2="246.60" stroke="#222" stroke-width="0.8"/>
<line x1="636.70" y1="177.10" x2="638.30" y2="177.10" stroke="#222" stroke-width="0.6"/>
<text x="635.40" y="179.60" font-size="7.0" text-anchor="end" font-weight="normal" fill="#000" stroke="#000" stroke-width="0.15">6</text>
<line x1="636.70" y1="200.20" x2="638.30" y2="200.20" stroke="#222" stroke-width="0.6"/>
<text x="635.40" y="202.70" font-size="7.0" text-anchor="end" font-weight="normal" fill="#000" stroke="#000" stroke-width="0.15">4</text>
<line x1="636.70" y1="223.30" x2="638.30" y2="223.30" stroke="#222" stroke-width="0.6"/>
<text x="635.40" y="225.80" font-size="7.0" text-anchor="end" font-weight="normal" fill="#000" stroke="#000" stroke-width="0.15">2</text>
<line x1="636.70" y1="246.40" x2="638.30" y2="246.40" stroke="#222" stroke-width="0.6"/>
<text x="635.40" y="248.90" font-size="7.0" text-anchor="end" font-weight="normal" fill="#000" stroke="#000" stroke-width="0.15">0</text>
<rect x="641.80" y="218.68" width="6.80" height="27.92" fill="#d5d5d5" stroke="none" stroke-width="0"/>
<rect x="651.80" y="220.99" width="6.70" height="25.61" fill="#fcdfe2" stroke="none" stroke-width="0"/>
<rect x="663.00" y="229.07" width="6.80" height="17.53" fill="#7d7d7d" stroke="none" stroke-width="0"/>
<rect x="674.20" y="209.44" width="6.80" height="37.16" fill="#e5232a" stroke="none" stroke-width="0"/>
<circle cx="644.99" cy="236.00" r="1.05" fill="none" stroke="#111" stroke-width="0.65"/>
<circle cx="644.49" cy="234.85" r="1.05" fill="none" stroke="#111" stroke-width="0.65"/>
<circle cx="643.18" cy="232.54" r="1.05" fill="none" stroke="#111" stroke-width="0.65"/>
<circle cx="647.25" cy="231.96" r="1.05" fill="none" stroke="#111" stroke-width="0.65"/>
<circle cx="642.44" cy="231.38" r="1.05" fill="none" stroke="#111" stroke-width="0.65"/>
<circle cx="645.22" cy="224.46" r="1.05" fill="none" stroke="#111" stroke-width="0.65"/>
<circle cx="647.43" cy="223.30" r="1.05" fill="none" stroke="#111" stroke-width="0.65"/>
<circle cx="642.85" cy="222.15" r="1.05" fill="none" stroke="#111" stroke-width="0.65"/>
<circle cx="645.50" cy="220.99" r="1.05" fill="none" stroke="#111" stroke-width="0.65"/>
<circle cx="645.85" cy="219.84" r="1.05" fill="none" stroke="#111" stroke-width="0.65"/>
<circle cx="642.63" cy="218.68" r="1.05" fill="none" stroke="#111" stroke-width="0.65"/>
<circle cx="644.52" cy="217.53" r="1.05" fill="none" stroke="#111" stroke-width="0.65"/>
<circle cx="646.34" cy="216.37" r="1.05" fill="none" stroke="#111" stroke-width="0.65"/>
<circle cx="644.93" cy="215.22" r="1.05" fill="none" stroke="#111" stroke-width="0.65"/>
<circle cx="646.46" cy="214.06" r="1.05" fill="none" stroke="#111" stroke-width="0.65"/>
<circle cx="643.28" cy="212.91" r="1.05" fill="none" stroke="#111" stroke-width="0.65"/>
<circle cx="643.73" cy="211.75" r="1.05" fill="none" stroke="#111" stroke-width="0.65"/>
<circle cx="643.02" cy="208.28" r="1.05" fill="none" stroke="#111" stroke-width="0.65"/>
<circle cx="645.21" cy="202.51" r="1.05" fill="none" stroke="#111" stroke-width="0.65"/>
<line x1="645.20" y1="215.79" x2="645.20" y2="221.57" stroke="#000" stroke-width="1.0"/>
<line x1="642.60" y1="218.68" x2="647.80" y2="218.68" stroke="#000" stroke-width="1.2"/>
<line x1="643.70" y1="215.79" x2="646.70" y2="215.79" stroke="#000" stroke-width="0.9"/>
<line x1="643.70" y1="221.57" x2="646.70" y2="221.57" stroke="#000" stroke-width="0.9"/>
<circle cx="657.52" cy="231.38" r="1.05" fill="none" stroke="#111" stroke-width="0.65"/>
<circle cx="655.66" cy="229.07" r="1.05" fill="none" stroke="#111" stroke-width="0.65"/>
<circle cx="656.69" cy="226.77" r="1.05" fill="none" stroke="#111" stroke-width="0.65"/>
<circle cx="654.50" cy="224.46" r="1.05" fill="none" stroke="#111" stroke-width="0.65"/>
<circle cx="656.53" cy="223.30" r="1.05" fill="none" stroke="#111" stroke-width="0.65"/>
<circle cx="652.92" cy="220.99" r="1.05" fill="none" stroke="#111" stroke-width="0.65"/>
<circle cx="653.98" cy="218.68" r="1.05" fill="none" stroke="#111" stroke-width="0.65"/>
<circle cx="656.13" cy="216.37" r="1.05" fill="none" stroke="#111" stroke-width="0.65"/>
<circle cx="656.41" cy="214.06" r="1.05" fill="none" stroke="#111" stroke-width="0.65"/>
<circle cx="654.71" cy="211.75" r="1.05" fill="none" stroke="#111" stroke-width="0.65"/>
<circle cx="652.84" cy="203.66" r="1.05" fill="none" stroke="#111" stroke-width="0.65"/>
<line x1="655.15" y1="218.10" x2="655.15" y2="223.88" stroke="#000" stroke-width="1.0"/>
<line x1="652.55" y1="220.99" x2="657.75" y2="220.99" stroke="#000" stroke-width="1.2"/>
<line x1="653.65" y1="218.10" x2="656.65" y2="218.10" stroke="#000" stroke-width="0.9"/>
<line x1="653.65" y1="223.88" x2="656.65" y2="223.88" stroke="#000" stroke-width="0.9"/>
<circle cx="665.09" cy="234.85" r="1.05" fill="#222" stroke="#111" stroke-width="0.65"/>
<circle cx="664.78" cy="233.69" r="1.05" fill="#222" stroke="#111" stroke-width="0.65"/>
<circle cx="665.17" cy="232.54" r="1.05" fill="#222" stroke="#111" stroke-width="0.65"/>
<circle cx="668.13" cy="231.96" r="1.05" fill="#222" stroke="#111" stroke-width="0.65"/>
<circle cx="664.72" cy="231.38" r="1.05" fill="#222" stroke="#111" stroke-width="0.65"/>
<circle cx="668.56" cy="230.81" r="1.05" fill="#222" stroke="#111" stroke-width="0.65"/>
<circle cx="668.52" cy="230.23" r="1.05" fill="#222" stroke="#111" stroke-width="0.65"/>
<circle cx="663.91" cy="229.65" r="1.05" fill="#222" stroke="#111" stroke-width="0.65"/>
<circle cx="665.72" cy="229.07" r="1.05" fill="#222" stroke="#111" stroke-width="0.65"/>
<circle cx="666.35" cy="228.50" r="1.05" fill="#222" stroke="#111" stroke-width="0.65"/>
<circle cx="663.73" cy="227.92" r="1.05" fill="#222" stroke="#111" stroke-width="0.65"/>
<circle cx="665.98" cy="226.77" r="1.05" fill="#222" stroke="#111" stroke-width="0.65"/>
<circle cx="668.68" cy="225.61" r="1.05" fill="#222" stroke="#111" stroke-width="0.65"/>
<circle cx="664.23" cy="224.46" r="1.05" fill="#222" stroke="#111" stroke-width="0.65"/>
<line x1="666.40" y1="226.19" x2="666.40" y2="231.96" stroke="#000" stroke-width="1.0"/>
<line x1="663.80" y1="229.07" x2="669.00" y2="229.07" stroke="#000" stroke-width="1.2"/>
<line x1="664.90" y1="226.19" x2="667.90" y2="226.19" stroke="#000" stroke-width="0.9"/>
<line x1="664.90" y1="231.96" x2="667.90" y2="231.96" stroke="#000" stroke-width="0.9"/>
<circle cx="678.14" cy="230.23" r="1.05" fill="none" stroke="#111" stroke-width="0.65"/>
<circle cx="675.48" cy="223.30" r="1.05" fill="none" stroke="#111" stroke-width="0.65"/>
<circle cx="678.04" cy="220.99" r="1.05" fill="none" stroke="#111" stroke-width="0.65"/>
<circle cx="679.81" cy="217.53" r="1.05" fill="none" stroke="#111" stroke-width="0.65"/>
<circle cx="675.94" cy="215.22" r="1.05" fill="#222" stroke="#111" stroke-width="0.65"/>
<circle cx="674.85" cy="214.06" r="1.05" fill="#222" stroke="#111" stroke-width="0.65"/>
<circle cx="675.27" cy="212.91" r="1.05" fill="#222" stroke="#111" stroke-width="0.65"/>
<circle cx="677.82" cy="211.75" r="1.05" fill="#222" stroke="#111" stroke-width="0.65"/>
<circle cx="674.90" cy="210.59" r="1.05" fill="#222" stroke="#111" stroke-width="0.65"/>
<circle cx="675.28" cy="209.44" r="1.05" fill="#222" stroke="#111" stroke-width="0.65"/>
<circle cx="677.58" cy="208.28" r="1.05" fill="#222" stroke="#111" stroke-width="0.65"/>
<circle cx="679.96" cy="207.13" r="1.05" fill="#222" stroke="#111" stroke-width="0.65"/>
<circle cx="677.15" cy="205.97" r="1.05" fill="#222" stroke="#111" stroke-width="0.65"/>
<circle cx="677.03" cy="204.82" r="1.05" fill="#222" stroke="#111" stroke-width="0.65"/>
<circle cx="677.82" cy="202.51" r="1.05" fill="none" stroke="#111" stroke-width="0.65"/>
<circle cx="676.95" cy="200.20" r="1.05" fill="none" stroke="#111" stroke-width="0.65"/>
<circle cx="677.73" cy="196.74" r="1.05" fill="none" stroke="#111" stroke-width="0.65"/>
<circle cx="677.08" cy="193.27" r="1.05" fill="none" stroke="#111" stroke-width="0.65"/>
<circle cx="677.77" cy="189.81" r="1.05" fill="none" stroke="#111" stroke-width="0.65"/>
<circle cx="678.33" cy="187.50" r="1.05" fill="none" stroke="#111" stroke-width="0.65"/>
<line x1="677.60" y1="206.55" x2="677.60" y2="212.33" stroke="#000" stroke-width="1.0"/>
<line x1="675.00" y1="209.44" x2="680.20" y2="209.44" stroke="#000" stroke-width="1.2"/>
<line x1="676.10" y1="206.55" x2="679.10" y2="206.55" stroke="#000" stroke-width="0.9"/>
<line x1="676.10" y1="212.33" x2="679.10" y2="212.33" stroke="#000" stroke-width="0.9"/>
<line x1="645.30" y1="167.40" x2="677.60" y2="167.40" stroke="#333" stroke-width="0.8"/>
<line x1="656.30" y1="173.10" x2="677.60" y2="173.10" stroke="#333" stroke-width="0.8"/>
<line x1="645.30" y1="179.30" x2="666.90" y2="179.30" stroke="#333" stroke-width="0.8"/>
<line x1="656.30" y1="185.10" x2="666.00" y2="185.10" stroke="#333" stroke-width="0.8"/>
<line x1="667.30" y1="185.10" x2="678.40" y2="185.10" stroke="#333" stroke-width="0.8"/>
<ellipse cx="657.65" cy="165.10" rx="1.15" ry="1.0" fill="#000"/>
<ellipse cx="660.55" cy="165.10" rx="1.15" ry="1.0" fill="#000"/>
<ellipse cx="663.45" cy="165.10" rx="1.15" ry="1.0" fill="#000"/>
<ellipse cx="666.35" cy="165.10" rx="1.15" ry="1.0" fill="#000"/>
<ellipse cx="665.10" cy="171.00" rx="1.15" ry="1.0" fill="#000"/>
<ellipse cx="668.00" cy="171.00" rx="1.15" ry="1.0" fill="#000"/>
<ellipse cx="670.90" cy="171.00" rx="1.15" ry="1.0" fill="#000"/>
<ellipse cx="655.40" cy="177.20" rx="1.15" ry="1.0" fill="#000"/>
<ellipse cx="660.70" cy="183.00" rx="1.15" ry="1.0" fill="#000"/>
<ellipse cx="668.75" cy="183.00" rx="1.15" ry="1.0" fill="#000"/>
<ellipse cx="671.65" cy="183.00" rx="1.15" ry="1.0" fill="#000"/>
<ellipse cx="674.55" cy="183.00" rx="1.15" ry="1.0" fill="#000"/>
<ellipse cx="677.45" cy="183.00" rx="1.15" ry="1.0" fill="#000"/>
<text x="648.00" y="251.32" font-size="5.3" text-anchor="end" font-weight="normal" fill="#000" stroke="#000" stroke-width="0.15" transform="rotate(-45 648.0 251.323086)">Cont</text>
<text x="658.80" y="251.85" font-size="5.3" text-anchor="end" font-weight="normal" fill="#000" stroke="#000" stroke-width="0.15" transform="rotate(-45 658.8 251.84791199999998)">cKD</text>
<text x="670.20" y="251.62" font-size="5.3" text-anchor="end" font-weight="normal" fill="#000" stroke="#000" stroke-width="0.15" transform="rotate(-45 670.2 251.62308599999997)">Cont</text>
<text x="680.30" y="251.85" font-size="5.3" text-anchor="end" font-weight="normal" fill="#000" stroke="#000" stroke-width="0.15" transform="rotate(-45 680.3 251.84791199999998)">cKD</text>
<line x1="638.70" y1="261.30" x2="656.00" y2="261.30" stroke="#333" stroke-width="0.9"/>
<line x1="662.70" y1="261.30" x2="679.40" y2="261.30" stroke="#333" stroke-width="0.9"/>
<text x="650.70" y="265.86" font-size="5.9" text-anchor="end" font-weight="normal" fill="#000" stroke="#000" stroke-width="0.15" transform="rotate(-45 650.7 265.86078899999995)">+saline</text>
<text x="672.90" y="266.56" font-size="5.9" text-anchor="end" font-weight="normal" fill="#000" stroke="#000" stroke-width="0.15" transform="rotate(-45 672.9 266.56078899999994)">+cocaine</text>
</svg></body></html>
